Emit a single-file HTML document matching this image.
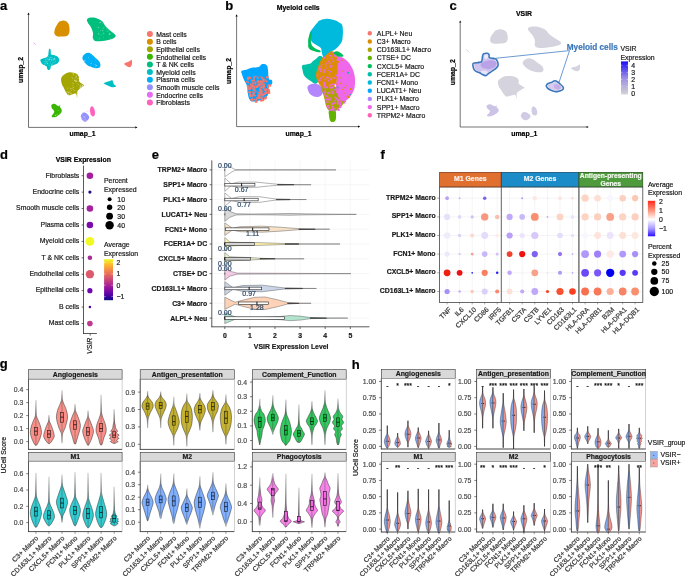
<!DOCTYPE html>
<html><head><meta charset="utf-8"><style>
html,body{margin:0;padding:0;background:#fff;width:685px;height:576px;overflow:hidden}
svg{display:block;will-change:transform}
text{font-family:"Liberation Sans", sans-serif}
</style></head><body>
<svg width="685" height="576" viewBox="0 0 685 576" font-family="Liberation Sans, sans-serif">
<rect width="685" height="576" fill="#fff"/>
<text x="0" y="10.2" font-size="13" font-weight="bold" stroke="#000" stroke-width="0.2">a</text>
<line x1="28.5" y1="127.4" x2="28.5" y2="14.3" stroke="#000" stroke-width="0.55"/>
<path d="M28.5,12.5 L27.4,14.7 L29.6,14.7Z" fill="#000"/>
<line x1="28.5" y1="127.4" x2="135.7" y2="127.4" stroke="#000" stroke-width="0.55"/>
<path d="M137.5,127.4 L135.3,126.3 L135.3,128.5Z" fill="#000"/>
<text x="82.5" y="136.4" font-size="6.9" font-weight="bold" text-anchor="middle" stroke="#000" stroke-width="0.2">umap_1</text>
<text x="23.3" y="70" font-size="6.9" font-weight="bold" text-anchor="middle" stroke="#000" stroke-width="0.2" transform="rotate(-90 23.3 70)">umap_2</text>
<defs><filter id="soft" x="-5%" y="-5%" width="110%" height="110%"><feGaussianBlur stdDeviation="0.35"/></filter></defs>
<g filter="url(#soft)">
<path d="M61,21 C62.1,20.76 63.1,20.4 64.5,20.8 C65.9,21.2 67.04,21.76 68,23 C68.96,24.24 69,25.4 69.3,27 C69.6,28.6 69.66,29.5 69.5,31 C69.34,32.5 69.2,33.46 68.5,34.5 C67.8,35.54 67.5,35.78 66,36.2 C64.5,36.62 62.8,36.58 61,36.6 C59.2,36.62 58.28,36.82 57,36.3 C55.72,35.78 55.1,35.06 54.6,34 C54.1,32.94 54.32,32.3 54.5,31 C54.68,29.7 54.9,28.9 55.5,27.5 C56.1,26.1 56.8,25.1 57.5,24 C58.2,22.9 58.3,22.6 59,22 C59.7,21.4 59.9,21.24 61,21Z" fill="#D89000"/>
<path d="M87.3,18.9 C88.24,17.9 90.32,17.5 92.5,17.5 C94.68,17.5 96.22,18.1 98.2,18.9 C100.18,19.7 100.84,19.94 102.4,21.5 C103.96,23.06 104.22,24.72 106,26.7 C107.78,28.68 109.42,29.74 111.3,31.4 C113.18,33.06 114.88,33.66 115.4,35 C115.92,36.34 115.56,37.06 113.9,38.1 C112.24,39.14 110.54,39.56 107.1,40.2 C103.66,40.84 99.52,41.62 96.7,41.3 C93.88,40.98 93.74,40.28 93,38.6 C92.26,36.92 93.42,35.18 93,32.9 C92.58,30.62 91.94,29.28 90.9,27.2 C89.86,25.12 88.52,24.16 87.8,22.5 C87.08,20.84 86.36,19.9 87.3,18.9Z" fill="#00BF7D"/>
<path d="M82.6,56.9 C83.02,55.65 83.74,54.49 85.2,53.75 C86.66,53.01 87.82,52.37 89.9,53.2 C91.98,54.03 93.72,56.22 95.6,57.9 C97.48,59.58 98.36,59.93 99.3,61.6 C100.24,63.27 100.72,64.91 100.3,66.25 C99.88,67.59 99.18,68.19 97.2,68.3 C95.22,68.41 92.59,67.62 90.4,66.8 C88.21,65.98 87.71,65.56 86.25,64.2 C84.79,62.84 83.83,61.46 83.1,60 C82.37,58.54 82.18,58.15 82.6,56.9Z" fill="#00B0F6"/>
<path d="M124.3,63.6 C124.72,62.67 127.54,62.36 129,61.6 C130.46,60.84 131.02,59.28 131.6,59.8 C132.18,60.32 132.22,62.74 131.9,64.2 C131.58,65.66 131,66.69 130,67.1 C129,67.51 128.04,66.95 126.9,66.25 C125.76,65.55 123.88,64.53 124.3,63.6Z" fill="#F8766D"/>
<path d="M49.27,48.85 C49.69,48.43 50.31,49.17 50.62,49.9 C50.93,50.63 50.68,51.56 50.83,52.5 C50.98,53.44 50.52,54 51.35,54.58 C52.18,55.16 53.69,54.96 55,55.42 C56.31,55.88 57.09,56.01 57.92,56.88 C58.75,57.75 59.09,58.69 59.17,59.79 C59.25,60.89 58.96,61.52 58.33,62.4 C57.7,63.28 57.23,63.55 56.04,64.17 C54.85,64.79 53.44,65.04 52.4,65.52 C51.36,66 51.25,65.83 50.83,66.56 C50.41,67.29 50.77,68.5 50.31,69.17 C49.85,69.84 49.16,70 48.54,69.9 C47.92,69.8 47.56,69.32 47.19,68.65 C46.82,67.98 47.19,67.19 46.67,66.56 C46.15,65.93 45.52,66.08 44.58,65.52 C43.64,64.96 42.81,64.69 41.98,63.75 C41.15,62.81 40.63,61.73 40.42,60.83 C40.21,59.93 40.32,59.79 40.94,59.27 C41.56,58.75 42.39,58.65 43.54,58.23 C44.69,57.81 45.73,57.82 46.67,57.19 C47.61,56.56 47.86,56.14 48.23,55.1 C48.6,54.06 48.33,53.23 48.54,51.98 C48.75,50.73 48.85,49.27 49.27,48.85Z" fill="#00BFC4"/>
<path d="M104,83.1 C104.54,82.66 106.12,82.22 107.3,81.8 C108.48,81.38 108.98,81.3 109.9,81 C110.82,80.7 111.28,80.22 111.9,80.3 C112.52,80.38 112.62,80.66 113,81.4 C113.38,82.14 113.2,83.04 113.8,84 C114.4,84.96 115.9,85.58 116,86.2 C116.1,86.82 115.26,86.92 114.3,87.1 C113.34,87.28 112.6,87.46 111.2,87.1 C109.8,86.74 108.62,85.92 107.3,85.3 C105.98,84.68 105.26,84.44 104.6,84 C103.94,83.56 103.46,83.54 104,83.1Z" fill="#00BFC4"/>
<path d="M61.25,78.02 C61.77,76.15 62.92,75.48 64.38,74.38 C65.84,73.28 66.67,72.81 68.54,72.5 C70.41,72.19 71.98,72.43 73.75,72.81 C75.52,73.19 76.36,73.44 77.4,74.38 C78.44,75.32 78.61,76.15 78.96,77.5 C79.31,78.85 78.55,79.9 79.17,81.15 C79.79,82.4 81.08,82.86 82.08,83.75 C83.08,84.64 84.27,84.89 84.17,85.62 C84.07,86.35 82.71,86.52 81.56,87.4 C80.41,88.28 79.27,89.06 78.44,90 C77.61,90.94 77.67,90.52 77.4,92.08 C77.13,93.64 77.35,97.5 77.08,97.81 C76.81,98.12 76.91,94.38 76.04,93.65 C75.17,92.92 74.21,93.86 72.71,94.17 C71.21,94.48 69.89,95.63 68.54,95.21 C67.19,94.79 66.88,93.54 65.94,92.08 C65,90.62 64.68,89.59 63.85,87.92 C63.02,86.25 62.29,85.73 61.77,83.75 C61.25,81.77 60.73,79.89 61.25,78.02Z" fill="#A3A500"/>
<path d="M52,104.6 C52.66,104.16 53.38,103.52 54.6,103.8 C55.82,104.08 56.96,105.74 58.1,106 C59.24,106.26 59.94,104.94 60.3,105.1 C60.66,105.26 59.64,105.92 59.9,106.8 C60.16,107.68 61.34,108.36 61.6,109.5 C61.86,110.64 61.9,111.28 61.2,112.5 C60.5,113.72 59.42,114.64 58.1,115.6 C56.78,116.56 55.9,117.12 54.6,117.3 C53.3,117.48 51.86,117.2 51.6,116.5 C51.34,115.8 52.78,114.86 53.3,113.8 C53.82,112.74 54.46,112.24 54.2,111.2 C53.94,110.16 52.58,109.64 52,108.6 C51.42,107.56 51.3,106.8 51.3,106 C51.3,105.2 51.34,105.04 52,104.6Z" fill="#39B600"/>
<path d="M81.8,113.8 C82.5,112.84 83.18,112.32 84.4,112.5 C85.62,112.68 86.94,113.74 87.9,114.7 C88.86,115.66 89.2,116.24 89.2,117.3 C89.2,118.36 88.68,119.12 87.9,120 C87.12,120.88 86.34,121.62 85.3,121.7 C84.26,121.78 83.58,121.28 82.7,120.4 C81.82,119.52 81.08,118.62 80.9,117.3 C80.72,115.98 81.1,114.76 81.8,113.8Z" fill="#9590FF"/>
<path d="M91.4,106.4 C92.1,106.14 92.9,106.66 93.6,107.7 C94.3,108.74 94.72,110.02 94.9,111.6 C95.08,113.18 95.02,114.68 94.5,115.6 C93.98,116.52 93.1,116.56 92.3,116.2 C91.5,115.84 90.94,115.24 90.5,113.8 C90.06,112.36 89.92,110.48 90.1,109 C90.28,107.52 90.7,106.66 91.4,106.4Z" fill="#FF62BC"/>
<g fill="#fff" fill-opacity="0.6"><circle cx="52.33" cy="58.94" r="0.35"/><circle cx="50.03" cy="59.48" r="0.36"/><circle cx="48.92" cy="60.47" r="0.39"/><circle cx="44.82" cy="65.27" r="0.35"/><circle cx="51.31" cy="64.21" r="0.33"/><circle cx="47.27" cy="58.35" r="0.4"/><circle cx="49.72" cy="59.2" r="0.44"/><circle cx="51.84" cy="60.56" r="0.46"/><circle cx="46.92" cy="61.42" r="0.38"/><circle cx="47.45" cy="63.23" r="0.47"/><circle cx="54.93" cy="59.02" r="0.51"/><circle cx="45.86" cy="57.68" r="0.34"/><circle cx="54.4" cy="58.93" r="0.36"/><circle cx="51.7" cy="57.82" r="0.45"/><circle cx="47.5" cy="63.79" r="0.44"/><circle cx="45.95" cy="59.44" r="0.44"/><circle cx="51.69" cy="59.55" r="0.48"/><circle cx="53.53" cy="59.92" r="0.44"/><circle cx="54.67" cy="58.28" r="0.46"/><circle cx="48.72" cy="59.74" r="0.4"/><circle cx="45.05" cy="63.67" r="0.5"/><circle cx="53.99" cy="58.45" r="0.36"/><circle cx="47.65" cy="59.1" r="0.46"/><circle cx="49.41" cy="59.2" r="0.48"/><circle cx="52.17" cy="64.82" r="0.47"/><circle cx="52.45" cy="63.2" r="0.37"/><circle cx="44.17" cy="61.44" r="0.37"/><circle cx="49.18" cy="58.05" r="0.45"/><circle cx="55.71" cy="61.62" r="0.46"/><circle cx="49.25" cy="65.69" r="0.38"/><circle cx="46.01" cy="62.05" r="0.52"/><circle cx="50.02" cy="63.12" r="0.35"/><circle cx="53.18" cy="62.6" r="0.34"/><circle cx="50.52" cy="57.45" r="0.47"/><circle cx="54.07" cy="59.89" r="0.32"/><circle cx="50.41" cy="62.07" r="0.34"/><circle cx="53.73" cy="59.24" r="0.34"/><circle cx="44.49" cy="65.22" r="0.53"/><circle cx="47.02" cy="61.77" r="0.45"/><circle cx="54.59" cy="62.47" r="0.34"/><circle cx="54.96" cy="64.43" r="0.52"/><circle cx="44.92" cy="57.78" r="0.46"/><circle cx="48.48" cy="56.81" r="0.42"/><circle cx="45.4" cy="60.17" r="0.41"/><circle cx="51.42" cy="65.75" r="0.48"/></g>
<g fill="#fff" fill-opacity="0.6"><circle cx="76.18" cy="81.25" r="0.52"/><circle cx="74.76" cy="80.36" r="0.35"/><circle cx="80.73" cy="87.25" r="0.53"/><circle cx="74.23" cy="90.18" r="0.45"/><circle cx="68.41" cy="92.27" r="0.54"/><circle cx="76.17" cy="76.1" r="0.51"/><circle cx="76.55" cy="77.18" r="0.31"/><circle cx="73.44" cy="73.32" r="0.53"/><circle cx="72.85" cy="85.59" r="0.4"/><circle cx="74.6" cy="80.03" r="0.45"/><circle cx="73.7" cy="83.47" r="0.47"/><circle cx="73.36" cy="74.73" r="0.55"/><circle cx="83.07" cy="85.46" r="0.4"/><circle cx="79.49" cy="88.88" r="0.35"/><circle cx="70.66" cy="93.46" r="0.53"/><circle cx="71.81" cy="93.93" r="0.42"/><circle cx="73.26" cy="87.29" r="0.55"/><circle cx="78.3" cy="84.47" r="0.48"/><circle cx="75.99" cy="81.45" r="0.5"/><circle cx="80.04" cy="87.9" r="0.54"/><circle cx="75.79" cy="81.12" r="0.34"/><circle cx="77.11" cy="83.49" r="0.37"/><circle cx="72.02" cy="77.76" r="0.39"/><circle cx="69.91" cy="93.99" r="0.31"/><circle cx="70.02" cy="91.49" r="0.48"/><circle cx="76.06" cy="73.94" r="0.42"/><circle cx="75.09" cy="73.57" r="0.42"/><circle cx="75.92" cy="76.94" r="0.5"/><circle cx="81.72" cy="86.46" r="0.39"/><circle cx="80.7" cy="85.48" r="0.35"/><circle cx="80.47" cy="85.4" r="0.47"/><circle cx="70.11" cy="89.1" r="0.35"/><circle cx="81.07" cy="87.65" r="0.43"/><circle cx="70.69" cy="88.25" r="0.48"/><circle cx="76.2" cy="80.63" r="0.37"/><circle cx="72.18" cy="83" r="0.39"/><circle cx="73.03" cy="78.01" r="0.33"/><circle cx="79.62" cy="85.27" r="0.32"/><circle cx="71.77" cy="88.46" r="0.31"/><circle cx="76.98" cy="92.95" r="0.47"/><circle cx="72.08" cy="88.59" r="0.46"/><circle cx="74.66" cy="80.18" r="0.36"/><circle cx="77.04" cy="96.11" r="0.38"/><circle cx="82.28" cy="86.58" r="0.51"/><circle cx="73.4" cy="89.76" r="0.44"/><circle cx="75.05" cy="78.58" r="0.44"/><circle cx="69.38" cy="92.7" r="0.39"/><circle cx="68.31" cy="92.17" r="0.33"/><circle cx="76.85" cy="90.57" r="0.36"/><circle cx="76.13" cy="79.1" r="0.3"/><circle cx="71.37" cy="92.97" r="0.34"/><circle cx="82.81" cy="85.36" r="0.34"/><circle cx="72.17" cy="76.95" r="0.32"/><circle cx="72.74" cy="78.93" r="0.41"/><circle cx="71.58" cy="90.15" r="0.44"/><circle cx="80.19" cy="86.19" r="0.53"/><circle cx="75.6" cy="80.99" r="0.41"/><circle cx="78.04" cy="78.35" r="0.5"/><circle cx="82.48" cy="85.44" r="0.53"/><circle cx="77.06" cy="86.12" r="0.34"/><circle cx="67.87" cy="88.01" r="0.5"/><circle cx="80.32" cy="84.01" r="0.34"/><circle cx="67.22" cy="91.67" r="0.5"/><circle cx="75.72" cy="80.27" r="0.47"/><circle cx="78.04" cy="81.8" r="0.32"/><circle cx="72.21" cy="73.14" r="0.34"/><circle cx="68.37" cy="94.22" r="0.51"/><circle cx="64.69" cy="89.14" r="0.36"/><circle cx="81.65" cy="84.68" r="0.41"/><circle cx="78.8" cy="81.23" r="0.36"/></g>
<g fill="#fff" fill-opacity="0.6"><circle cx="103.94" cy="27.59" r="0.43"/><circle cx="99.79" cy="22.76" r="0.41"/><circle cx="101.71" cy="34.97" r="0.39"/><circle cx="103.85" cy="33.16" r="0.46"/><circle cx="103.37" cy="33.22" r="0.38"/><circle cx="107.47" cy="31.56" r="0.41"/><circle cx="103.4" cy="37.03" r="0.38"/><circle cx="102.73" cy="23.65" r="0.33"/><circle cx="109.33" cy="34.33" r="0.51"/><circle cx="110.05" cy="33.86" r="0.54"/><circle cx="100.39" cy="22.18" r="0.53"/><circle cx="99.15" cy="38.94" r="0.41"/><circle cx="110.17" cy="38.81" r="0.47"/><circle cx="98.89" cy="33.99" r="0.51"/><circle cx="108.98" cy="30.76" r="0.44"/><circle cx="105.04" cy="25.41" r="0.44"/><circle cx="103.09" cy="30.4" r="0.36"/><circle cx="103.06" cy="28.7" r="0.41"/><circle cx="106.96" cy="28.93" r="0.47"/><circle cx="102.45" cy="30.73" r="0.43"/><circle cx="109.13" cy="33.53" r="0.45"/><circle cx="98.19" cy="27.49" r="0.5"/><circle cx="100.73" cy="30.68" r="0.36"/><circle cx="99.72" cy="37.93" r="0.36"/><circle cx="98.42" cy="33.67" r="0.37"/></g>
<g fill="#fff" fill-opacity="0.6"><circle cx="95.21" cy="65.88" r="0.35"/><circle cx="95.11" cy="64.14" r="0.49"/><circle cx="90.41" cy="66.27" r="0.55"/><circle cx="84.65" cy="61.01" r="0.54"/><circle cx="95.68" cy="59.91" r="0.38"/><circle cx="96.06" cy="65.93" r="0.34"/><circle cx="88.39" cy="57.81" r="0.44"/><circle cx="96.74" cy="65.57" r="0.55"/><circle cx="95.75" cy="67.16" r="0.32"/><circle cx="91.35" cy="55.53" r="0.34"/><circle cx="91.09" cy="63.32" r="0.54"/><circle cx="84.92" cy="60.83" r="0.55"/></g>
<g fill="#fff" fill-opacity="0.6"><circle cx="84.03" cy="121.03" r="0.51"/><circle cx="83.44" cy="116.4" r="0.45"/><circle cx="81.93" cy="118.82" r="0.51"/><circle cx="85.15" cy="119.81" r="0.46"/><circle cx="83.88" cy="116.82" r="0.33"/><circle cx="81.72" cy="117.86" r="0.4"/><circle cx="82.47" cy="113.98" r="0.42"/><circle cx="81.48" cy="117.68" r="0.43"/><circle cx="84.42" cy="117.65" r="0.41"/><circle cx="85" cy="117.14" r="0.42"/><circle cx="84.29" cy="119.99" r="0.46"/><circle cx="84.7" cy="116.9" r="0.35"/><circle cx="86.03" cy="115.72" r="0.32"/><circle cx="86.58" cy="120.62" r="0.49"/></g>
<g fill="#fff" fill-opacity="0.6"><circle cx="59" cy="106.54" r="0.35"/><circle cx="59.3" cy="114.12" r="0.31"/><circle cx="58.34" cy="110.59" r="0.46"/><circle cx="55.51" cy="115.2" r="0.5"/><circle cx="55.05" cy="114.97" r="0.31"/><circle cx="56.9" cy="105.48" r="0.31"/><circle cx="57.08" cy="114.82" r="0.51"/><circle cx="55.66" cy="115.24" r="0.35"/></g>
</g>
<line x1="33.6" y1="42.6" x2="35.7" y2="44.6" stroke="#E76BF3" stroke-width="0.6"/>
<line x1="86" y1="111.8" x2="90.5" y2="110.5" stroke="#FF62BC" stroke-width="0.4" stroke-opacity="0.5"/>
<circle cx="149.9" cy="34.1" r="3" fill="#F8766D"/>
<text x="156.2" y="36.8" font-size="6.9" fill="#1a1a1a" stroke="#1a1a1a" stroke-width="0.2">Mast cells</text>
<circle cx="149.9" cy="41.69" r="3" fill="#D89000"/>
<text x="156.2" y="44.39" font-size="6.9" fill="#1a1a1a" stroke="#1a1a1a" stroke-width="0.2">B cells</text>
<circle cx="149.9" cy="49.28" r="3" fill="#A3A500"/>
<text x="156.2" y="51.98" font-size="6.9" fill="#1a1a1a" stroke="#1a1a1a" stroke-width="0.2">Epithelial cells</text>
<circle cx="149.9" cy="56.87" r="3" fill="#39B600"/>
<text x="156.2" y="59.57" font-size="6.9" fill="#1a1a1a" stroke="#1a1a1a" stroke-width="0.2">Endothelial cells</text>
<circle cx="149.9" cy="64.46" r="3" fill="#00BF7D"/>
<text x="156.2" y="67.16" font-size="6.9" fill="#1a1a1a" stroke="#1a1a1a" stroke-width="0.2">T &amp; NK cells</text>
<circle cx="149.9" cy="72.05" r="3" fill="#00BFC4"/>
<text x="156.2" y="74.75" font-size="6.9" fill="#1a1a1a" stroke="#1a1a1a" stroke-width="0.2">Myeloid cells</text>
<circle cx="149.9" cy="79.64" r="3" fill="#00B0F6"/>
<text x="156.2" y="82.34" font-size="6.9" fill="#1a1a1a" stroke="#1a1a1a" stroke-width="0.2">Plasma cells</text>
<circle cx="149.9" cy="87.23" r="3" fill="#9590FF"/>
<text x="156.2" y="89.93" font-size="6.9" fill="#1a1a1a" stroke="#1a1a1a" stroke-width="0.2">Smooth muscle cells</text>
<circle cx="149.9" cy="94.82" r="3" fill="#E76BF3"/>
<text x="156.2" y="97.52" font-size="6.9" fill="#1a1a1a" stroke="#1a1a1a" stroke-width="0.2">Endocrine cells</text>
<circle cx="149.9" cy="102.41" r="3" fill="#FF62BC"/>
<text x="156.2" y="105.11" font-size="6.9" fill="#1a1a1a" stroke="#1a1a1a" stroke-width="0.2">Fibroblasts</text>
<text x="225.3" y="10.2" font-size="13" font-weight="bold" stroke="#000" stroke-width="0.2">b</text>
<text x="298.2" y="10.2" font-size="6.9" font-weight="bold" text-anchor="middle" stroke="#000" stroke-width="0.2">Myeloid cells</text>
<line x1="236.6" y1="126.6" x2="236.6" y2="16.1" stroke="#000" stroke-width="0.55"/>
<path d="M236.6,14.3 L235.5,16.5 L237.7,16.5Z" fill="#000"/>
<line x1="236.6" y1="126.6" x2="358.4" y2="126.6" stroke="#000" stroke-width="0.55"/>
<path d="M360.2,126.6 L358,125.5 L358,127.7Z" fill="#000"/>
<text x="298.5" y="135.6" font-size="6.9" font-weight="bold" text-anchor="middle" stroke="#000" stroke-width="0.2">umap_1</text>
<text x="231.3" y="71" font-size="6.9" font-weight="bold" text-anchor="middle" stroke="#000" stroke-width="0.2" transform="rotate(-90 231.3 71)">umap_2</text>
<g filter="url(#soft)">
<path d="M241.5,70.9 C242.36,70.04 244.18,70.42 246.2,69.8 C248.22,69.18 249.1,68.36 251.6,67.8 C254.1,67.24 256.66,67.7 258.7,67 C260.74,66.3 260.24,64.68 261.8,64.3 C263.36,63.92 265.26,63.92 266.5,65.1 C267.74,66.28 267.54,67.47 268,70.2 C268.46,72.93 268.02,76.73 268.8,78.75 C269.58,80.77 271.28,79.21 271.9,80.3 C272.52,81.39 272.52,83.1 271.9,84.2 C271.28,85.3 269.5,84.08 268.8,85.8 C268.1,87.52 269.02,90.3 268.4,92.8 C267.78,95.3 267.5,96.74 265.7,98.3 C263.9,99.86 262.06,99.98 259.4,100.6 C256.74,101.22 254.42,101.72 252.4,101.4 C250.38,101.08 250.24,100.72 249.3,99 C248.36,97.28 248.18,95.44 247.7,92.8 C247.22,90.16 247.68,88.46 246.9,85.8 C246.12,83.14 244.8,81.84 243.8,79.5 C242.8,77.16 242.36,75.82 241.9,74.1 C241.44,72.38 240.64,71.76 241.5,70.9Z" fill="#00A6FF"/>
<g fill="#F8766D"><rect x="249.83" y="95.12" width="1.9" height="1.26"/><rect x="258.94" y="91.66" width="2.32" height="2"/><rect x="253.17" y="82.47" width="1.29" height="1.18"/><rect x="253.23" y="89.49" width="1.98" height="1.54"/><rect x="254.79" y="88.78" width="1.16" height="1.34"/><rect x="258.59" y="94.49" width="2.07" height="2.14"/><rect x="258.8" y="83.77" width="1.87" height="2.17"/><rect x="256.94" y="84.23" width="2.29" height="1.14"/><rect x="257.85" y="96.31" width="2.05" height="2.33"/><rect x="261.13" y="94.85" width="1.66" height="1.29"/><rect x="263.51" y="85.89" width="1.62" height="1.29"/><rect x="261.05" y="86.48" width="1.22" height="1.45"/><rect x="264.47" y="92.04" width="2.33" height="1.94"/><rect x="263.27" y="93.18" width="2.11" height="1.86"/><rect x="253.62" y="77.26" width="1.15" height="1.7"/><rect x="251.71" y="98.19" width="1.63" height="1.46"/><rect x="248.28" y="87.81" width="1.86" height="2.35"/><rect x="261.42" y="82.71" width="1.87" height="1.83"/><rect x="257.91" y="84.05" width="2.38" height="1.74"/><rect x="252.87" y="85.83" width="1.91" height="1.68"/><rect x="251.9" y="79.76" width="2.39" height="1.48"/><rect x="260.49" y="93.56" width="2.09" height="1.49"/><rect x="263.88" y="89.13" width="1.43" height="1.69"/><rect x="262.67" y="84.55" width="2.11" height="2.28"/><rect x="257.94" y="81.59" width="1.86" height="2.16"/><rect x="265" y="91.24" width="2.04" height="2.37"/><rect x="263.82" y="97.48" width="1.66" height="1.51"/><rect x="252.32" y="88" width="2.08" height="1.77"/><rect x="253.76" y="95.1" width="2.04" height="1.17"/><rect x="262.35" y="78.47" width="2.36" height="1.96"/><rect x="263.76" y="83.47" width="1.14" height="1.36"/><rect x="257.54" y="94.05" width="1.71" height="2.26"/><rect x="248.39" y="76.49" width="1.59" height="1.6"/><rect x="251.64" y="85.98" width="2.3" height="1.58"/><rect x="248.83" y="91.39" width="1.98" height="2.05"/><rect x="249.92" y="77.83" width="1.4" height="1.2"/><rect x="253.48" y="85.57" width="2.05" height="2.03"/><rect x="256.34" y="100.29" width="1.18" height="2.11"/><rect x="247.29" y="79.06" width="1.62" height="1.18"/><rect x="260.36" y="96.85" width="1.12" height="1.8"/><rect x="265.67" y="81.07" width="1.21" height="1.42"/><rect x="255.18" y="75.78" width="1.32" height="1.44"/><rect x="262.22" y="80.28" width="2.09" height="1.82"/><rect x="254.7" y="81.58" width="1.86" height="2.17"/><rect x="251.17" y="80.03" width="1.83" height="1.56"/><rect x="246.91" y="76.92" width="2.03" height="2.27"/><rect x="250.78" y="95.11" width="1.99" height="2.22"/><rect x="252.59" y="92.77" width="2.08" height="1.97"/><rect x="259.05" y="83.41" width="1.61" height="1.33"/><rect x="260.72" y="83.21" width="2" height="1.82"/><rect x="260.93" y="98.02" width="1.92" height="2.1"/><rect x="260.53" y="100.03" width="1.14" height="1.25"/><rect x="259.5" y="89.5" width="1.35" height="1.87"/><rect x="261.48" y="98.87" width="2.01" height="2.19"/><rect x="261" y="99.99" width="1.23" height="1.18"/><rect x="262.33" y="93.55" width="1.62" height="1.81"/><rect x="263.31" y="80.58" width="1.72" height="1.56"/><rect x="264.94" y="88.69" width="1.54" height="2.2"/><rect x="251.71" y="91.32" width="1.45" height="1.22"/><rect x="255.27" y="99.08" width="1.56" height="2.15"/><rect x="256.62" y="85.68" width="1.46" height="2.34"/><rect x="262.49" y="86.73" width="1.61" height="2.11"/><rect x="261.48" y="90.44" width="1.13" height="2.1"/><rect x="264.15" y="97.86" width="2.12" height="1.65"/><rect x="251.2" y="84.22" width="1.71" height="1.47"/><rect x="250.44" y="84.44" width="2.08" height="1.58"/><rect x="259.96" y="100.01" width="1.84" height="1.44"/><rect x="259.09" y="93.21" width="1.73" height="2.02"/><rect x="256.53" y="98.02" width="1.28" height="1.17"/><rect x="263.75" y="88.28" width="1.16" height="2.17"/><rect x="257.87" y="97.27" width="1.87" height="1.25"/><rect x="251.32" y="99.52" width="1.18" height="1.99"/><rect x="248.89" y="93.88" width="1.49" height="1.1"/><rect x="257.17" y="76.51" width="1.44" height="2.33"/><rect x="261.61" y="77.07" width="1.74" height="1.99"/><rect x="266.06" y="80.51" width="1.44" height="1.56"/><rect x="261.38" y="99.73" width="2.1" height="1.54"/><rect x="255.85" y="97.22" width="1.49" height="1.33"/><rect x="267.51" y="86.68" width="1.64" height="1.39"/><rect x="248.76" y="87.58" width="2.38" height="1.81"/><rect x="269.35" y="84.41" width="1.77" height="2.29"/><rect x="259.78" y="86.5" width="2.07" height="1.43"/><rect x="249.2" y="76.86" width="1.68" height="1.91"/><rect x="248.53" y="88.83" width="1.56" height="1.17"/><rect x="249.82" y="86.34" width="2.13" height="2.1"/><rect x="255.24" y="90.7" width="1.46" height="1.11"/><rect x="258.09" y="84.61" width="2.06" height="1.58"/><rect x="266.18" y="76.28" width="1.12" height="2.1"/><rect x="247.59" y="81.86" width="1.58" height="1.22"/><rect x="267.47" y="91.99" width="1.62" height="1.69"/><rect x="262.37" y="94.31" width="1.79" height="2.19"/><rect x="253.83" y="98.81" width="1.3" height="1.11"/><rect x="253.43" y="91.65" width="1.77" height="1.21"/><rect x="257.27" y="84.85" width="1.46" height="1.68"/><rect x="247.71" y="91.56" width="1.48" height="1.22"/><rect x="253.26" y="99" width="1.22" height="1.55"/><rect x="260.48" y="89.12" width="1.68" height="2.05"/><rect x="246.82" y="85.24" width="1.53" height="2"/><rect x="260.87" y="96.58" width="1.72" height="1.52"/><rect x="256.91" y="80.3" width="2.16" height="1.96"/><rect x="249.9" y="99.09" width="1.75" height="1.46"/><rect x="251.3" y="85.23" width="1.26" height="1.35"/><rect x="264.78" y="79.4" width="1.45" height="1.19"/><rect x="259.76" y="80.19" width="1.44" height="1.69"/><rect x="253.09" y="76.34" width="1.86" height="1.4"/><rect x="246.13" y="80.76" width="1.37" height="1.96"/><rect x="250.96" y="98.72" width="1.87" height="2.02"/><rect x="261.1" y="92.03" width="1.34" height="1.71"/><rect x="260.53" y="91.01" width="1.46" height="1.71"/><rect x="260.42" y="90.7" width="1.68" height="1.83"/><rect x="264.95" y="96.94" width="1.73" height="1.9"/><rect x="265.27" y="96.02" width="1.65" height="2.29"/><rect x="253.65" y="86.49" width="1.35" height="2.31"/><rect x="267.51" y="85.83" width="1.44" height="1.57"/><rect x="261.1" y="85.88" width="1.78" height="1.45"/><rect x="249.46" y="94.77" width="1.67" height="2.1"/><rect x="259.03" y="97.33" width="2.33" height="1.16"/><rect x="267.48" y="84.3" width="1.44" height="2.39"/><rect x="259.3" y="80.84" width="1.65" height="1.78"/><rect x="251.86" y="84.26" width="1.41" height="2.4"/><rect x="267.37" y="88.77" width="2.03" height="1.16"/><rect x="266.08" y="89.21" width="1.4" height="1.18"/><rect x="257.81" y="94.74" width="2.33" height="2.23"/><rect x="257.59" y="97.69" width="2.37" height="1.52"/><rect x="267.81" y="91.75" width="1.55" height="1.55"/><rect x="263.33" y="84.41" width="1.39" height="1.25"/><rect x="247.12" y="85.32" width="1.93" height="1.57"/><rect x="253.89" y="79.39" width="1.13" height="1.97"/><rect x="267.78" y="92.33" width="2.39" height="1.34"/><rect x="259.94" y="90.68" width="2.26" height="1.89"/><rect x="260.12" y="88.71" width="1.27" height="2.05"/><rect x="249.16" y="94.03" width="1.97" height="2.01"/><rect x="259.93" y="80.76" width="1.81" height="1.89"/><rect x="254.14" y="83.3" width="1.99" height="1.19"/><rect x="266.38" y="76.24" width="2.33" height="1.75"/><rect x="254.84" y="100.5" width="2.28" height="2.25"/><rect x="267.72" y="89.19" width="1.89" height="2.34"/><rect x="260.18" y="76.33" width="1.92" height="1.16"/><rect x="263.04" y="85.64" width="1.57" height="2.32"/><rect x="257.38" y="91.83" width="1.87" height="1.37"/><rect x="252.28" y="81.94" width="1.51" height="2.38"/><rect x="252.98" y="79.38" width="1.25" height="1.67"/><rect x="247.8" y="87.16" width="2.1" height="1.45"/><rect x="259.24" y="89.35" width="1.96" height="1.73"/><rect x="265.84" y="88.19" width="1.23" height="1.43"/><rect x="265.18" y="90.29" width="1.37" height="1.85"/><rect x="268.2" y="89.63" width="1.55" height="1.76"/><rect x="249.85" y="83.37" width="1.95" height="2.23"/><rect x="259.44" y="88.11" width="1.8" height="1.75"/><rect x="261.39" y="81.54" width="1.92" height="1.82"/><rect x="249.49" y="91.75" width="1.74" height="1.69"/><rect x="268.17" y="90.87" width="2.01" height="2.39"/><rect x="263.03" y="99.12" width="1.24" height="1.99"/><rect x="256.28" y="85.42" width="2.09" height="2.12"/><rect x="255.49" y="85.5" width="1.71" height="2.35"/><rect x="265.78" y="80.62" width="1.53" height="1.26"/><rect x="252.6" y="94.03" width="2.23" height="1.65"/></g>
<path d="M302.2,65.5 C302.88,64.34 304.38,64.88 306,64.5 C307.62,64.12 308.9,64.3 310.3,63.6 C311.7,62.9 311.86,61.94 313,61 C314.14,60.06 314.64,59.9 316,58.9 C317.36,57.9 318.28,56 319.8,56 C321.32,56 322.84,56.04 323.6,58.9 C324.36,61.76 324.36,66.48 323.6,70.3 C322.84,74.12 321.32,75.32 319.8,78 C318.28,80.68 317.9,83.14 316,83.7 C314.1,84.26 312.6,82.34 310.3,80.8 C308,79.26 306.04,78.1 304.5,76 C302.96,73.9 303.06,72.4 302.6,70.3 C302.14,68.2 301.52,66.66 302.2,65.5Z" fill="#00C1A7"/>
<path d="M308.4,85.6 C310,84.28 313.34,83.32 316,83.7 C318.66,84.08 320.36,85.6 321.7,87.5 C323.04,89.4 323.46,91.3 322.7,93.2 C321.94,95.1 320.2,96.62 317.9,97 C315.6,97.38 313.18,96.44 311.2,95.1 C309.22,93.76 308.56,92.2 308,90.3 C307.44,88.4 306.8,86.92 308.4,85.6Z" fill="#B385FF"/>
<path d="M321,86 C322.1,84.7 325.2,85.4 328,85.5 C330.8,85.6 332.4,85.2 335,86.5 C337.6,87.8 338.8,89.9 341,92 C343.2,94.1 345.4,94.8 346,97 C346.6,99.2 345.6,100.5 344,103 C342.4,105.5 340.6,107.8 338,109.5 C335.4,111.2 333.3,112 331,111.5 C328.7,111 327.8,109.5 326.5,107 C325.2,104.5 325.3,102 324.5,99 C323.7,96 323.2,94.6 322.5,92 C321.8,89.4 319.9,87.3 321,86Z" fill="#AEA200"/>
<path d="M333,55 C334,54.7 337.4,55.5 340,56.5 C342.6,57.5 343.8,58.1 346,60 C348.2,61.9 349.3,63 351,66 C352.7,69 353.74,71 354.5,75 C355.26,79 355.2,82.4 354.8,86 C354.4,89.6 353.86,90.4 352.5,93 C351.14,95.6 350.1,97.4 348,99 C345.9,100.6 344,101.6 342,101 C340,100.4 339.2,98.6 338,96 C336.8,93.4 336.3,91.6 336,88 C335.7,84.4 336.3,82.4 336.5,78 C336.7,73.6 337.3,70 337,66 C336.7,62 335.8,60.2 335,58 C334.2,55.8 332,55.3 333,55Z" fill="#EF67EB"/>
<path d="M323,57 C324.6,55 326,53.1 328,52 C330,50.9 331.4,50.9 333,51.5 C334.6,52.1 335.14,52.9 336,55 C336.86,57.1 337.04,58.6 337.3,62 C337.56,65.4 337.4,68.4 337.3,72 C337.2,75.6 337.36,77.3 336.8,80 C336.24,82.7 336.26,84 334.5,85.5 C332.74,87 330.5,87.2 328,87.5 C325.5,87.8 324,88.1 322,87 C320,85.9 319.2,84.2 318,82 C316.8,79.8 316.2,78.4 316,76 C315.8,73.6 316.2,72.8 317,70 C317.8,67.2 318.8,64.6 320,62 C321.2,59.4 321.4,59 323,57Z" fill="#DB8E00"/>
<path d="M329.3,110.4 C330.5,109.26 333.66,107.88 335,109.4 C336.34,110.92 336.18,115.52 336,118 C335.82,120.48 335.24,121.22 334.1,121.8 C332.96,122.38 331.32,122.24 330.3,120.9 C329.28,119.56 329.2,117.2 329,115.1 C328.8,113 328.1,111.54 329.3,110.4Z" fill="#64B200"/>
<g fill="#EF67EB"><rect x="335.99" y="91.75" width="1.36" height="1.36"/><rect x="341.18" y="98.71" width="1.17" height="1.17"/><rect x="320.72" y="66.78" width="1" height="1"/><rect x="326.33" y="98.36" width="1.23" height="1.23"/><rect x="326.28" y="101.42" width="1.5" height="1.5"/><rect x="327.21" y="107.04" width="1.1" height="1.1"/><rect x="326.77" y="78.74" width="0.96" height="0.96"/><rect x="328.04" y="92.69" width="1.1" height="1.1"/><rect x="328.36" y="99.49" width="0.92" height="0.92"/><rect x="329.4" y="99.27" width="1.04" height="1.04"/><rect x="336.91" y="102.62" width="1.46" height="1.46"/><rect x="331.25" y="102.72" width="1.8" height="1.8"/><rect x="332.55" y="109.41" width="1.82" height="1.82"/><rect x="331.03" y="76.8" width="1.43" height="1.43"/><rect x="336.61" y="77.8" width="1.5" height="1.5"/><rect x="344.05" y="97.7" width="1.88" height="1.88"/><rect x="331.6" y="105.85" width="1.65" height="1.65"/><rect x="330.77" y="57.82" width="1.78" height="1.78"/><rect x="333.52" y="100.18" width="1.2" height="1.2"/><rect x="331.98" y="108.08" width="1.79" height="1.79"/><rect x="337.62" y="102.18" width="1.46" height="1.46"/><rect x="339.36" y="106.56" width="0.94" height="0.94"/><rect x="326.42" y="105.25" width="1.81" height="1.81"/><rect x="337.89" y="109.42" width="1.38" height="1.38"/><rect x="331.4" y="83.66" width="1.42" height="1.42"/><rect x="319.3" y="68.2" width="1.62" height="1.62"/><rect x="316.49" y="74.63" width="1.61" height="1.61"/><rect x="325.63" y="86.42" width="1.73" height="1.73"/><rect x="337.5" y="109.06" width="0.9" height="0.9"/><rect x="333.61" y="83.7" width="1.43" height="1.43"/><rect x="327.41" y="97.34" width="1.15" height="1.15"/><rect x="324.85" y="86.81" width="1.4" height="1.4"/><rect x="337.73" y="99.5" width="1.14" height="1.14"/><rect x="337.02" y="67.88" width="1.49" height="1.49"/><rect x="330.58" y="64.98" width="1.87" height="1.87"/><rect x="335.58" y="97.68" width="1.89" height="1.89"/><rect x="334.21" y="96.7" width="0.94" height="0.94"/><rect x="327.92" y="77.47" width="0.98" height="0.98"/><rect x="325.19" y="67.19" width="1.45" height="1.45"/><rect x="334.46" y="107.95" width="1.26" height="1.26"/><rect x="332.12" y="90.99" width="0.96" height="0.96"/><rect x="326.98" y="53.11" width="1.08" height="1.08"/><rect x="331.72" y="107.41" width="1.62" height="1.62"/><rect x="329.01" y="98.24" width="1.42" height="1.42"/><rect x="326.42" y="95.53" width="1.57" height="1.57"/><rect x="331.46" y="103.96" width="1.13" height="1.13"/><rect x="329.8" y="64.95" width="0.94" height="0.94"/><rect x="322.34" y="76.15" width="1.38" height="1.38"/><rect x="330.57" y="55.78" width="1.3" height="1.3"/><rect x="323.11" y="82.82" width="1.03" height="1.03"/><rect x="331.08" y="92.16" width="1.13" height="1.13"/><rect x="337.84" y="100.01" width="1.05" height="1.05"/><rect x="335.53" y="59.22" width="1.22" height="1.22"/><rect x="335.29" y="73.95" width="1.16" height="1.16"/><rect x="333.73" y="102.02" width="1.62" height="1.62"/><rect x="330.59" y="90.28" width="1.25" height="1.25"/><rect x="328.86" y="84.23" width="1.85" height="1.85"/><rect x="337.45" y="103.93" width="1.1" height="1.1"/><rect x="323.88" y="92.1" width="1.33" height="1.33"/><rect x="329.58" y="70.92" width="1.53" height="1.53"/><rect x="340.12" y="93.69" width="1.08" height="1.08"/><rect x="325.87" y="76.84" width="0.95" height="0.95"/><rect x="334.03" y="54.97" width="1.74" height="1.74"/><rect x="330.63" y="87.88" width="1.27" height="1.27"/><rect x="328.8" y="96.08" width="0.97" height="0.97"/><rect x="322.66" y="87.15" width="1.1" height="1.1"/><rect x="331.54" y="86.46" width="1.74" height="1.74"/><rect x="320.09" y="70.39" width="1.75" height="1.75"/><rect x="323.97" y="84.1" width="1.51" height="1.51"/><rect x="330.56" y="109.06" width="1.62" height="1.62"/><rect x="336.77" y="109.57" width="0.93" height="0.93"/><rect x="329.32" y="66.3" width="1.55" height="1.55"/><rect x="342.97" y="99.42" width="1.44" height="1.44"/><rect x="329.53" y="99.43" width="1.28" height="1.28"/><rect x="329.9" y="54.95" width="1.21" height="1.21"/><rect x="340.12" y="102.76" width="1.37" height="1.37"/><rect x="335.97" y="91.17" width="1.37" height="1.37"/><rect x="344.47" y="100.58" width="1.7" height="1.7"/><rect x="341.91" y="93.18" width="1.84" height="1.84"/><rect x="334.92" y="96.68" width="1.15" height="1.15"/><rect x="318.19" y="80.42" width="0.92" height="0.92"/><rect x="332.06" y="92.27" width="1.64" height="1.64"/><rect x="330.11" y="97.54" width="0.98" height="0.98"/><rect x="325.99" y="62.68" width="1.02" height="1.02"/><rect x="324.45" y="94.21" width="1.6" height="1.6"/><rect x="326.91" y="92.02" width="1.6" height="1.6"/><rect x="337.32" y="99.31" width="1.79" height="1.79"/><rect x="329.47" y="86.67" width="1.53" height="1.53"/><rect x="324.8" y="91.4" width="1.11" height="1.11"/><rect x="321.62" y="64.11" width="0.93" height="0.93"/><rect x="334.94" y="109.48" width="1.22" height="1.22"/><rect x="323.41" y="81.71" width="1.87" height="1.87"/><rect x="327.16" y="107.05" width="1.57" height="1.57"/><rect x="335.68" y="75.04" width="1.43" height="1.43"/><rect x="320.5" y="69.2" width="1.09" height="1.09"/><rect x="324.02" y="90.42" width="1.07" height="1.07"/><rect x="323.95" y="85.4" width="1.24" height="1.24"/><rect x="340.14" y="101.45" width="1.24" height="1.24"/><rect x="324.55" y="78.75" width="1.51" height="1.51"/><rect x="337.85" y="109" width="1.76" height="1.76"/><rect x="324.07" y="69.44" width="1.32" height="1.32"/><rect x="334.92" y="98.66" width="1.57" height="1.57"/><rect x="338.79" y="99.33" width="1.73" height="1.73"/><rect x="328.67" y="74.12" width="1.21" height="1.21"/><rect x="339.61" y="102.34" width="1.28" height="1.28"/><rect x="325.23" y="95.44" width="1.69" height="1.69"/><rect x="335.66" y="74.66" width="1.17" height="1.17"/><rect x="327.86" y="69.88" width="1.01" height="1.01"/><rect x="330.41" y="78.62" width="1.43" height="1.43"/><rect x="337.01" y="101.15" width="1.76" height="1.76"/><rect x="328.28" y="105" width="0.91" height="0.91"/><rect x="339.8" y="103.99" width="1.64" height="1.64"/><rect x="333.85" y="53.67" width="1.6" height="1.6"/><rect x="337.04" y="107.52" width="1.58" height="1.58"/><rect x="332.54" y="83.55" width="1.18" height="1.18"/><rect x="325.33" y="65.27" width="1.05" height="1.05"/><rect x="328.55" y="101.63" width="1.43" height="1.43"/><rect x="343.49" y="101.98" width="1.63" height="1.63"/><rect x="333.33" y="88.97" width="1.56" height="1.56"/><rect x="324.94" y="63.94" width="1.38" height="1.38"/><rect x="328.16" y="60.63" width="1.39" height="1.39"/><rect x="332.32" y="60.71" width="1.36" height="1.36"/><rect x="339.4" y="90.77" width="1.53" height="1.53"/><rect x="329.83" y="109.25" width="1.48" height="1.48"/><rect x="319.41" y="65.68" width="1.18" height="1.18"/><rect x="323.74" y="56.79" width="1.42" height="1.42"/><rect x="327.82" y="79.84" width="1.59" height="1.59"/><rect x="333.12" y="110.19" width="1.38" height="1.38"/><rect x="330.23" y="78.47" width="1.77" height="1.77"/><rect x="328.93" y="109.28" width="1.5" height="1.5"/><rect x="333.5" y="77.32" width="1.5" height="1.5"/><rect x="339.63" y="106.62" width="1.57" height="1.57"/><rect x="326.94" y="87.25" width="0.99" height="0.99"/><rect x="323.5" y="82.33" width="1.59" height="1.59"/><rect x="323.1" y="57.09" width="1.55" height="1.55"/><rect x="320.73" y="65.29" width="1.03" height="1.03"/><rect x="325.32" y="98.72" width="1.67" height="1.67"/><rect x="327.57" y="91.99" width="1.04" height="1.04"/><rect x="330.08" y="86.84" width="1.05" height="1.05"/><rect x="332.54" y="109.35" width="1.35" height="1.35"/><rect x="323.09" y="70.24" width="1.08" height="1.08"/><rect x="327.45" y="98.89" width="1.42" height="1.42"/><rect x="331.7" y="52.11" width="0.96" height="0.96"/><rect x="322.89" y="71.2" width="1.86" height="1.86"/><rect x="326.86" y="105.78" width="1.78" height="1.78"/><rect x="330.67" y="87.13" width="1.57" height="1.57"/><rect x="329.62" y="71.23" width="0.95" height="0.95"/><rect x="329.53" y="92.67" width="0.98" height="0.98"/><rect x="322.91" y="69.46" width="1.53" height="1.53"/><rect x="318.9" y="79.37" width="1.86" height="1.86"/><rect x="323.13" y="84.81" width="1.54" height="1.54"/><rect x="324.77" y="88.25" width="1.14" height="1.14"/><rect x="331.85" y="92.8" width="1.37" height="1.37"/><rect x="339.48" y="105.6" width="1.82" height="1.82"/><rect x="327.21" y="58.05" width="1.07" height="1.07"/><rect x="328.58" y="76.87" width="1.23" height="1.23"/><rect x="321.14" y="83.83" width="0.99" height="0.99"/><rect x="326.22" y="76.56" width="1.62" height="1.62"/><rect x="323.92" y="86.58" width="0.94" height="0.94"/><rect x="328.75" y="62.49" width="1.75" height="1.75"/><rect x="331.78" y="103.15" width="1.08" height="1.08"/><rect x="328.83" y="54.83" width="1.3" height="1.3"/><rect x="318.47" y="67.79" width="1.67" height="1.67"/><rect x="319.78" y="77.63" width="1.48" height="1.48"/></g>
<g fill="#DB8E00"><rect x="342.16" y="88.93" width="1.06" height="1.06"/><rect x="340.14" y="77.29" width="1" height="1"/><rect x="343.65" y="87.07" width="1.04" height="1.04"/><rect x="337.38" y="61.04" width="1.67" height="1.67"/><rect x="346.63" y="95.41" width="1.81" height="1.81"/><rect x="340.92" y="59.52" width="1.63" height="1.63"/><rect x="351.08" y="74.86" width="0.99" height="0.99"/><rect x="349.86" y="88.09" width="1.82" height="1.82"/><rect x="340.06" y="82.57" width="1.41" height="1.41"/><rect x="350.52" y="88.73" width="1.26" height="1.26"/><rect x="341.87" y="70.63" width="1.01" height="1.01"/><rect x="343.64" y="92.47" width="0.99" height="0.99"/><rect x="336.25" y="83.4" width="1.27" height="1.27"/><rect x="345.39" y="85.12" width="1.22" height="1.22"/><rect x="347.83" y="96.43" width="1.56" height="1.56"/></g>
<g fill="#00C1A7"><rect x="336.79" y="86.8" width="1.66" height="1.66"/><rect x="347.15" y="71.9" width="1.75" height="1.75"/><rect x="349.7" y="94.07" width="1.11" height="1.11"/></g>
<path d="M319.5,20.6 C321.06,19.82 322.5,19.06 325.2,18.9 C327.9,18.74 330.22,19.1 333,19.8 C335.78,20.5 337.2,21.1 339.1,22.4 C341,23.7 341.82,23.1 342.5,26.3 C343.18,29.5 343.02,34.76 342.5,38.4 C341.98,42.04 341.46,42.24 339.9,44.5 C338.34,46.76 336.6,48.3 334.7,49.7 C332.8,51.1 332.14,50.44 330.4,51.5 C328.66,52.56 327.4,53.96 326,55 C324.6,56.04 324.26,57.24 323.4,56.7 C322.54,56.16 322.22,54.04 321.7,52.3 C321.18,50.56 322.02,49.56 320.8,48 C319.58,46.44 317.5,45.9 315.6,44.5 C313.7,43.1 312.52,43.08 311.3,41 C310.08,38.92 309.16,36.7 309.5,34.1 C309.84,31.5 311.42,30.26 313,28 C314.58,25.74 316.1,24.28 317.4,22.8 C318.7,21.32 317.94,21.38 319.5,20.6Z" fill="#00BADE"/>
<path d="M311.3,31.5 C310.62,32.22 309.22,35.18 308.6,37.6 C307.98,40.02 308.12,41.42 308.2,43.6 C308.28,45.78 307.74,46.96 309,48.5 C310.26,50.04 312.3,50.54 314.5,51.3 C316.7,52.06 318.9,52.46 320,52.3 C321.1,52.14 320.9,51.26 320,50.5 C319.1,49.74 317.14,49.6 315.5,48.5 C313.86,47.4 312.72,46.8 311.8,45 C310.88,43.2 310.86,41.7 310.9,39.5 C310.94,37.3 311.92,35.6 312,34 C312.08,32.4 311.98,30.78 311.3,31.5Z" fill="#00BD5C"/>
<path d="M333.9,52.5 C334.3,51.7 336.1,50.9 338,51.5 C339.9,52.1 342.8,54.46 343.4,55.5 C344,56.54 342.48,56.7 341,56.7 C339.52,56.7 337.42,56.34 336,55.5 C334.58,54.66 333.5,53.3 333.9,52.5Z" fill="#00BD5C"/>
</g>
<circle cx="369.8" cy="33.3" r="2.2" fill="#F8766D"/>
<text x="376.8" y="35.75" font-size="6.9" fill="#1a1a1a" stroke="#1a1a1a" stroke-width="0.2">ALPL+ Neu</text>
<circle cx="369.8" cy="41.5" r="2.2" fill="#DB8E00"/>
<text x="376.8" y="43.95" font-size="6.9" fill="#1a1a1a" stroke="#1a1a1a" stroke-width="0.2">C3+ Macro</text>
<circle cx="369.8" cy="49.7" r="2.2" fill="#AEA200"/>
<text x="376.8" y="52.15" font-size="6.9" fill="#1a1a1a" stroke="#1a1a1a" stroke-width="0.2">CD163L1+ Macro</text>
<circle cx="369.8" cy="57.9" r="2.2" fill="#64B200"/>
<text x="376.8" y="60.35" font-size="6.9" fill="#1a1a1a" stroke="#1a1a1a" stroke-width="0.2">CTSE+ DC</text>
<circle cx="369.8" cy="66.1" r="2.2" fill="#00BD5C"/>
<text x="376.8" y="68.55" font-size="6.9" fill="#1a1a1a" stroke="#1a1a1a" stroke-width="0.2">CXCL5+ Macro</text>
<circle cx="369.8" cy="74.3" r="2.2" fill="#00C1A7"/>
<text x="376.8" y="76.75" font-size="6.9" fill="#1a1a1a" stroke="#1a1a1a" stroke-width="0.2">FCER1A+ DC</text>
<circle cx="369.8" cy="82.5" r="2.2" fill="#00BADE"/>
<text x="376.8" y="84.95" font-size="6.9" fill="#1a1a1a" stroke="#1a1a1a" stroke-width="0.2">FCN1+ Mono</text>
<circle cx="369.8" cy="90.7" r="2.2" fill="#00A6FF"/>
<text x="376.8" y="93.15" font-size="6.9" fill="#1a1a1a" stroke="#1a1a1a" stroke-width="0.2">LUCAT1+ Neu</text>
<circle cx="369.8" cy="98.9" r="2.2" fill="#B385FF"/>
<text x="376.8" y="101.35" font-size="6.9" fill="#1a1a1a" stroke="#1a1a1a" stroke-width="0.2">PLK1+ Macro</text>
<circle cx="369.8" cy="107.1" r="2.2" fill="#EF67EB"/>
<text x="376.8" y="109.55" font-size="6.9" fill="#1a1a1a" stroke="#1a1a1a" stroke-width="0.2">SPP1+ Macro</text>
<circle cx="369.8" cy="115.3" r="2.2" fill="#FF63B6"/>
<text x="376.8" y="117.75" font-size="6.9" fill="#1a1a1a" stroke="#1a1a1a" stroke-width="0.2">TRPM2+ Macro</text>
<text x="449.5" y="9.9" font-size="13" font-weight="bold" stroke="#000" stroke-width="0.2">c</text>
<text x="524" y="15.8" font-size="6.9" font-weight="bold" text-anchor="middle" stroke="#000" stroke-width="0.2">VSIR</text>
<line x1="460.2" y1="127" x2="460.2" y2="22.2" stroke="#000" stroke-width="0.55"/>
<path d="M460.2,20.4 L459.1,22.6 L461.3,22.6Z" fill="#000"/>
<line x1="460.2" y1="127" x2="587" y2="127" stroke="#000" stroke-width="0.55"/>
<path d="M588.8,127 L586.6,125.9 L586.6,128.1Z" fill="#000"/>
<text x="524.3" y="136" font-size="6.9" font-weight="bold" text-anchor="middle" stroke="#000" stroke-width="0.2">umap_1</text>
<text x="455.2" y="72.3" font-size="6.9" font-weight="bold" text-anchor="middle" stroke="#000" stroke-width="0.2" transform="rotate(-90 455.2 72.3)">umap_2</text>
<g filter="url(#soft)">
<path d="M497.83,29.68 C499.11,29.46 500.27,29.14 501.89,29.5 C503.51,29.86 504.83,30.36 505.95,31.48 C507.06,32.6 507.11,33.64 507.45,35.08 C507.8,36.52 507.87,37.33 507.69,38.68 C507.5,40.03 507.34,40.89 506.53,41.83 C505.71,42.77 505.37,42.98 503.63,43.36 C501.89,43.74 499.92,43.7 497.83,43.72 C495.75,43.74 494.68,43.92 493.2,43.45 C491.71,42.98 491,42.33 490.42,41.38 C489.84,40.43 490.09,39.85 490.3,38.68 C490.51,37.51 490.76,36.79 491.46,35.53 C492.15,34.27 492.97,33.37 493.78,32.38 C494.59,31.39 494.7,31.12 495.52,30.58 C496.33,30.04 496.56,29.9 497.83,29.68Z" fill="#d5d3dd"/>
<path d="M528.32,27.79 C529.4,26.89 531.82,26.53 534.34,26.53 C536.87,26.53 538.65,27.07 540.95,27.79 C543.24,28.51 544.01,28.73 545.82,30.13 C547.62,31.53 547.93,33.03 549.99,34.81 C552.05,36.59 553.95,37.55 556.13,39.04 C558.31,40.53 560.28,41.07 560.88,42.28 C561.49,43.49 561.07,44.13 559.14,45.07 C557.22,46.01 555.25,46.38 551.26,46.96 C547.28,47.54 542.48,48.24 539.21,47.95 C535.94,47.66 535.78,47.03 534.92,45.52 C534.06,44.01 535.41,42.44 534.92,40.39 C534.43,38.34 533.69,37.13 532.49,35.26 C531.28,33.39 529.73,32.52 528.89,31.03 C528.06,29.54 527.23,28.69 528.32,27.79Z" fill="#d5d3dd"/>
<path d="M522.87,61.99 C523.35,60.87 524.19,59.82 525.88,59.16 C527.57,58.49 528.92,57.91 531.33,58.66 C533.74,59.41 535.76,61.38 537.93,62.89 C540.11,64.4 541.13,64.72 542.22,66.22 C543.31,67.72 543.87,69.2 543.38,70.41 C542.9,71.61 542.08,72.15 539.79,72.25 C537.49,72.35 534.45,71.64 531.91,70.9 C529.37,70.16 528.79,69.78 527.1,68.56 C525.41,67.34 524.29,66.09 523.45,64.78 C522.6,63.47 522.38,63.12 522.87,61.99Z" fill="#d5d3dd"/>
<path d="M571.2,68.02 C571.68,67.18 574.95,66.9 576.65,66.22 C578.34,65.54 578.99,64.13 579.66,64.6 C580.33,65.07 580.38,67.25 580.01,68.56 C579.64,69.87 578.96,70.8 577.8,71.17 C576.65,71.54 575.53,71.03 574.21,70.41 C572.89,69.78 570.71,68.86 571.2,68.02Z" fill="#d5d3dd"/>
<path d="M498.12,81 C498.73,79.31 500.06,78.72 501.75,77.72 C503.44,76.73 504.4,76.31 506.57,76.03 C508.74,75.75 510.56,75.97 512.61,76.31 C514.66,76.65 515.63,76.88 516.84,77.72 C518.05,78.57 518.24,79.31 518.65,80.53 C519.06,81.75 518.17,82.69 518.89,83.82 C519.62,84.94 521.11,85.35 522.27,86.16 C523.42,86.96 524.81,87.18 524.69,87.84 C524.57,88.5 522.99,88.65 521.66,89.44 C520.33,90.23 519.01,90.94 518.05,91.78 C517.08,92.62 517.16,92.25 516.84,93.65 C516.53,95.06 516.79,98.53 516.47,98.81 C516.15,99.09 516.28,95.72 515.26,95.07 C514.25,94.41 513.14,95.25 511.41,95.53 C509.67,95.81 508.14,96.85 506.57,96.47 C505,96.09 504.65,94.96 503.56,93.65 C502.47,92.34 502.1,91.41 501.14,89.91 C500.17,88.41 499.33,87.94 498.73,86.16 C498.12,84.37 497.52,82.68 498.12,81Z" fill="#d5d3dd"/>
<path d="M487.4,104.92 C488.17,104.52 489,103.95 490.42,104.2 C491.83,104.45 493.15,105.95 494.47,106.18 C495.79,106.41 496.6,105.23 497.02,105.37 C497.44,105.51 496.26,106.11 496.56,106.9 C496.86,107.69 498.23,108.3 498.53,109.33 C498.83,110.36 498.88,110.93 498.07,112.03 C497.25,113.13 496,113.96 494.47,114.82 C492.94,115.68 491.92,116.19 490.42,116.35 C488.91,116.51 487.24,116.26 486.94,115.63 C486.64,115 488.31,114.15 488.91,113.2 C489.51,112.25 490.25,111.8 489.95,110.86 C489.65,109.92 488.07,109.46 487.4,108.52 C486.73,107.58 486.59,106.9 486.59,106.18 C486.59,105.46 486.64,105.32 487.4,104.92Z" fill="#cdc3e6"/>
<path d="M521.94,113.2 C522.75,112.34 523.54,111.87 524.95,112.03 C526.37,112.19 527.9,113.15 529.01,114.01 C530.12,114.87 530.52,115.4 530.52,116.35 C530.52,117.3 529.91,117.99 529.01,118.78 C528.11,119.57 527.2,120.24 526,120.31 C524.79,120.38 524,119.93 522.98,119.14 C521.96,118.35 521.11,117.54 520.9,116.35 C520.69,115.16 521.13,114.06 521.94,113.2Z" fill="#d2cbe6"/>
<path d="M533.07,106.54 C533.88,106.31 534.81,106.77 535.62,107.71 C536.43,108.65 536.91,109.8 537.12,111.22 C537.33,112.64 537.26,113.99 536.66,114.82 C536.06,115.65 535.04,115.68 534.11,115.36 C533.18,115.04 532.53,114.5 532.02,113.2 C531.51,111.9 531.35,110.21 531.56,108.88 C531.77,107.55 532.26,106.77 533.07,106.54Z" fill="#d2cbe6"/>
</g>
<line x1="466" y1="49.3" x2="469.5" y2="52.3" stroke="#c8c8cc" stroke-width="0.7"/>
<path d="M474.52,63.48 C475.59,62.87 478.05,62.96 479.56,62.58 C481.08,62.2 481.4,62.85 482.08,61.59 C482.77,60.33 482.62,57.65 482.98,56.28 C483.35,54.91 483.12,55.13 483.93,54.75 C484.74,54.37 486.09,54.21 487.03,54.39 C487.98,54.57 488.28,54.9 488.65,55.65 C489.03,56.41 488.49,57.54 488.92,58.17 C489.36,58.8 489.68,58.55 490.81,58.8 C491.95,59.05 493.48,58.8 494.59,59.43 C495.71,60.06 495.96,60.71 496.39,61.95 C496.83,63.19 497.11,64.4 496.75,65.64 C496.39,66.88 495.53,67.28 494.59,68.16 C493.66,69.04 493.33,69.17 492.07,70.05 C490.81,70.93 489.55,71.69 488.29,72.57 C487.03,73.45 486.89,74.28 485.77,74.46 C484.66,74.64 483.83,73.98 482.71,73.47 C481.6,72.97 481.33,72.5 480.19,71.94 C479.06,71.38 478.05,71.31 477.04,70.68 C476.04,70.05 475.71,69.8 475.15,68.79 C474.6,67.78 474.38,66.7 474.25,65.64 C474.13,64.58 473.46,64.09 474.52,63.48Z" fill="#d0c3ee"/>
<path d="M481,63.5 C481.9,62.3 483.8,61.6 486,61 C488.2,60.4 489.9,60.2 492,60.5 C494.1,60.8 495.9,61.3 496.5,62.5 C497.1,63.7 496.3,65.2 495,66.5 C493.7,67.8 492,68.6 490,69 C488,69.4 486.7,68.9 485,68.5 C483.3,68.1 482.3,68 481.5,67 C480.7,66 480.1,64.7 481,63.5Z" fill="#b9a2e8"/>
<path d="M484.5,55.5 C485,54.9 486.3,54.7 487,55 C487.7,55.3 488.2,56.2 488,57 C487.8,57.8 486.7,58.8 486,59 C485.3,59.2 484.8,58.7 484.5,58 C484.2,57.3 484,56.1 484.5,55.5Z" fill="#f0ecf8"/>
<path d="M480,72 C480.4,71.3 482.4,70.5 484,70.5 C485.6,70.5 487.6,71.2 488,72 C488.4,72.8 487.2,74.1 486,74.5 C484.8,74.9 483.2,74.5 482,74 C480.8,73.5 479.6,72.7 480,72Z" fill="#e8e2f4"/>
<path d="M547.92,85.4 C548.21,84.92 548.49,84.63 549.39,84.2 C550.3,83.76 551.36,83.64 552.43,83.22 C553.49,82.8 553.79,82.13 554.72,82.1 C555.66,82.07 556.28,82.61 557.1,83.07 C557.92,83.54 557.97,83.72 558.82,84.42 C559.68,85.13 560.81,85.82 561.37,86.6 C561.92,87.38 562.12,87.66 561.61,88.32 C561.1,88.98 560.07,89.51 558.82,89.9 C557.58,90.29 556.74,90.35 555.38,90.27 C554.02,90.2 553.22,89.95 552.02,89.52 C550.82,89.09 550.21,88.72 549.39,88.13 C548.57,87.55 548.21,87.14 547.92,86.6 C547.62,86.05 547.62,85.88 547.92,85.4Z" fill="#d8cbee"/>
<path d="M554,85 C554.6,84.2 556.6,84 558,84.5 C559.4,85 560.8,86.5 561,87.5 C561.2,88.5 560.2,89.3 559,89.5 C557.8,89.7 556,89.4 555,88.5 C554,87.6 553.4,85.8 554,85Z" fill="#c5aeea"/>
<path d="M473.3,63.4 C474.28,62.83 477.5,62.75 478.9,62.4 C480.3,62.05 481.07,62.47 481.7,61.3 C482.33,60.13 482.36,56.67 482.7,55.4 C483.04,54.13 483,54.05 483.75,53.7 C484.5,53.35 486.32,53.13 487.2,53.3 C488.07,53.47 488.65,54 489,54.7 C489.35,55.4 488.9,56.92 489.3,57.5 C489.7,58.08 490.35,57.97 491.4,58.2 C492.45,58.43 494.57,58.32 495.6,58.9 C496.63,59.48 497.2,60.55 497.6,61.7 C498,62.85 498.33,64.65 498,65.8 C497.67,66.95 496.47,67.78 495.6,68.6 C494.73,69.42 493.97,69.88 492.8,70.7 C491.63,71.52 489.77,72.68 488.6,73.5 C487.43,74.32 486.83,75.43 485.8,75.6 C484.77,75.77 483.43,74.97 482.4,74.5 C481.37,74.03 480.65,73.32 479.6,72.8 C478.55,72.28 477.03,71.98 476.1,71.4 C475.17,70.82 474.52,70.23 474,69.3 C473.48,68.37 473.12,66.78 473,65.8 C472.88,64.82 472.32,63.97 473.3,63.4Z" fill="none" stroke="#3a77be" stroke-width="1.6"/>
<path d="M546.5,85.1 C546.8,84.57 547.38,83.98 548.3,83.5 C549.22,83.02 550.92,82.67 552,82.2 C553.08,81.73 553.85,80.73 554.8,80.7 C555.75,80.67 556.87,81.48 557.7,82 C558.53,82.52 558.93,83.02 559.8,83.8 C560.67,84.58 562.33,85.83 562.9,86.7 C563.47,87.57 563.72,88.27 563.2,89 C562.68,89.73 561.07,90.67 559.8,91.1 C558.53,91.53 556.98,91.68 555.6,91.6 C554.22,91.52 552.72,91.07 551.5,90.6 C550.28,90.12 549.13,89.4 548.3,88.75 C547.47,88.1 546.8,87.31 546.5,86.7 C546.2,86.09 546.2,85.63 546.5,85.1Z" fill="none" stroke="#3a77be" stroke-width="1.6"/>
<line x1="569.5" y1="50.6" x2="495.6" y2="58.3" stroke="#3b78bf" stroke-width="0.75"/>
<line x1="569.5" y1="50.6" x2="559" y2="82.5" stroke="#3b78bf" stroke-width="0.75"/>
<text x="566.8" y="49.7" font-size="8.2" font-weight="bold" fill="#3d78ba" stroke="#3d78ba" stroke-width="0.2">Myeloid cells</text>
<text x="620.5" y="51.2" font-size="6.9" fill="#1a1a1a" stroke="#1a1a1a" stroke-width="0.2">VSIR</text>
<text x="620.5" y="59.6" font-size="6.9" fill="#1a1a1a" stroke="#1a1a1a" stroke-width="0.2">Expression</text>
<defs><linearGradient id="gc" x1="0" y1="1" x2="0" y2="0"><stop offset="0" stop-color="#d3d3d3"/><stop offset="0.5" stop-color="#9d8ee6"/><stop offset="1" stop-color="#1a0df5"/></linearGradient></defs>
<rect x="621" y="61.4" width="7" height="33.1" fill="url(#gc)"/>
<line x1="621" y1="65.3" x2="622.4" y2="65.3" stroke="#fff" stroke-width="0.4"/>
<line x1="626.6" y1="65.3" x2="628" y2="65.3" stroke="#fff" stroke-width="0.4"/>
<text x="631.3" y="67.75" font-size="6.9" fill="#1a1a1a" stroke="#1a1a1a" stroke-width="0.2">4</text>
<line x1="621" y1="72.38" x2="622.4" y2="72.38" stroke="#fff" stroke-width="0.4"/>
<line x1="626.6" y1="72.38" x2="628" y2="72.38" stroke="#fff" stroke-width="0.4"/>
<text x="631.3" y="74.83" font-size="6.9" fill="#1a1a1a" stroke="#1a1a1a" stroke-width="0.2">3</text>
<line x1="621" y1="79.46" x2="622.4" y2="79.46" stroke="#fff" stroke-width="0.4"/>
<line x1="626.6" y1="79.46" x2="628" y2="79.46" stroke="#fff" stroke-width="0.4"/>
<text x="631.3" y="81.91" font-size="6.9" fill="#1a1a1a" stroke="#1a1a1a" stroke-width="0.2">2</text>
<line x1="621" y1="86.54" x2="622.4" y2="86.54" stroke="#fff" stroke-width="0.4"/>
<line x1="626.6" y1="86.54" x2="628" y2="86.54" stroke="#fff" stroke-width="0.4"/>
<text x="631.3" y="88.99" font-size="6.9" fill="#1a1a1a" stroke="#1a1a1a" stroke-width="0.2">1</text>
<line x1="621" y1="93.62" x2="622.4" y2="93.62" stroke="#fff" stroke-width="0.4"/>
<line x1="626.6" y1="93.62" x2="628" y2="93.62" stroke="#fff" stroke-width="0.4"/>
<text x="631.3" y="96.07" font-size="6.9" fill="#1a1a1a" stroke="#1a1a1a" stroke-width="0.2">0</text>
<text x="0" y="158.6" font-size="13" font-weight="bold" stroke="#000" stroke-width="0.2">d</text>
<text x="83.3" y="162.3" font-size="6.9" font-weight="bold" text-anchor="middle" stroke="#000" stroke-width="0.2">VSIR Expression</text>
<line x1="83.5" y1="165.6" x2="83.5" y2="333.9" stroke="#2e2e2e" stroke-width="0.8"/>
<line x1="83.1" y1="333.5" x2="96.9" y2="333.5" stroke="#2e2e2e" stroke-width="0.8"/>
<line x1="90.2" y1="333.5" x2="90.2" y2="335.7" stroke="#2e2e2e" stroke-width="0.7"/>
<text x="92" y="353.9" font-size="6.9" fill="#1a1a1a" stroke="#1a1a1a" stroke-width="0.2" font-style="italic" transform="rotate(-90 92 353.9)">VSIR</text>
<line x1="81.6" y1="175.7" x2="83.5" y2="175.7" stroke="#2e2e2e" stroke-width="0.7"/>
<text x="79.3" y="177.5" font-size="6.9" text-anchor="end" fill="#1a1a1a" stroke="#1a1a1a" stroke-width="0.2">Fibroblasts</text>
<circle cx="89.9" cy="175.7" r="3.3" fill="#a31fa0"/>
<line x1="81.6" y1="192.12" x2="83.5" y2="192.12" stroke="#2e2e2e" stroke-width="0.7"/>
<text x="79.3" y="193.92" font-size="6.9" text-anchor="end" fill="#1a1a1a" stroke="#1a1a1a" stroke-width="0.2">Endocrine cells</text>
<circle cx="89.9" cy="192.12" r="1.6" fill="#1c0c8c"/>
<line x1="81.6" y1="208.54" x2="83.5" y2="208.54" stroke="#2e2e2e" stroke-width="0.7"/>
<text x="79.3" y="210.34" font-size="6.9" text-anchor="end" fill="#1a1a1a" stroke="#1a1a1a" stroke-width="0.2">Smooth muscle cells</text>
<circle cx="89.9" cy="208.54" r="3.3" fill="#a421a0"/>
<line x1="81.6" y1="224.96" x2="83.5" y2="224.96" stroke="#2e2e2e" stroke-width="0.7"/>
<text x="79.3" y="226.76" font-size="6.9" text-anchor="end" fill="#1a1a1a" stroke="#1a1a1a" stroke-width="0.2">Plasma cells</text>
<circle cx="89.9" cy="224.96" r="3.3" fill="#7c0bab"/>
<line x1="81.6" y1="241.38" x2="83.5" y2="241.38" stroke="#2e2e2e" stroke-width="0.7"/>
<text x="79.3" y="243.18" font-size="6.9" text-anchor="end" fill="#1a1a1a" stroke="#1a1a1a" stroke-width="0.2">Myeloid cells</text>
<circle cx="89.9" cy="241.38" r="4.4" fill="#f0f921"/>
<line x1="81.6" y1="257.8" x2="83.5" y2="257.8" stroke="#2e2e2e" stroke-width="0.7"/>
<text x="79.3" y="259.6" font-size="6.9" text-anchor="end" fill="#1a1a1a" stroke="#1a1a1a" stroke-width="0.2">T &amp; NK cells</text>
<circle cx="89.9" cy="257.8" r="2.3" fill="#a92b96"/>
<line x1="81.6" y1="274.22" x2="83.5" y2="274.22" stroke="#2e2e2e" stroke-width="0.7"/>
<text x="79.3" y="276.02" font-size="6.9" text-anchor="end" fill="#1a1a1a" stroke="#1a1a1a" stroke-width="0.2">Endothelial cells</text>
<circle cx="89.9" cy="274.22" r="4.15" fill="#dc5a6b"/>
<line x1="81.6" y1="290.64" x2="83.5" y2="290.64" stroke="#2e2e2e" stroke-width="0.7"/>
<text x="79.3" y="292.44" font-size="6.9" text-anchor="end" fill="#1a1a1a" stroke="#1a1a1a" stroke-width="0.2">Epithelial cells</text>
<circle cx="89.9" cy="290.64" r="2.6" fill="#6a0aae"/>
<line x1="81.6" y1="307.06" x2="83.5" y2="307.06" stroke="#2e2e2e" stroke-width="0.7"/>
<text x="79.3" y="308.86" font-size="6.9" text-anchor="end" fill="#1a1a1a" stroke="#1a1a1a" stroke-width="0.2">B cells</text>
<circle cx="89.9" cy="307.06" r="1.3" fill="#4c06a3"/>
<line x1="81.6" y1="323.48" x2="83.5" y2="323.48" stroke="#2e2e2e" stroke-width="0.7"/>
<text x="79.3" y="325.28" font-size="6.9" text-anchor="end" fill="#1a1a1a" stroke="#1a1a1a" stroke-width="0.2">Mast cells</text>
<circle cx="89.9" cy="323.48" r="2.8" fill="#bf3a8a"/>
<text x="104" y="183.1" font-size="6.9" fill="#1a1a1a" stroke="#1a1a1a" stroke-width="0.2">Percent</text>
<text x="104" y="191.5" font-size="6.9" fill="#1a1a1a" stroke="#1a1a1a" stroke-width="0.2">Expressed</text>
<circle cx="109.6" cy="199.3" r="2" fill="#000"/>
<text x="117.3" y="201.75" font-size="6.9" fill="#1a1a1a" stroke="#1a1a1a" stroke-width="0.2">10</text>
<circle cx="109.6" cy="207.3" r="2.7" fill="#000"/>
<text x="117.3" y="209.75" font-size="6.9" fill="#1a1a1a" stroke="#1a1a1a" stroke-width="0.2">20</text>
<circle cx="109.6" cy="216.2" r="3.4" fill="#000"/>
<text x="117.3" y="218.65" font-size="6.9" fill="#1a1a1a" stroke="#1a1a1a" stroke-width="0.2">30</text>
<circle cx="109.6" cy="225.3" r="4.2" fill="#000"/>
<text x="117.3" y="227.75" font-size="6.9" fill="#1a1a1a" stroke="#1a1a1a" stroke-width="0.2">40</text>
<text x="104" y="247.3" font-size="6.9" fill="#1a1a1a" stroke="#1a1a1a" stroke-width="0.2">Average</text>
<text x="104" y="255.7" font-size="6.9" fill="#1a1a1a" stroke="#1a1a1a" stroke-width="0.2">Expression</text>
<defs><linearGradient id="gd" x1="0" y1="0" x2="0" y2="1"><stop offset="0" stop-color="#f0f921"/><stop offset="0.15" stop-color="#fdb32f"/><stop offset="0.32" stop-color="#ed7953"/><stop offset="0.5" stop-color="#cc4778"/><stop offset="0.68" stop-color="#9c179e"/><stop offset="0.85" stop-color="#5c01a6"/><stop offset="1" stop-color="#0d0887"/></linearGradient></defs>
<rect x="104.1" y="259.2" width="8.9" height="41" fill="url(#gd)"/>
<line x1="104.1" y1="262.5" x2="105.8" y2="262.5" stroke="#fff" stroke-width="0.4"/>
<line x1="111.3" y1="262.5" x2="113" y2="262.5" stroke="#fff" stroke-width="0.4"/>
<text x="116.6" y="264.95" font-size="6.9" fill="#1a1a1a" stroke="#1a1a1a" stroke-width="0.2">2</text>
<line x1="104.1" y1="274" x2="105.8" y2="274" stroke="#fff" stroke-width="0.4"/>
<line x1="111.3" y1="274" x2="113" y2="274" stroke="#fff" stroke-width="0.4"/>
<text x="116.6" y="276.45" font-size="6.9" fill="#1a1a1a" stroke="#1a1a1a" stroke-width="0.2">1</text>
<line x1="104.1" y1="285.2" x2="105.8" y2="285.2" stroke="#fff" stroke-width="0.4"/>
<line x1="111.3" y1="285.2" x2="113" y2="285.2" stroke="#fff" stroke-width="0.4"/>
<text x="116.6" y="287.65" font-size="6.9" fill="#1a1a1a" stroke="#1a1a1a" stroke-width="0.2">0</text>
<line x1="104.1" y1="296.6" x2="105.8" y2="296.6" stroke="#fff" stroke-width="0.4"/>
<line x1="111.3" y1="296.6" x2="113" y2="296.6" stroke="#fff" stroke-width="0.4"/>
<text x="116.6" y="299.05" font-size="6.9" fill="#1a1a1a" stroke="#1a1a1a" stroke-width="0.2">−1</text>
<text x="151.8" y="158.7" font-size="13" font-weight="bold" stroke="#000" stroke-width="0.2">e</text>
<line x1="224.8" y1="160.5" x2="224.8" y2="326.8" stroke="#ececec" stroke-width="0.5"/>
<line x1="249.9" y1="160.5" x2="249.9" y2="326.8" stroke="#ececec" stroke-width="0.5"/>
<line x1="275" y1="160.5" x2="275" y2="326.8" stroke="#ececec" stroke-width="0.5"/>
<line x1="300.1" y1="160.5" x2="300.1" y2="326.8" stroke="#ececec" stroke-width="0.5"/>
<line x1="325.2" y1="160.5" x2="325.2" y2="326.8" stroke="#ececec" stroke-width="0.5"/>
<line x1="350.3" y1="160.5" x2="350.3" y2="326.8" stroke="#ececec" stroke-width="0.5"/>
<line x1="212" y1="169.9" x2="369.3" y2="169.9" stroke="#ececec" stroke-width="0.5"/>
<line x1="212" y1="184.72" x2="369.3" y2="184.72" stroke="#ececec" stroke-width="0.5"/>
<line x1="212" y1="199.54" x2="369.3" y2="199.54" stroke="#ececec" stroke-width="0.5"/>
<line x1="212" y1="214.36" x2="369.3" y2="214.36" stroke="#ececec" stroke-width="0.5"/>
<line x1="212" y1="229.18" x2="369.3" y2="229.18" stroke="#ececec" stroke-width="0.5"/>
<line x1="212" y1="244" x2="369.3" y2="244" stroke="#ececec" stroke-width="0.5"/>
<line x1="212" y1="258.82" x2="369.3" y2="258.82" stroke="#ececec" stroke-width="0.5"/>
<line x1="212" y1="273.64" x2="369.3" y2="273.64" stroke="#ececec" stroke-width="0.5"/>
<line x1="212" y1="288.46" x2="369.3" y2="288.46" stroke="#ececec" stroke-width="0.5"/>
<line x1="212" y1="303.28" x2="369.3" y2="303.28" stroke="#ececec" stroke-width="0.5"/>
<line x1="212" y1="318.1" x2="369.3" y2="318.1" stroke="#ececec" stroke-width="0.5"/>
<line x1="211.8" y1="160.4" x2="211.8" y2="327.2" stroke="#2e2e2e" stroke-width="0.8"/>
<line x1="211.4" y1="326.8" x2="369.4" y2="326.8" stroke="#2e2e2e" stroke-width="0.8"/>
<line x1="224.8" y1="326.8" x2="224.8" y2="329" stroke="#2e2e2e" stroke-width="0.7"/>
<text x="224.8" y="338" font-size="6.9" font-weight="bold" text-anchor="middle" fill="#1a1a1a" stroke="#1a1a1a" stroke-width="0.2">0</text>
<line x1="249.9" y1="326.8" x2="249.9" y2="329" stroke="#2e2e2e" stroke-width="0.7"/>
<text x="249.9" y="338" font-size="6.9" font-weight="bold" text-anchor="middle" fill="#1a1a1a" stroke="#1a1a1a" stroke-width="0.2">1</text>
<line x1="275" y1="326.8" x2="275" y2="329" stroke="#2e2e2e" stroke-width="0.7"/>
<text x="275" y="338" font-size="6.9" font-weight="bold" text-anchor="middle" fill="#1a1a1a" stroke="#1a1a1a" stroke-width="0.2">2</text>
<line x1="300.1" y1="326.8" x2="300.1" y2="329" stroke="#2e2e2e" stroke-width="0.7"/>
<text x="300.1" y="338" font-size="6.9" font-weight="bold" text-anchor="middle" fill="#1a1a1a" stroke="#1a1a1a" stroke-width="0.2">3</text>
<line x1="325.2" y1="326.8" x2="325.2" y2="329" stroke="#2e2e2e" stroke-width="0.7"/>
<text x="325.2" y="338" font-size="6.9" font-weight="bold" text-anchor="middle" fill="#1a1a1a" stroke="#1a1a1a" stroke-width="0.2">4</text>
<line x1="350.3" y1="326.8" x2="350.3" y2="329" stroke="#2e2e2e" stroke-width="0.7"/>
<text x="350.3" y="338" font-size="6.9" font-weight="bold" text-anchor="middle" fill="#1a1a1a" stroke="#1a1a1a" stroke-width="0.2">5</text>
<text x="291.2" y="348.9" font-size="6.9" font-weight="bold" text-anchor="middle" fill="#1a1a1a" stroke="#1a1a1a" stroke-width="0.2">VSIR Expression Level</text>
<line x1="209.7" y1="169.9" x2="211.8" y2="169.9" stroke="#2e2e2e" stroke-width="0.7"/>
<text x="207.2" y="172.35" font-size="6.9" font-weight="bold" text-anchor="end" fill="#1a1a1a" stroke="#1a1a1a" stroke-width="0.2">TRPM2+ Macro</text>
<path d="M224.8,163.1 L227.31,164.7 L231.08,167.4 L235.09,169.5 L242.37,169.6 L262.45,169.6 L300.1,169.65 L335.99,169.9 L335.99,169.9 L300.1,170.15 L262.45,170.2 L242.37,170.2 L235.09,170.3 L231.08,172.4 L227.31,175.1 L224.8,176.7Z" fill="#ffffff" stroke="#555" stroke-width="0.45" stroke-linejoin="round"/>
<line x1="224.8" y1="168.9" x2="224.8" y2="170.9" stroke="#555" stroke-width="0.9"/>
<text x="224.8" y="167.8" font-size="7.0" text-anchor="middle" fill="#2e4866" stroke="#2e4866" stroke-width="0.2">0.00</text>
<line x1="209.7" y1="184.72" x2="211.8" y2="184.72" stroke="#2e2e2e" stroke-width="0.7"/>
<text x="207.2" y="187.17" font-size="6.9" font-weight="bold" text-anchor="end" fill="#1a1a1a" stroke="#1a1a1a" stroke-width="0.2">SPP1+ Macro</text>
<path d="M224.8,178.12 L231.08,183.72 L238.61,182.12 L256.18,182.12 L268.73,183.42 L277.51,184.22 L293.83,184.64 L311.14,184.72 L311.14,184.72 L293.83,184.8 L277.51,185.22 L268.73,186.02 L256.18,187.32 L238.61,187.32 L231.08,185.72 L224.8,191.32Z" fill="#ffffff" stroke="#555" stroke-width="0.45" stroke-linejoin="round"/>
<path d="M277.51,184.47 L293.83,184.57 L293.83,184.87 L277.51,184.97Z" fill="#2a2a2a" stroke="#2a2a2a" stroke-width="0.6" stroke-opacity="0.8"/>
<rect x="224.8" y="183.42" width="30.12" height="2.6" fill="#fff" stroke="#222" stroke-width="0.6"/>
<line x1="241.62" y1="183.22" x2="241.62" y2="186.22" stroke="#111" stroke-width="1.0"/>
<text x="241.62" y="191.82" font-size="7.0" text-anchor="middle" fill="#2e4866" stroke="#2e4866" stroke-width="0.2">0.67</text>
<line x1="209.7" y1="199.54" x2="211.8" y2="199.54" stroke="#2e2e2e" stroke-width="0.7"/>
<text x="207.2" y="201.99" font-size="6.9" font-weight="bold" text-anchor="end" fill="#1a1a1a" stroke="#1a1a1a" stroke-width="0.2">PLK1+ Macro</text>
<path d="M224.8,192.94 L231.58,198.54 L239.86,196.64 L259.94,196.74 L269.98,198.24 L276.25,199.04 L290.06,199.46 L306.38,199.54 L306.38,199.54 L290.06,199.62 L276.25,200.04 L269.98,200.84 L259.94,202.34 L239.86,202.44 L231.58,200.54 L224.8,206.14Z" fill="#ffffff" stroke="#555" stroke-width="0.45" stroke-linejoin="round"/>
<path d="M276.25,199.29 L290.06,199.39 L290.06,199.69 L276.25,199.79Z" fill="#2a2a2a" stroke="#2a2a2a" stroke-width="0.6" stroke-opacity="0.8"/>
<rect x="224.8" y="198.24" width="33.38" height="2.6" fill="#fff" stroke="#222" stroke-width="0.6"/>
<line x1="244.13" y1="198.04" x2="244.13" y2="201.04" stroke="#111" stroke-width="1.0"/>
<text x="244.13" y="206.64" font-size="7.0" text-anchor="middle" fill="#2e4866" stroke="#2e4866" stroke-width="0.2">0.77</text>
<line x1="209.7" y1="214.36" x2="211.8" y2="214.36" stroke="#2e2e2e" stroke-width="0.7"/>
<text x="207.2" y="216.81" font-size="6.9" font-weight="bold" text-anchor="end" fill="#1a1a1a" stroke="#1a1a1a" stroke-width="0.2">LUCAT1+ Neu</text>
<path d="M224.8,207.36 L229.82,211.36 L236.1,213.76 L249.9,214.01 L275,213.76 L290.06,213.46 L305.12,213.86 L356.32,214.36 L356.32,214.36 L305.12,214.86 L290.06,215.26 L275,214.96 L249.9,214.71 L236.1,214.96 L229.82,217.36 L224.8,221.36Z" fill="#d9d9d9" stroke="#555" stroke-width="0.45" stroke-linejoin="round"/>
<line x1="224.8" y1="213.36" x2="224.8" y2="215.36" stroke="#555" stroke-width="0.9"/>
<text x="224.8" y="210.76" font-size="7.0" text-anchor="middle" fill="#2e4866" stroke="#2e4866" stroke-width="0.2">0.00</text>
<line x1="209.7" y1="229.18" x2="211.8" y2="229.18" stroke="#2e2e2e" stroke-width="0.7"/>
<text x="207.2" y="231.63" font-size="6.9" font-weight="bold" text-anchor="end" fill="#1a1a1a" stroke="#1a1a1a" stroke-width="0.2">FCN1+ Mono</text>
<path d="M224.8,222.88 L232.33,228.28 L239.86,226.68 L262.45,226.18 L280.02,227.18 L298.85,228.68 L315.16,229.1 L329.72,229.18 L329.72,229.18 L315.16,229.26 L298.85,229.68 L280.02,231.18 L262.45,232.18 L239.86,231.68 L232.33,230.08 L224.8,235.48Z" fill="#f6e0c6" stroke="#555" stroke-width="0.45" stroke-linejoin="round"/>
<path d="M298.85,228.93 L315.16,229.03 L315.16,229.33 L298.85,229.43Z" fill="#2a2a2a" stroke="#2a2a2a" stroke-width="0.6" stroke-opacity="0.8"/>
<rect x="225.55" y="227.88" width="43.42" height="2.6" fill="#fff" stroke="#222" stroke-width="0.6"/>
<line x1="252.66" y1="227.68" x2="252.66" y2="230.68" stroke="#111" stroke-width="1.0"/>
<text x="252.66" y="236.28" font-size="7.0" text-anchor="middle" fill="#2e4866" stroke="#2e4866" stroke-width="0.2">1.11</text>
<line x1="209.7" y1="244" x2="211.8" y2="244" stroke="#2e2e2e" stroke-width="0.7"/>
<text x="207.2" y="246.45" font-size="6.9" font-weight="bold" text-anchor="end" fill="#1a1a1a" stroke="#1a1a1a" stroke-width="0.2">FCER1A+ DC</text>
<path d="M224.8,237.5 L229.82,242 L237.35,242.4 L254.92,242.5 L272.49,243.1 L285.04,243.55 L298.85,243.92 L340.01,244 L340.01,244 L298.85,244.08 L285.04,244.45 L272.49,244.9 L254.92,245.5 L237.35,245.6 L229.82,246 L224.8,250.5Z" fill="#fff2ae" stroke="#555" stroke-width="0.45" stroke-linejoin="round"/>
<path d="M285.04,243.75 L298.85,243.85 L298.85,244.15 L285.04,244.25Z" fill="#2a2a2a" stroke="#2a2a2a" stroke-width="0.6" stroke-opacity="0.8"/>
<rect x="224.8" y="242.7" width="29.62" height="2.6" fill="#d4d4d4" stroke="#222" stroke-width="0.6"/>
<line x1="224.8" y1="242.5" x2="224.8" y2="245.5" stroke="#111" stroke-width="1.0"/>
<text x="224.8" y="251.1" font-size="7.0" text-anchor="middle" fill="#2e4866" stroke="#2e4866" stroke-width="0.2">0.00</text>
<line x1="209.7" y1="258.82" x2="211.8" y2="258.82" stroke="#2e2e2e" stroke-width="0.7"/>
<text x="207.2" y="261.27" font-size="6.9" font-weight="bold" text-anchor="end" fill="#1a1a1a" stroke="#1a1a1a" stroke-width="0.2">CXCL5+ Macro</text>
<path d="M224.8,252.62 L229.82,256.82 L239.86,257.22 L249.9,257.52 L259.94,258.22 L275,258.72 L304.12,258.82 L304.12,258.82 L275,258.92 L259.94,259.42 L249.9,260.12 L239.86,260.42 L229.82,260.82 L224.8,265.02Z" fill="#e6f5c9" stroke="#555" stroke-width="0.45" stroke-linejoin="round"/>
<path d="M259.94,258.57 L275,258.67 L275,258.97 L259.94,259.07Z" fill="#2a2a2a" stroke="#2a2a2a" stroke-width="0.6" stroke-opacity="0.8"/>
<rect x="224.8" y="257.52" width="25.6" height="2.6" fill="#d4d4d4" stroke="#222" stroke-width="0.6"/>
<line x1="224.8" y1="257.32" x2="224.8" y2="260.32" stroke="#111" stroke-width="1.0"/>
<text x="224.8" y="265.92" font-size="7.0" text-anchor="middle" fill="#2e4866" stroke="#2e4866" stroke-width="0.2">0.00</text>
<line x1="209.7" y1="273.64" x2="211.8" y2="273.64" stroke="#2e2e2e" stroke-width="0.7"/>
<text x="207.2" y="276.09" font-size="6.9" font-weight="bold" text-anchor="end" fill="#1a1a1a" stroke="#1a1a1a" stroke-width="0.2">CTSE+ DC</text>
<path d="M224.8,267.14 L229.82,271.14 L237.35,273.14 L275,273.29 L350.8,273.64 L350.8,273.64 L275,273.99 L237.35,274.14 L229.82,276.14 L224.8,280.14Z" fill="#f4cae4" stroke="#555" stroke-width="0.45" stroke-linejoin="round"/>
<line x1="224.8" y1="272.64" x2="224.8" y2="274.64" stroke="#555" stroke-width="0.9"/>
<text x="224.8" y="271.34" font-size="7.0" text-anchor="middle" fill="#2e4866" stroke="#2e4866" stroke-width="0.2">0.00</text>
<line x1="209.7" y1="288.46" x2="211.8" y2="288.46" stroke="#2e2e2e" stroke-width="0.7"/>
<text x="207.2" y="290.91" font-size="6.9" font-weight="bold" text-anchor="end" fill="#1a1a1a" stroke="#1a1a1a" stroke-width="0.2">CD163L1+ Macro</text>
<path d="M224.8,281.66 L233.08,287.66 L242.37,285.56 L262.45,285.16 L275,286.76 L285.04,287.96 L302.61,288.38 L316.42,288.46 L316.42,288.46 L302.61,288.54 L285.04,288.96 L275,290.16 L262.45,291.76 L242.37,291.36 L233.08,289.26 L224.8,295.26Z" fill="#cbd5e8" stroke="#555" stroke-width="0.45" stroke-linejoin="round"/>
<path d="M285.04,288.21 L302.61,288.31 L302.61,288.61 L285.04,288.71Z" fill="#2a2a2a" stroke="#2a2a2a" stroke-width="0.6" stroke-opacity="0.8"/>
<rect x="224.8" y="287.16" width="36.9" height="2.6" fill="#fff" stroke="#222" stroke-width="0.6"/>
<line x1="249.15" y1="286.96" x2="249.15" y2="289.96" stroke="#111" stroke-width="1.0"/>
<text x="249.15" y="295.56" font-size="7.0" text-anchor="middle" fill="#2e4866" stroke="#2e4866" stroke-width="0.2">0.97</text>
<line x1="209.7" y1="303.28" x2="211.8" y2="303.28" stroke="#2e2e2e" stroke-width="0.7"/>
<text x="207.2" y="305.73" font-size="6.9" font-weight="bold" text-anchor="end" fill="#1a1a1a" stroke="#1a1a1a" stroke-width="0.2">C3+ Macro</text>
<path d="M224.8,297.18 L235.09,302.28 L242.37,300.28 L254.92,297.28 L264.96,296.98 L277.51,299.78 L287.55,302.48 L298.85,303.18 L311.14,303.28 L311.14,303.28 L298.85,303.38 L287.55,304.08 L277.51,306.78 L264.96,309.58 L254.92,309.28 L242.37,306.28 L235.09,304.28 L224.8,309.38Z" fill="#fdd2b6" stroke="#555" stroke-width="0.45" stroke-linejoin="round"/>
<path d="M287.55,303.03 L298.85,303.13 L298.85,303.43 L287.55,303.53Z" fill="#2a2a2a" stroke="#2a2a2a" stroke-width="0.6" stroke-opacity="0.8"/>
<rect x="238.35" y="301.98" width="30.12" height="2.6" fill="#fff" stroke="#222" stroke-width="0.6"/>
<line x1="256.93" y1="301.78" x2="256.93" y2="304.78" stroke="#111" stroke-width="1.0"/>
<text x="256.93" y="310.38" font-size="7.0" text-anchor="middle" fill="#2e4866" stroke="#2e4866" stroke-width="0.2">1.28</text>
<line x1="209.7" y1="318.1" x2="211.8" y2="318.1" stroke="#2e2e2e" stroke-width="0.7"/>
<text x="207.2" y="320.55" font-size="6.9" font-weight="bold" text-anchor="end" fill="#1a1a1a" stroke="#1a1a1a" stroke-width="0.2">ALPL+ Neu</text>
<path d="M224.8,312.6 L236.1,317.3 L239.86,317.4 L262.45,317.4 L280.02,316.5 L290.06,315.5 L300.1,316.1 L310.14,317.5 L326.46,318.02 L347.79,318.1 L347.79,318.1 L326.46,318.18 L310.14,318.7 L300.1,320.1 L290.06,320.7 L280.02,319.7 L262.45,318.8 L239.86,318.8 L236.1,318.9 L224.8,323.6Z" fill="#b3e2cd" stroke="#555" stroke-width="0.45" stroke-linejoin="round"/>
<path d="M310.14,317.85 L326.46,317.95 L326.46,318.25 L310.14,318.35Z" fill="#2a2a2a" stroke="#2a2a2a" stroke-width="0.6" stroke-opacity="0.8"/>
<rect x="224.8" y="316.8" width="59.49" height="2.6" fill="#fff" stroke="#222" stroke-width="0.6"/>
<line x1="224.8" y1="316.6" x2="224.8" y2="319.6" stroke="#111" stroke-width="1.0"/>
<text x="224.8" y="315.2" font-size="7.0" text-anchor="middle" fill="#2e4866" stroke="#2e4866" stroke-width="0.2">0.00</text>
<text x="380.6" y="158.7" font-size="13" font-weight="bold" stroke="#000" stroke-width="0.2">f</text>
<line x1="447.1" y1="187" x2="447.1" y2="302.4" stroke="#ebebeb" stroke-width="0.5"/>
<line x1="459.6" y1="187" x2="459.6" y2="302.4" stroke="#ebebeb" stroke-width="0.5"/>
<line x1="472.2" y1="187" x2="472.2" y2="302.4" stroke="#ebebeb" stroke-width="0.5"/>
<line x1="484.7" y1="187" x2="484.7" y2="302.4" stroke="#ebebeb" stroke-width="0.5"/>
<line x1="497.2" y1="187" x2="497.2" y2="302.4" stroke="#ebebeb" stroke-width="0.5"/>
<line x1="509.6" y1="187" x2="509.6" y2="302.4" stroke="#ebebeb" stroke-width="0.5"/>
<line x1="522.2" y1="187" x2="522.2" y2="302.4" stroke="#ebebeb" stroke-width="0.5"/>
<line x1="534.8" y1="187" x2="534.8" y2="302.4" stroke="#ebebeb" stroke-width="0.5"/>
<line x1="547.5" y1="187" x2="547.5" y2="302.4" stroke="#ebebeb" stroke-width="0.5"/>
<line x1="560" y1="187" x2="560" y2="302.4" stroke="#ebebeb" stroke-width="0.5"/>
<line x1="572.5" y1="187" x2="572.5" y2="302.4" stroke="#ebebeb" stroke-width="0.5"/>
<line x1="585.1" y1="187" x2="585.1" y2="302.4" stroke="#ebebeb" stroke-width="0.5"/>
<line x1="597.6" y1="187" x2="597.6" y2="302.4" stroke="#ebebeb" stroke-width="0.5"/>
<line x1="610.2" y1="187" x2="610.2" y2="302.4" stroke="#ebebeb" stroke-width="0.5"/>
<line x1="622.7" y1="187" x2="622.7" y2="302.4" stroke="#ebebeb" stroke-width="0.5"/>
<line x1="635.1" y1="187" x2="635.1" y2="302.4" stroke="#ebebeb" stroke-width="0.5"/>
<line x1="439.4" y1="198.2" x2="642.8" y2="198.2" stroke="#ebebeb" stroke-width="0.5"/>
<line x1="439.4" y1="216.9" x2="642.8" y2="216.9" stroke="#ebebeb" stroke-width="0.5"/>
<line x1="439.4" y1="235.5" x2="642.8" y2="235.5" stroke="#ebebeb" stroke-width="0.5"/>
<line x1="439.4" y1="254.1" x2="642.8" y2="254.1" stroke="#ebebeb" stroke-width="0.5"/>
<line x1="439.4" y1="272.8" x2="642.8" y2="272.8" stroke="#ebebeb" stroke-width="0.5"/>
<line x1="439.4" y1="291.5" x2="642.8" y2="291.5" stroke="#ebebeb" stroke-width="0.5"/>
<circle cx="447.1" cy="198.2" r="1.85" fill="#b9a0f5"/>
<circle cx="459.6" cy="198.2" r="0.95" fill="#c0b0f5"/>
<circle cx="472.2" cy="198.2" r="0.4" fill="#e8e0fb"/>
<circle cx="484.7" cy="198.2" r="1.75" fill="#8060f0"/>
<circle cx="497.2" cy="198.2" r="0.4" fill="#f0e8fc"/>
<circle cx="509.6" cy="198.2" r="0.6" fill="#f4f0fc"/>
<circle cx="522.2" cy="198.2" r="1" fill="#b0a0f0"/>
<circle cx="534.8" cy="198.2" r="2.25" fill="#fbe8e3"/>
<circle cx="547.5" cy="198.2" r="0.6" fill="#fcd8d0"/>
<circle cx="560" cy="198.2" r="1.85" fill="#fde4dc"/>
<circle cx="572.5" cy="198.2" r="1.25" fill="#fcdcd4"/>
<circle cx="585.1" cy="198.2" r="3.6" fill="#fcd4c4"/>
<circle cx="597.6" cy="198.2" r="3.3" fill="#fde0d4"/>
<circle cx="610.2" cy="198.2" r="3.1" fill="#f8f6fe"/>
<circle cx="622.7" cy="198.2" r="3.3" fill="#fcd0c0"/>
<circle cx="635.1" cy="198.2" r="3.1" fill="#fcc8b4"/>
<circle cx="447.1" cy="216.9" r="3.1" fill="#e8e0fb"/>
<circle cx="459.6" cy="216.9" r="1.85" fill="#e0d8fa"/>
<circle cx="472.2" cy="216.9" r="1.65" fill="#d0c0f8"/>
<circle cx="484.7" cy="216.9" r="3.7" fill="#f89880"/>
<circle cx="497.2" cy="216.9" r="2.25" fill="#f8c0b0"/>
<circle cx="509.6" cy="216.9" r="3.1" fill="#c0a8f8"/>
<circle cx="522.2" cy="216.9" r="2.8" fill="#c8b8f8"/>
<circle cx="534.8" cy="216.9" r="3.9" fill="#f89070"/>
<circle cx="547.5" cy="216.9" r="0.85" fill="#c0a8f8"/>
<circle cx="560" cy="216.9" r="3.4" fill="#fcd4c4"/>
<circle cx="572.5" cy="216.9" r="1.85" fill="#ece4fc"/>
<circle cx="585.1" cy="216.9" r="3.6" fill="#fcd4c4"/>
<circle cx="597.6" cy="216.9" r="3.6" fill="#fcd0c0"/>
<circle cx="610.2" cy="216.9" r="3.9" fill="#f8a088"/>
<circle cx="622.7" cy="216.9" r="3.6" fill="#fcd4c4"/>
<circle cx="635.1" cy="216.9" r="3.6" fill="#fcd0c0"/>
<circle cx="447.1" cy="235.5" r="3.3" fill="#f0ecfc"/>
<circle cx="459.6" cy="235.5" r="1.65" fill="#d8d0fa"/>
<circle cx="472.2" cy="235.5" r="2.05" fill="#fcd8d0"/>
<circle cx="484.7" cy="235.5" r="3.4" fill="#e4dcfb"/>
<circle cx="497.2" cy="235.5" r="1.85" fill="#fcecea"/>
<circle cx="509.6" cy="235.5" r="3.1" fill="#b8a0f8"/>
<circle cx="522.2" cy="235.5" r="2.6" fill="#ece4fc"/>
<circle cx="534.8" cy="235.5" r="3.6" fill="#d8c8fa"/>
<circle cx="547.5" cy="235.5" r="0.3" fill="#f0ecfc"/>
<circle cx="560" cy="235.5" r="2.8" fill="#e4dcfb"/>
<circle cx="572.5" cy="235.5" r="1.55" fill="#e4dcfb"/>
<circle cx="585.1" cy="235.5" r="3.1" fill="#f8f6fe"/>
<circle cx="597.6" cy="235.5" r="3.4" fill="#fde4dc"/>
<circle cx="610.2" cy="235.5" r="3.4" fill="#ece4fc"/>
<circle cx="622.7" cy="235.5" r="3.4" fill="#fde0d4"/>
<circle cx="635.1" cy="235.5" r="3.4" fill="#fde8e0"/>
<circle cx="447.1" cy="254.1" r="2.6" fill="#eee8fc"/>
<circle cx="459.6" cy="254.1" r="1.25" fill="#d8d0fa"/>
<circle cx="472.2" cy="254.1" r="1.45" fill="#f8a090"/>
<circle cx="484.7" cy="254.1" r="2.8" fill="#c8b8f8"/>
<circle cx="497.2" cy="254.1" r="1.55" fill="#d0c4f8"/>
<circle cx="509.6" cy="254.1" r="2.9" fill="#f04030"/>
<circle cx="522.2" cy="254.1" r="3.1" fill="#f01010"/>
<circle cx="534.8" cy="254.1" r="3.1" fill="#8060f0"/>
<circle cx="547.5" cy="254.1" r="0.4" fill="#e0d8fa"/>
<circle cx="560" cy="254.1" r="2.05" fill="#9070f0"/>
<circle cx="572.5" cy="254.1" r="0.85" fill="#c0b0f8"/>
<circle cx="585.1" cy="254.1" r="3.9" fill="#b098f8"/>
<circle cx="597.6" cy="254.1" r="3.6" fill="#a080f8"/>
<circle cx="610.2" cy="254.1" r="3.6" fill="#fdeae4"/>
<circle cx="622.7" cy="254.1" r="3.4" fill="#b098f8"/>
<circle cx="635.1" cy="254.1" r="3.1" fill="#a890f8"/>
<circle cx="447.1" cy="272.8" r="3.4" fill="#f02010"/>
<circle cx="459.6" cy="272.8" r="2.9" fill="#f01010"/>
<circle cx="472.2" cy="272.8" r="0.85" fill="#2020f0"/>
<circle cx="484.7" cy="272.8" r="3.1" fill="#f88060"/>
<circle cx="497.2" cy="272.8" r="1.25" fill="#2020f0"/>
<circle cx="509.6" cy="272.8" r="2.25" fill="#c0a8f8"/>
<circle cx="522.2" cy="272.8" r="1.85" fill="#f8f4fc"/>
<circle cx="534.8" cy="272.8" r="3.4" fill="#f8a088"/>
<circle cx="547.5" cy="272.8" r="0.6" fill="#d8d0fa"/>
<circle cx="560" cy="272.8" r="2.05" fill="#b098f8"/>
<circle cx="572.5" cy="272.8" r="0.85" fill="#b8a8f8"/>
<circle cx="585.1" cy="272.8" r="3.9" fill="#6a48f8"/>
<circle cx="597.6" cy="272.8" r="3.6" fill="#7858f8"/>
<circle cx="610.2" cy="272.8" r="4.15" fill="#0000f0"/>
<circle cx="622.7" cy="272.8" r="3.1" fill="#5a38f8"/>
<circle cx="635.1" cy="272.8" r="2.9" fill="#5a38f8"/>
<circle cx="447.1" cy="291.5" r="2.6" fill="#a890f8"/>
<circle cx="459.6" cy="291.5" r="1.25" fill="#c0b0f8"/>
<circle cx="472.2" cy="291.5" r="1.75" fill="#fcc8b8"/>
<circle cx="484.7" cy="291.5" r="3.1" fill="#dcd0fb"/>
<circle cx="497.2" cy="291.5" r="2.05" fill="#f88870"/>
<circle cx="509.6" cy="291.5" r="2.9" fill="#fde0d8"/>
<circle cx="522.2" cy="291.5" r="2.05" fill="#c0a8f8"/>
<circle cx="534.8" cy="291.5" r="3.4" fill="#c0a8f8"/>
<circle cx="547.5" cy="291.5" r="1.55" fill="#f84020"/>
<circle cx="560" cy="291.5" r="3.6" fill="#f85030"/>
<circle cx="572.5" cy="291.5" r="3.3" fill="#f84020"/>
<circle cx="585.1" cy="291.5" r="3.9" fill="#f87050"/>
<circle cx="597.6" cy="291.5" r="3.9" fill="#f87858"/>
<circle cx="610.2" cy="291.5" r="3.6" fill="#fcb098"/>
<circle cx="622.7" cy="291.5" r="3.9" fill="#f88468"/>
<circle cx="635.1" cy="291.5" r="3.9" fill="#f89070"/>
<rect x="439.4" y="187" width="203.4" height="115.4" fill="none" stroke="#444" stroke-width="0.8"/>
<line x1="501.3" y1="187" x2="501.3" y2="302.4" stroke="#444" stroke-width="0.85"/>
<line x1="578.9" y1="187" x2="578.9" y2="302.4" stroke="#555" stroke-width="1.2"/>
<rect x="439.6" y="172.5" width="61.5" height="14.3" fill="#e0702f" stroke="#8a3b14" stroke-width="0.8"/>
<rect x="501.4" y="172.5" width="77.3" height="14.3" fill="#1b8cc7" stroke="#0d4f73" stroke-width="0.8"/>
<rect x="578.9" y="172.5" width="63.8" height="14.3" fill="#4e9a3c" stroke="#2a5a1e" stroke-width="0.8"/>
<text x="470.3" y="181.2" font-size="6.9" font-weight="bold" text-anchor="middle" fill="#fbefe8" stroke="#fbefe8" stroke-width="0.2">M1 Genes</text>
<text x="540" y="181.2" font-size="6.9" font-weight="bold" text-anchor="middle" fill="#eef6fb" stroke="#eef6fb" stroke-width="0.2">M2 Genes</text>
<text x="610.8" y="178.3" font-size="6.75" font-weight="bold" text-anchor="middle" fill="#f2f8ef" stroke="#f2f8ef" stroke-width="0.2">Antigen-presenting</text>
<text x="610.8" y="185.9" font-size="6.75" font-weight="bold" text-anchor="middle" fill="#f2f8ef" stroke="#f2f8ef" stroke-width="0.2">Genes</text>
<line x1="437.2" y1="198.2" x2="439.4" y2="198.2" stroke="#555" stroke-width="0.5"/>
<text x="435.6" y="199.7" font-size="6.9" font-weight="bold" text-anchor="end" fill="#1a1a1a" stroke="#1a1a1a" stroke-width="0.2">TRPM2+ Macro</text>
<line x1="437.2" y1="216.9" x2="439.4" y2="216.9" stroke="#555" stroke-width="0.5"/>
<text x="435.6" y="218.4" font-size="6.9" font-weight="bold" text-anchor="end" fill="#1a1a1a" stroke="#1a1a1a" stroke-width="0.2">SPP1+ Macro</text>
<line x1="437.2" y1="235.5" x2="439.4" y2="235.5" stroke="#555" stroke-width="0.5"/>
<text x="435.6" y="237" font-size="6.9" font-weight="bold" text-anchor="end" fill="#1a1a1a" stroke="#1a1a1a" stroke-width="0.2">PLK1+ Macro</text>
<line x1="437.2" y1="254.1" x2="439.4" y2="254.1" stroke="#555" stroke-width="0.5"/>
<text x="435.6" y="255.6" font-size="6.9" font-weight="bold" text-anchor="end" fill="#1a1a1a" stroke="#1a1a1a" stroke-width="0.2">FCN1+ Mono</text>
<line x1="437.2" y1="272.8" x2="439.4" y2="272.8" stroke="#555" stroke-width="0.5"/>
<text x="435.6" y="274.3" font-size="6.9" font-weight="bold" text-anchor="end" fill="#1a1a1a" stroke="#1a1a1a" stroke-width="0.2">CXCL5+ Macro</text>
<line x1="437.2" y1="291.5" x2="439.4" y2="291.5" stroke="#555" stroke-width="0.5"/>
<text x="435.6" y="293" font-size="6.9" font-weight="bold" text-anchor="end" fill="#1a1a1a" stroke="#1a1a1a" stroke-width="0.2">CD163L1+ Macro</text>
<line x1="447.1" y1="302.4" x2="447.1" y2="304.4" stroke="#555" stroke-width="0.5"/>
<text x="448.3" y="306.7" font-size="6.9" text-anchor="end" fill="#333" stroke="#333" stroke-width="0.2" transform="rotate(-45 448.3 306.7)" dominant-baseline="hanging">TNF</text>
<line x1="459.6" y1="302.4" x2="459.6" y2="304.4" stroke="#555" stroke-width="0.5"/>
<text x="460.8" y="306.7" font-size="6.9" text-anchor="end" fill="#333" stroke="#333" stroke-width="0.2" transform="rotate(-45 460.8 306.7)" dominant-baseline="hanging">IL6</text>
<line x1="472.2" y1="302.4" x2="472.2" y2="304.4" stroke="#555" stroke-width="0.5"/>
<text x="473.4" y="306.7" font-size="6.9" text-anchor="end" fill="#333" stroke="#333" stroke-width="0.2" transform="rotate(-45 473.4 306.7)" dominant-baseline="hanging">CXCL10</text>
<line x1="484.7" y1="302.4" x2="484.7" y2="304.4" stroke="#555" stroke-width="0.5"/>
<text x="485.9" y="306.7" font-size="6.9" text-anchor="end" fill="#333" stroke="#333" stroke-width="0.2" transform="rotate(-45 485.9 306.7)" dominant-baseline="hanging">CD86</text>
<line x1="497.2" y1="302.4" x2="497.2" y2="304.4" stroke="#555" stroke-width="0.5"/>
<text x="498.4" y="306.7" font-size="6.9" text-anchor="end" fill="#333" stroke="#333" stroke-width="0.2" transform="rotate(-45 498.4 306.7)" dominant-baseline="hanging">IRF5</text>
<line x1="509.6" y1="302.4" x2="509.6" y2="304.4" stroke="#555" stroke-width="0.5"/>
<text x="510.8" y="306.7" font-size="6.9" text-anchor="end" fill="#333" stroke="#333" stroke-width="0.2" transform="rotate(-45 510.8 306.7)" dominant-baseline="hanging">TGFB1</text>
<line x1="522.2" y1="302.4" x2="522.2" y2="304.4" stroke="#555" stroke-width="0.5"/>
<text x="523.4" y="306.7" font-size="6.9" text-anchor="end" fill="#333" stroke="#333" stroke-width="0.2" transform="rotate(-45 523.4 306.7)" dominant-baseline="hanging">CSTA</text>
<line x1="534.8" y1="302.4" x2="534.8" y2="304.4" stroke="#555" stroke-width="0.5"/>
<text x="536" y="306.7" font-size="6.9" text-anchor="end" fill="#333" stroke="#333" stroke-width="0.2" transform="rotate(-45 536 306.7)" dominant-baseline="hanging">CSTB</text>
<line x1="547.5" y1="302.4" x2="547.5" y2="304.4" stroke="#555" stroke-width="0.5"/>
<text x="548.7" y="306.7" font-size="6.9" text-anchor="end" fill="#333" stroke="#333" stroke-width="0.2" transform="rotate(-45 548.7 306.7)" dominant-baseline="hanging">LYVE1</text>
<line x1="560" y1="302.4" x2="560" y2="304.4" stroke="#555" stroke-width="0.5"/>
<text x="561.2" y="306.7" font-size="6.9" text-anchor="end" fill="#333" stroke="#333" stroke-width="0.2" transform="rotate(-45 561.2 306.7)" dominant-baseline="hanging">CD163</text>
<line x1="572.5" y1="302.4" x2="572.5" y2="304.4" stroke="#555" stroke-width="0.5"/>
<text x="573.7" y="306.7" font-size="6.9" text-anchor="end" fill="#333" stroke="#333" stroke-width="0.2" transform="rotate(-45 573.7 306.7)" dominant-baseline="hanging">CD163L1</text>
<line x1="585.1" y1="302.4" x2="585.1" y2="304.4" stroke="#555" stroke-width="0.5"/>
<text x="586.3" y="306.7" font-size="6.9" text-anchor="end" fill="#333" stroke="#333" stroke-width="0.2" transform="rotate(-45 586.3 306.7)" dominant-baseline="hanging">HLA-DRA</text>
<line x1="597.6" y1="302.4" x2="597.6" y2="304.4" stroke="#555" stroke-width="0.5"/>
<text x="598.8" y="306.7" font-size="6.9" text-anchor="end" fill="#333" stroke="#333" stroke-width="0.2" transform="rotate(-45 598.8 306.7)" dominant-baseline="hanging">HLA-DRB1</text>
<line x1="610.2" y1="302.4" x2="610.2" y2="304.4" stroke="#555" stroke-width="0.5"/>
<text x="611.4" y="306.7" font-size="6.9" text-anchor="end" fill="#333" stroke="#333" stroke-width="0.2" transform="rotate(-45 611.4 306.7)" dominant-baseline="hanging">B2M</text>
<line x1="622.7" y1="302.4" x2="622.7" y2="304.4" stroke="#555" stroke-width="0.5"/>
<text x="623.9" y="306.7" font-size="6.9" text-anchor="end" fill="#333" stroke="#333" stroke-width="0.2" transform="rotate(-45 623.9 306.7)" dominant-baseline="hanging">HLA-DPA1</text>
<line x1="635.1" y1="302.4" x2="635.1" y2="304.4" stroke="#555" stroke-width="0.5"/>
<text x="636.3" y="306.7" font-size="6.9" text-anchor="end" fill="#333" stroke="#333" stroke-width="0.2" transform="rotate(-45 636.3 306.7)" dominant-baseline="hanging">HLA-DQB1</text>
<text x="647.9" y="187.1" font-size="6.9" fill="#1a1a1a" stroke="#1a1a1a" stroke-width="0.2">Average</text>
<text x="647.9" y="195.2" font-size="6.9" fill="#1a1a1a" stroke="#1a1a1a" stroke-width="0.2">Expression</text>
<defs><linearGradient id="gf" x1="0" y1="0" x2="0" y2="1"><stop offset="0" stop-color="#ff2a1a"/><stop offset="0.26" stop-color="#ff8f76"/><stop offset="0.527" stop-color="#ffffff"/><stop offset="0.79" stop-color="#a595ff"/><stop offset="1" stop-color="#2a10ff"/></linearGradient></defs>
<rect x="647.9" y="200.8" width="7.3" height="35.5" fill="url(#gf)"/>
<text x="658.9" y="203.75" font-size="6.9" fill="#1a1a1a" stroke="#1a1a1a" stroke-width="0.2">2</text>
<text x="658.9" y="212.75" font-size="6.9" fill="#1a1a1a" stroke="#1a1a1a" stroke-width="0.2">1</text>
<text x="658.9" y="221.95" font-size="6.9" fill="#1a1a1a" stroke="#1a1a1a" stroke-width="0.2">0</text>
<text x="658.9" y="231.35" font-size="6.9" fill="#1a1a1a" stroke="#1a1a1a" stroke-width="0.2">−1</text>
<text x="647.9" y="249.2" font-size="6.9" fill="#1a1a1a" stroke="#1a1a1a" stroke-width="0.2">Percent</text>
<text x="647.9" y="257.6" font-size="6.9" fill="#1a1a1a" stroke="#1a1a1a" stroke-width="0.2">Expressed</text>
<circle cx="654.3" cy="263.4" r="2.25" fill="#000"/>
<text x="661.6" y="265.85" font-size="6.9" fill="#1a1a1a" stroke="#1a1a1a" stroke-width="0.2">25</text>
<circle cx="654.3" cy="271.8" r="3.15" fill="#000"/>
<text x="661.6" y="274.25" font-size="6.9" fill="#1a1a1a" stroke="#1a1a1a" stroke-width="0.2">50</text>
<circle cx="654.3" cy="280.9" r="3.85" fill="#000"/>
<text x="661.6" y="283.35" font-size="6.9" fill="#1a1a1a" stroke="#1a1a1a" stroke-width="0.2">75</text>
<circle cx="654.3" cy="291.5" r="4.65" fill="#000"/>
<text x="661.6" y="293.95" font-size="6.9" fill="#1a1a1a" stroke="#1a1a1a" stroke-width="0.2">100</text>
<defs><linearGradient id="fadeup" x1="0" y1="0" x2="0" y2="1"><stop offset="0" stop-color="#fff" stop-opacity="0.8"/><stop offset="1" stop-color="#fff" stop-opacity="0"/></linearGradient><linearGradient id="fadedn" x1="0" y1="0" x2="0" y2="1"><stop offset="0" stop-color="#fff" stop-opacity="0"/><stop offset="1" stop-color="#fff" stop-opacity="0.6"/></linearGradient></defs>
<text x="-0.3" y="368.3" font-size="13" font-weight="bold" stroke="#000" stroke-width="0.2">g</text>
<text x="5.9" y="455.2" font-size="6.9" text-anchor="middle" fill="#1a1a1a" stroke="#1a1a1a" stroke-width="0.2" transform="rotate(-90 5.9 455.2)">UCell Score</text>
<rect x="28.5" y="369.7" width="93.6" height="9.5" fill="#d9d9d9" stroke="#333" stroke-width="0.6"/>
<text x="75.3" y="376.9" font-size="6.9" font-weight="bold" text-anchor="middle" fill="#1a1a1a" stroke="#1a1a1a" stroke-width="0.2">Angiogenesis</text>
<rect x="28.5" y="379.2" width="93.6" height="70.2" fill="none" stroke="#b3b3b3" stroke-width="0.6"/>
<line x1="28.5" y1="379.2" x2="28.5" y2="449.7" stroke="#2e2e2e" stroke-width="0.75"/>
<line x1="28.2" y1="449.4" x2="122.1" y2="449.4" stroke="#2e2e2e" stroke-width="0.75"/>
<line x1="26.2" y1="441.6" x2="28.5" y2="441.6" stroke="#2e2e2e" stroke-width="0.6"/>
<text x="23.3" y="444.05" font-size="6.9" text-anchor="end" fill="#4d4d4d" stroke="#4d4d4d" stroke-width="0.2">0.0</text>
<line x1="26.2" y1="428.6" x2="28.5" y2="428.6" stroke="#2e2e2e" stroke-width="0.6"/>
<text x="23.3" y="431.05" font-size="6.9" text-anchor="end" fill="#4d4d4d" stroke="#4d4d4d" stroke-width="0.2">0.1</text>
<line x1="26.2" y1="415.6" x2="28.5" y2="415.6" stroke="#2e2e2e" stroke-width="0.6"/>
<text x="23.3" y="418.05" font-size="6.9" text-anchor="end" fill="#4d4d4d" stroke="#4d4d4d" stroke-width="0.2">0.2</text>
<line x1="26.2" y1="402.6" x2="28.5" y2="402.6" stroke="#2e2e2e" stroke-width="0.6"/>
<text x="23.3" y="405.05" font-size="6.9" text-anchor="end" fill="#4d4d4d" stroke="#4d4d4d" stroke-width="0.2">0.3</text>
<line x1="26.2" y1="389.6" x2="28.5" y2="389.6" stroke="#2e2e2e" stroke-width="0.6"/>
<text x="23.3" y="392.05" font-size="6.9" text-anchor="end" fill="#4d4d4d" stroke="#4d4d4d" stroke-width="0.2">0.4</text>
<path d="M35.9,445.5 C36.32,445.5 36.71,445.18 37.3,444.2 C37.89,443.23 39.19,440.75 39.82,439 C40.45,437.25 41.42,434.45 41.5,432.5 C41.58,430.55 40.93,427.95 40.38,426 C39.83,424.05 38.47,421.06 37.86,419.5 C37.25,417.94 36.61,417.36 36.33,415.6 C36.05,413.85 36.07,410.14 36.01,407.8 C35.94,405.46 35.93,400 35.9,400 C35.87,400 35.86,405.46 35.79,407.8 C35.73,410.14 35.75,413.85 35.47,415.6 C35.19,417.36 34.55,417.94 33.94,419.5 C33.33,421.06 31.97,424.05 31.42,426 C30.87,427.95 30.22,430.55 30.3,432.5 C30.38,434.45 31.35,437.25 31.98,439 C32.61,440.75 33.91,443.23 34.5,444.2 C35.09,445.18 35.48,445.5 35.9,445.5Z" fill="#F8766D" fill-opacity="0.8" stroke="#2b2b2b" stroke-width="0.5"/>
<line x1="35.9" y1="445.2" x2="35.9" y2="400.3" stroke="#333" stroke-width="0.35"/>
<rect x="34.45" y="427.3" width="2.9" height="7.8" fill="#F8766D" stroke="#1a1a1a" stroke-width="0.6"/>
<line x1="34.45" y1="431.2" x2="37.35" y2="431.2" stroke="#111" stroke-width="0.8"/>
<rect x="34.9" y="399.4" width="2" height="18.1" fill="url(#fadeup)"/>
<path d="M48.95,443.68 C49.37,443.68 49.72,443.6 50.35,442.9 C50.98,442.2 52.56,440.07 53.15,439 C53.74,437.93 54.31,437.12 54.27,435.75 C54.23,434.38 53.42,431.66 52.87,429.9 C52.32,428.15 51.17,425.42 50.63,424.05 C50.09,422.69 49.53,422.17 49.27,420.8 C49.02,419.44 49.05,414.95 48.95,414.95 C48.85,414.95 48.88,419.44 48.63,420.8 C48.37,422.17 47.81,422.69 47.27,424.05 C46.73,425.42 45.58,428.15 45.03,429.9 C44.48,431.66 43.67,434.38 43.63,435.75 C43.59,437.12 44.16,437.93 44.75,439 C45.34,440.07 46.92,442.2 47.55,442.9 C48.18,443.6 48.53,443.68 48.95,443.68Z" fill="#F8766D" fill-opacity="0.8" stroke="#2b2b2b" stroke-width="0.5"/>
<line x1="48.95" y1="443.38" x2="48.95" y2="415.25" stroke="#333" stroke-width="0.35"/>
<rect x="47.5" y="430.68" width="2.9" height="6.76" fill="#F8766D" stroke="#1a1a1a" stroke-width="0.6"/>
<line x1="47.5" y1="434.06" x2="50.4" y2="434.06" stroke="#111" stroke-width="0.8"/>
<rect x="47.95" y="414.35" width="2" height="7.7" fill="url(#fadeup)"/>
<path d="M62,443.16 C62.03,443.16 62.01,443.04 62.11,441.6 C62.2,440.16 62.21,435.49 62.62,433.54 C63.02,431.59 64.18,430.32 64.8,428.6 C65.42,426.88 66.34,423.86 66.76,422.1 C67.18,420.35 67.64,418.66 67.6,416.9 C67.56,415.15 67.03,412.31 66.48,410.4 C65.93,408.49 64.57,405.72 63.96,404.16 C63.35,402.6 62.71,401.4 62.43,400 C62.15,398.6 62.17,396.28 62.11,394.8 C62.04,393.32 62.03,390.12 62,390.12 C61.97,390.12 61.96,393.32 61.89,394.8 C61.83,396.28 61.85,398.6 61.57,400 C61.29,401.4 60.65,402.6 60.04,404.16 C59.43,405.72 58.07,408.49 57.52,410.4 C56.97,412.31 56.44,415.15 56.4,416.9 C56.36,418.66 56.82,420.35 57.24,422.1 C57.66,423.86 58.58,426.88 59.2,428.6 C59.82,430.32 60.98,431.59 61.38,433.54 C61.79,435.49 61.8,440.16 61.89,441.6 C61.99,443.04 61.97,443.16 62,443.16Z" fill="#F8766D" fill-opacity="0.8" stroke="#2b2b2b" stroke-width="0.5"/>
<line x1="62" y1="442.86" x2="62" y2="390.42" stroke="#333" stroke-width="0.35"/>
<rect x="60.55" y="412.61" width="2.9" height="9.62" fill="#F8766D" stroke="#1a1a1a" stroke-width="0.6"/>
<line x1="60.55" y1="417.16" x2="63.45" y2="417.16" stroke="#111" stroke-width="0.8"/>
<rect x="61" y="389.52" width="2" height="12.64" fill="url(#fadeup)"/>
<rect x="61" y="430.6" width="2" height="13.16" fill="url(#fadedn)"/>
<path d="M75.05,444.2 C75.34,444.2 75.61,444.07 76.03,442.9 C76.45,441.73 77.28,438.35 77.85,436.4 C78.42,434.45 79.43,431.66 79.81,429.9 C80.19,428.15 80.5,426.26 80.37,424.7 C80.24,423.14 79.47,421.06 78.97,419.5 C78.47,417.94 77.53,415.67 77.01,414.3 C76.49,412.94 75.78,411.96 75.48,410.4 C75.19,408.84 75.18,403.9 75.05,403.9 C74.92,403.9 74.91,408.84 74.62,410.4 C74.32,411.96 73.61,412.94 73.09,414.3 C72.57,415.67 71.63,417.94 71.13,419.5 C70.63,421.06 69.86,423.14 69.73,424.7 C69.6,426.26 69.91,428.15 70.29,429.9 C70.67,431.66 71.68,434.45 72.25,436.4 C72.82,438.35 73.65,441.73 74.07,442.9 C74.49,444.07 74.76,444.2 75.05,444.2Z" fill="#F8766D" fill-opacity="0.8" stroke="#2b2b2b" stroke-width="0.5"/>
<line x1="75.05" y1="443.9" x2="75.05" y2="404.2" stroke="#333" stroke-width="0.35"/>
<rect x="73.6" y="420.8" width="2.9" height="8.45" fill="#F8766D" stroke="#1a1a1a" stroke-width="0.6"/>
<line x1="73.6" y1="424.7" x2="76.5" y2="424.7" stroke="#111" stroke-width="0.8"/>
<rect x="74.05" y="403.3" width="2" height="9" fill="url(#fadeup)"/>
<path d="M88.1,445.5 C88.39,445.5 88.58,445.18 89.08,444.2 C89.58,443.23 90.85,440.56 91.46,439 C92.07,437.44 92.85,435.13 93.14,433.8 C93.43,432.47 93.59,431.33 93.42,430.16 C93.25,428.99 92.52,427.4 92.02,426 C91.52,424.6 90.58,422.17 90.06,420.8 C89.54,419.44 88.83,418.46 88.53,416.9 C88.24,415.34 88.23,410.4 88.1,410.4 C87.97,410.4 87.96,415.34 87.67,416.9 C87.37,418.46 86.66,419.44 86.14,420.8 C85.62,422.17 84.68,424.6 84.18,426 C83.68,427.4 82.95,428.99 82.78,430.16 C82.61,431.33 82.77,432.47 83.06,433.8 C83.35,435.13 84.13,437.44 84.74,439 C85.35,440.56 86.62,443.23 87.12,444.2 C87.62,445.18 87.81,445.5 88.1,445.5Z" fill="#F8766D" fill-opacity="0.8" stroke="#2b2b2b" stroke-width="0.5"/>
<line x1="88.1" y1="445.2" x2="88.1" y2="410.7" stroke="#333" stroke-width="0.35"/>
<rect x="86.65" y="427.3" width="2.9" height="8.19" fill="#F8766D" stroke="#1a1a1a" stroke-width="0.6"/>
<line x1="86.65" y1="431.85" x2="89.55" y2="431.85" stroke="#111" stroke-width="0.8"/>
<rect x="87.1" y="409.8" width="2" height="9" fill="url(#fadeup)"/>
<path d="M101.15,444.98 C101.44,444.98 101.71,445.29 102.13,444.2 C102.55,443.11 103.38,439.46 103.95,437.7 C104.52,435.95 105.57,433.87 105.91,432.5 C106.25,431.13 106.32,429.97 106.19,428.6 C106.06,427.24 105.53,424.96 105.07,423.4 C104.61,421.84 103.63,419.76 103.11,418.2 C102.59,416.64 101.86,414.95 101.58,413 C101.3,411.05 101.32,407.93 101.26,405.2 C101.19,402.47 101.18,394.8 101.15,394.8 C101.12,394.8 101.11,402.47 101.04,405.2 C100.98,407.93 101,411.05 100.72,413 C100.44,414.95 99.71,416.64 99.19,418.2 C98.67,419.76 97.69,421.84 97.23,423.4 C96.77,424.96 96.24,427.24 96.11,428.6 C95.98,429.97 96.05,431.13 96.39,432.5 C96.73,433.87 97.78,435.95 98.35,437.7 C98.92,439.46 99.75,443.11 100.17,444.2 C100.59,445.29 100.86,444.98 101.15,444.98Z" fill="#F8766D" fill-opacity="0.8" stroke="#2b2b2b" stroke-width="0.5"/>
<line x1="101.15" y1="444.68" x2="101.15" y2="395.1" stroke="#333" stroke-width="0.35"/>
<rect x="99.7" y="423.4" width="2.9" height="8.32" fill="#F8766D" stroke="#1a1a1a" stroke-width="0.6"/>
<line x1="99.7" y1="428.6" x2="102.6" y2="428.6" stroke="#111" stroke-width="0.8"/>
<rect x="100.15" y="394.2" width="2" height="22" fill="url(#fadeup)"/>
<path d="M114.2,443.55 C114.7,443.55 115.29,443.19 115.88,442.9 C116.47,442.61 118.04,441.99 118.12,441.6 C118.2,441.21 116.31,440.79 116.44,440.3 C116.57,439.81 118.88,438.86 118.96,438.35 C119.04,437.84 116.96,437.41 117,436.92 C117.04,436.43 119.32,435.67 119.24,435.1 C119.16,434.53 116.69,433.74 116.44,433.15 C116.19,432.57 117.64,431.88 117.56,431.2 C117.48,430.52 116.24,429.58 115.88,428.6 C115.52,427.62 115.4,425.87 115.18,424.7 C114.96,423.53 114.57,423.14 114.43,420.8 C114.28,418.46 114.27,409.1 114.2,409.1 C114.13,409.1 114.12,418.46 113.97,420.8 C113.83,423.14 113.44,423.53 113.22,424.7 C113,425.87 112.88,427.62 112.52,428.6 C112.16,429.58 110.92,430.52 110.84,431.2 C110.76,431.88 112.21,432.57 111.96,433.15 C111.71,433.74 109.24,434.53 109.16,435.1 C109.08,435.67 111.36,436.43 111.4,436.92 C111.44,437.41 109.36,437.84 109.44,438.35 C109.52,438.86 111.83,439.81 111.96,440.3 C112.09,440.79 110.2,441.21 110.28,441.6 C110.36,441.99 111.93,442.61 112.52,442.9 C113.11,443.19 113.7,443.55 114.2,443.55Z" fill="#F8766D" fill-opacity="0.8" stroke="#2b2b2b" stroke-width="0.5"/>
<line x1="114.2" y1="443.25" x2="114.2" y2="409.4" stroke="#333" stroke-width="0.35"/>
<rect x="112.75" y="431.2" width="2.9" height="6.5" fill="#F8766D" stroke="#1a1a1a" stroke-width="0.6"/>
<line x1="112.75" y1="435.1" x2="115.65" y2="435.1" stroke="#111" stroke-width="0.8"/>
<rect x="113.2" y="408.5" width="2" height="14.2" fill="url(#fadeup)"/>
<rect x="140.2" y="369.7" width="94.1" height="9.5" fill="#d9d9d9" stroke="#333" stroke-width="0.6"/>
<text x="187.25" y="376.9" font-size="6.9" font-weight="bold" text-anchor="middle" fill="#1a1a1a" stroke="#1a1a1a" stroke-width="0.2">Antigen_presentation</text>
<rect x="140.2" y="379.2" width="94.1" height="70.2" fill="none" stroke="#b3b3b3" stroke-width="0.6"/>
<line x1="140.2" y1="379.2" x2="140.2" y2="449.7" stroke="#2e2e2e" stroke-width="0.75"/>
<line x1="139.9" y1="449.4" x2="234.3" y2="449.4" stroke="#2e2e2e" stroke-width="0.75"/>
<line x1="137.9" y1="444.3" x2="140.2" y2="444.3" stroke="#2e2e2e" stroke-width="0.6"/>
<text x="135" y="446.75" font-size="6.9" text-anchor="end" fill="#4d4d4d" stroke="#4d4d4d" stroke-width="0.2">0.0</text>
<line x1="137.9" y1="426.9" x2="140.2" y2="426.9" stroke="#2e2e2e" stroke-width="0.6"/>
<text x="135" y="429.35" font-size="6.9" text-anchor="end" fill="#4d4d4d" stroke="#4d4d4d" stroke-width="0.2">0.3</text>
<line x1="137.9" y1="409.5" x2="140.2" y2="409.5" stroke="#2e2e2e" stroke-width="0.6"/>
<text x="135" y="411.95" font-size="6.9" text-anchor="end" fill="#4d4d4d" stroke="#4d4d4d" stroke-width="0.2">0.6</text>
<line x1="137.9" y1="392.1" x2="140.2" y2="392.1" stroke="#2e2e2e" stroke-width="0.6"/>
<text x="135" y="394.55" font-size="6.9" text-anchor="end" fill="#4d4d4d" stroke="#4d4d4d" stroke-width="0.2">0.9</text>
<path d="M147.6,428.06 C147.64,428.06 147.65,425.48 147.74,424 C147.84,422.52 147.82,419.94 148.22,418.2 C148.62,416.46 149.74,413.88 150.4,412.4 C151.06,410.92 152.22,409.38 152.64,408.34 C153.06,407.3 153.28,406.4 153.2,405.44 C153.12,404.48 152.67,403 152.08,401.96 C151.49,400.92 149.92,399.44 149.28,398.48 C148.64,397.52 148.08,396.71 147.83,395.58 C147.57,394.45 147.67,390.94 147.6,390.94 C147.53,390.94 147.63,394.45 147.37,395.58 C147.12,396.71 146.56,397.52 145.92,398.48 C145.28,399.44 143.71,400.92 143.12,401.96 C142.53,403 142.08,404.48 142,405.44 C141.92,406.4 142.14,407.3 142.56,408.34 C142.98,409.38 144.14,410.92 144.8,412.4 C145.46,413.88 146.58,416.46 146.98,418.2 C147.38,419.94 147.36,422.52 147.46,424 C147.55,425.48 147.56,428.06 147.6,428.06Z" fill="#B79F00" fill-opacity="0.8" stroke="#2b2b2b" stroke-width="0.5"/>
<line x1="147.6" y1="427.76" x2="147.6" y2="391.24" stroke="#333" stroke-width="0.35"/>
<rect x="146.15" y="403.12" width="2.9" height="6.09" fill="#B79F00" stroke="#1a1a1a" stroke-width="0.6"/>
<line x1="146.15" y1="406.02" x2="149.05" y2="406.02" stroke="#111" stroke-width="0.8"/>
<rect x="146.6" y="390.34" width="2" height="6.14" fill="url(#fadeup)"/>
<rect x="146.6" y="414.4" width="2" height="14.26" fill="url(#fadedn)"/>
<path d="M160.65,428.06 C160.69,428.06 160.7,425.48 160.79,424 C160.89,422.52 160.83,419.94 161.27,418.2 C161.71,416.46 163.07,413.97 163.73,412.4 C164.39,410.83 165.31,408.98 165.69,407.76 C166.07,406.54 166.38,405.32 166.25,404.28 C166.12,403.24 165.44,401.76 164.85,400.8 C164.26,399.84 162.93,398.77 162.33,397.9 C161.73,397.03 161.13,395.96 160.88,395 C160.62,394.04 160.72,391.52 160.65,391.52 C160.58,391.52 160.68,394.04 160.42,395 C160.17,395.96 159.57,397.03 158.97,397.9 C158.37,398.77 157.04,399.84 156.45,400.8 C155.86,401.76 155.18,403.24 155.05,404.28 C154.92,405.32 155.23,406.54 155.61,407.76 C155.99,408.98 156.91,410.83 157.57,412.4 C158.23,413.97 159.59,416.46 160.03,418.2 C160.47,419.94 160.41,422.52 160.51,424 C160.6,425.48 160.61,428.06 160.65,428.06Z" fill="#B79F00" fill-opacity="0.8" stroke="#2b2b2b" stroke-width="0.5"/>
<line x1="160.65" y1="427.76" x2="160.65" y2="391.82" stroke="#333" stroke-width="0.35"/>
<rect x="159.2" y="402.54" width="2.9" height="5.8" fill="#B79F00" stroke="#1a1a1a" stroke-width="0.6"/>
<line x1="159.2" y1="405.44" x2="162.1" y2="405.44" stroke="#111" stroke-width="0.8"/>
<rect x="159.65" y="390.92" width="2" height="4.98" fill="url(#fadeup)"/>
<rect x="159.65" y="414.4" width="2" height="14.26" fill="url(#fadedn)"/>
<path d="M173.7,445.46 C173.73,445.46 173.71,442.88 173.81,441.4 C173.9,439.92 173.83,437.34 174.32,435.6 C174.81,433.86 176.4,431.37 177.06,429.8 C177.72,428.23 178.4,426.38 178.74,425.16 C179.08,423.94 179.38,422.99 179.3,421.68 C179.22,420.38 178.64,418.11 178.18,416.46 C177.72,414.81 176.8,412.31 176.22,410.66 C175.64,409.01 174.67,406.83 174.32,405.44 C173.96,404.05 173.94,402.69 173.84,401.38 C173.75,400.07 173.74,396.74 173.7,396.74 C173.66,396.74 173.65,400.07 173.56,401.38 C173.46,402.69 173.44,404.05 173.08,405.44 C172.73,406.83 171.76,409.01 171.18,410.66 C170.6,412.31 169.68,414.81 169.22,416.46 C168.76,418.11 168.18,420.38 168.1,421.68 C168.02,422.99 168.32,423.94 168.66,425.16 C169,426.38 169.68,428.23 170.34,429.8 C171,431.37 172.59,433.86 173.08,435.6 C173.57,437.34 173.5,439.92 173.59,441.4 C173.69,442.88 173.67,445.46 173.7,445.46Z" fill="#B79F00" fill-opacity="0.8" stroke="#2b2b2b" stroke-width="0.5"/>
<line x1="173.7" y1="445.16" x2="173.7" y2="397.04" stroke="#333" stroke-width="0.35"/>
<rect x="172.25" y="415.88" width="2.9" height="9.28" fill="#B79F00" stroke="#1a1a1a" stroke-width="0.6"/>
<line x1="172.25" y1="421.68" x2="175.15" y2="421.68" stroke="#111" stroke-width="0.8"/>
<rect x="172.7" y="396.14" width="2" height="12.52" fill="url(#fadeup)"/>
<rect x="172.7" y="431.8" width="2" height="14.26" fill="url(#fadedn)"/>
<path d="M186.75,446.39 C186.78,446.39 186.76,443.02 186.86,441.4 C186.95,439.78 186.92,437.34 187.37,435.6 C187.81,433.86 189.17,431.54 189.83,429.8 C190.49,428.06 191.41,426.09 191.79,424 C192.17,421.91 192.39,418.06 192.35,415.88 C192.31,413.7 191.93,411.15 191.51,409.5 C191.09,407.85 190.17,406.08 189.55,404.86 C188.93,403.64 187.77,402.42 187.37,401.38 C186.97,400.34 186.99,399.07 186.89,397.9 C186.8,396.73 186.79,393.55 186.75,393.55 C186.71,393.55 186.7,396.73 186.61,397.9 C186.51,399.07 186.53,400.34 186.13,401.38 C185.73,402.42 184.57,403.64 183.95,404.86 C183.33,406.08 182.41,407.85 181.99,409.5 C181.57,411.15 181.19,413.7 181.15,415.88 C181.11,418.06 181.33,421.91 181.71,424 C182.09,426.09 183.01,428.06 183.67,429.8 C184.33,431.54 185.69,433.86 186.13,435.6 C186.58,437.34 186.55,439.78 186.64,441.4 C186.74,443.02 186.72,446.39 186.75,446.39Z" fill="#B79F00" fill-opacity="0.8" stroke="#2b2b2b" stroke-width="0.5"/>
<line x1="186.75" y1="446.09" x2="186.75" y2="393.85" stroke="#333" stroke-width="0.35"/>
<rect x="185.3" y="411.24" width="2.9" height="11.02" fill="#B79F00" stroke="#1a1a1a" stroke-width="0.6"/>
<line x1="185.3" y1="416.46" x2="188.2" y2="416.46" stroke="#111" stroke-width="0.8"/>
<rect x="185.75" y="392.95" width="2" height="9.91" fill="url(#fadeup)"/>
<rect x="185.75" y="431.8" width="2" height="15.19" fill="url(#fadedn)"/>
<path d="M199.8,430.38 C199.87,430.38 199.88,428.12 200.03,426.9 C200.17,425.68 200.39,423.56 200.78,422.26 C201.17,420.95 202.03,419.5 202.6,418.2 C203.17,416.89 204.14,414.91 204.56,413.56 C204.98,412.21 205.48,410.52 205.4,409.21 C205.32,407.91 204.55,406.03 204,404.86 C203.45,403.69 202.34,402.42 201.76,401.38 C201.18,400.34 200.42,399.16 200.12,397.9 C199.83,396.64 199.9,392.97 199.8,392.97 C199.7,392.97 199.77,396.64 199.48,397.9 C199.18,399.16 198.42,400.34 197.84,401.38 C197.26,402.42 196.15,403.69 195.6,404.86 C195.05,406.03 194.28,407.91 194.2,409.21 C194.12,410.52 194.62,412.21 195.04,413.56 C195.46,414.91 196.43,416.89 197,418.2 C197.57,419.5 198.43,420.95 198.82,422.26 C199.21,423.56 199.43,425.68 199.57,426.9 C199.72,428.12 199.73,430.38 199.8,430.38Z" fill="#B79F00" fill-opacity="0.8" stroke="#2b2b2b" stroke-width="0.5"/>
<line x1="199.8" y1="430.08" x2="199.8" y2="393.27" stroke="#333" stroke-width="0.35"/>
<rect x="198.35" y="405.44" width="2.9" height="7.54" fill="#B79F00" stroke="#1a1a1a" stroke-width="0.6"/>
<line x1="198.35" y1="409.5" x2="201.25" y2="409.5" stroke="#111" stroke-width="0.8"/>
<rect x="198.8" y="392.37" width="2" height="7.01" fill="url(#fadeup)"/>
<rect x="198.8" y="424.26" width="2" height="6.72" fill="url(#fadedn)"/>
<path d="M212.85,432.12 C212.89,432.12 212.9,429.71 212.99,428.06 C213.09,426.41 213.11,423.01 213.47,421.1 C213.82,419.19 214.75,416.87 215.37,415.3 C215.99,413.73 217.15,412.14 217.61,410.66 C218.07,409.18 218.53,406.75 218.45,405.44 C218.37,404.13 217.64,403 217.05,401.96 C216.46,400.92 215.11,399.52 214.53,398.48 C213.95,397.44 213.43,396.26 213.17,395 C212.92,393.74 212.95,390.07 212.85,390.07 C212.75,390.07 212.78,393.74 212.53,395 C212.27,396.26 211.75,397.44 211.17,398.48 C210.59,399.52 209.24,400.92 208.65,401.96 C208.06,403 207.33,404.13 207.25,405.44 C207.17,406.75 207.63,409.18 208.09,410.66 C208.55,412.14 209.71,413.73 210.33,415.3 C210.95,416.87 211.88,419.19 212.23,421.1 C212.59,423.01 212.61,426.41 212.71,428.06 C212.8,429.71 212.81,432.12 212.85,432.12Z" fill="#B79F00" fill-opacity="0.8" stroke="#2b2b2b" stroke-width="0.5"/>
<line x1="212.85" y1="431.82" x2="212.85" y2="390.37" stroke="#333" stroke-width="0.35"/>
<rect x="211.4" y="402.54" width="2.9" height="7.54" fill="#B79F00" stroke="#1a1a1a" stroke-width="0.6"/>
<line x1="211.4" y1="406.6" x2="214.3" y2="406.6" stroke="#111" stroke-width="0.8"/>
<rect x="211.85" y="389.47" width="2" height="7.01" fill="url(#fadeup)"/>
<rect x="211.85" y="417.3" width="2" height="15.42" fill="url(#fadedn)"/>
<path d="M225.9,444.3 C225.93,444.3 225.91,442.04 226.01,440.82 C226.1,439.6 226.11,437.57 226.52,436.18 C226.92,434.79 228.08,433.11 228.7,431.54 C229.32,429.97 230.24,427.83 230.66,425.74 C231.08,423.65 231.5,419.88 231.5,417.62 C231.5,415.36 231.08,412.4 230.66,410.66 C230.24,408.92 229.32,407.24 228.7,406.02 C228.08,404.8 226.92,403.67 226.52,402.54 C226.12,401.41 226.14,399.7 226.04,398.48 C225.95,397.26 225.94,394.42 225.9,394.42 C225.86,394.42 225.85,397.26 225.76,398.48 C225.66,399.7 225.68,401.41 225.28,402.54 C224.88,403.67 223.72,404.8 223.1,406.02 C222.48,407.24 221.56,408.92 221.14,410.66 C220.72,412.4 220.3,415.36 220.3,417.62 C220.3,419.88 220.72,423.65 221.14,425.74 C221.56,427.83 222.48,429.97 223.1,431.54 C223.72,433.11 224.88,434.79 225.28,436.18 C225.69,437.57 225.7,439.6 225.79,440.82 C225.89,442.04 225.87,444.3 225.9,444.3Z" fill="#B79F00" fill-opacity="0.8" stroke="#2b2b2b" stroke-width="0.5"/>
<line x1="225.9" y1="444" x2="225.9" y2="394.72" stroke="#333" stroke-width="0.35"/>
<rect x="224.45" y="411.24" width="2.9" height="12.18" fill="#B79F00" stroke="#1a1a1a" stroke-width="0.6"/>
<line x1="224.45" y1="418.2" x2="227.35" y2="418.2" stroke="#111" stroke-width="0.8"/>
<rect x="224.9" y="393.82" width="2" height="10.2" fill="url(#fadeup)"/>
<rect x="224.9" y="433.54" width="2" height="11.36" fill="url(#fadedn)"/>
<rect x="252.3" y="369.7" width="93.9" height="9.5" fill="#d9d9d9" stroke="#333" stroke-width="0.6"/>
<text x="299.25" y="376.9" font-size="6.9" font-weight="bold" text-anchor="middle" fill="#1a1a1a" stroke="#1a1a1a" stroke-width="0.2">Complement_Function</text>
<rect x="252.3" y="379.2" width="93.9" height="70.2" fill="none" stroke="#b3b3b3" stroke-width="0.6"/>
<line x1="252.3" y1="379.2" x2="252.3" y2="449.7" stroke="#2e2e2e" stroke-width="0.75"/>
<line x1="252" y1="449.4" x2="346.2" y2="449.4" stroke="#2e2e2e" stroke-width="0.75"/>
<line x1="250" y1="440.5" x2="252.3" y2="440.5" stroke="#2e2e2e" stroke-width="0.6"/>
<text x="247.1" y="442.95" font-size="6.9" text-anchor="end" fill="#4d4d4d" stroke="#4d4d4d" stroke-width="0.2">0.0</text>
<line x1="250" y1="425.9" x2="252.3" y2="425.9" stroke="#2e2e2e" stroke-width="0.6"/>
<text x="247.1" y="428.35" font-size="6.9" text-anchor="end" fill="#4d4d4d" stroke="#4d4d4d" stroke-width="0.2">0.1</text>
<line x1="250" y1="411.3" x2="252.3" y2="411.3" stroke="#2e2e2e" stroke-width="0.6"/>
<text x="247.1" y="413.75" font-size="6.9" text-anchor="end" fill="#4d4d4d" stroke="#4d4d4d" stroke-width="0.2">0.2</text>
<line x1="250" y1="396.7" x2="252.3" y2="396.7" stroke="#2e2e2e" stroke-width="0.6"/>
<text x="247.1" y="399.15" font-size="6.9" text-anchor="end" fill="#4d4d4d" stroke="#4d4d4d" stroke-width="0.2">0.3</text>
<line x1="250" y1="382.1" x2="252.3" y2="382.1" stroke="#2e2e2e" stroke-width="0.6"/>
<text x="247.1" y="384.55" font-size="6.9" text-anchor="end" fill="#4d4d4d" stroke="#4d4d4d" stroke-width="0.2">0.4</text>
<path d="M259.7,444.88 C259.8,444.88 259.88,444.08 260.02,443.42 C260.17,442.76 260.39,441.81 260.68,440.5 C260.97,439.19 261.67,436.19 261.94,434.66 C262.21,433.13 262.16,431.59 262.5,430.28 C262.84,428.97 263.76,427.43 264.18,425.9 C264.6,424.37 265.34,421.81 265.3,420.06 C265.26,418.31 264.45,415.53 263.9,414.22 C263.35,412.91 262.24,412.61 261.66,411.3 C261.08,409.99 260.32,407.34 260.02,405.46 C259.73,403.58 259.8,398.74 259.7,398.74 C259.6,398.74 259.67,403.58 259.38,405.46 C259.08,407.34 258.32,409.99 257.74,411.3 C257.16,412.61 256.05,412.91 255.5,414.22 C254.95,415.53 254.14,418.31 254.1,420.06 C254.06,421.81 254.8,424.37 255.22,425.9 C255.64,427.43 256.56,428.97 256.9,430.28 C257.24,431.59 257.19,433.13 257.46,434.66 C257.73,436.19 258.43,439.19 258.72,440.5 C259.01,441.81 259.23,442.76 259.38,443.42 C259.52,444.08 259.6,444.88 259.7,444.88Z" fill="#00BA38" fill-opacity="0.8" stroke="#2b2b2b" stroke-width="0.5"/>
<line x1="259.7" y1="444.58" x2="259.7" y2="399.04" stroke="#333" stroke-width="0.35"/>
<rect x="258.25" y="417.14" width="2.9" height="10.22" fill="#00BA38" stroke="#1a1a1a" stroke-width="0.6"/>
<line x1="258.25" y1="421.52" x2="261.15" y2="421.52" stroke="#111" stroke-width="0.8"/>
<rect x="258.7" y="398.14" width="2" height="11.16" fill="url(#fadeup)"/>
<path d="M272.75,434.66 C272.94,434.66 272.95,432.99 273.37,431.74 C273.79,430.49 274.93,427.76 275.55,426.34 C276.17,424.91 277.09,423.52 277.51,422.25 C277.93,420.98 278.48,419.18 278.35,417.87 C278.22,416.56 277.26,414.8 276.67,413.49 C276.08,412.18 274.97,410.53 274.43,409.11 C273.89,407.69 273.33,406.08 273.07,404 C272.82,401.92 272.85,395.24 272.75,395.24 C272.65,395.24 272.68,401.92 272.43,404 C272.17,406.08 271.61,407.69 271.07,409.11 C270.53,410.53 269.42,412.18 268.83,413.49 C268.24,414.8 267.28,416.56 267.15,417.87 C267.02,419.18 267.57,420.98 267.99,422.25 C268.41,423.52 269.33,424.91 269.95,426.34 C270.57,427.76 271.71,430.49 272.13,431.74 C272.55,432.99 272.56,434.66 272.75,434.66Z" fill="#00BA38" fill-opacity="0.8" stroke="#2b2b2b" stroke-width="0.5"/>
<line x1="272.75" y1="434.36" x2="272.75" y2="395.54" stroke="#333" stroke-width="0.35"/>
<rect x="271.3" y="414.22" width="2.9" height="6.57" fill="#00BA38" stroke="#1a1a1a" stroke-width="0.6"/>
<line x1="271.3" y1="417.87" x2="274.2" y2="417.87" stroke="#111" stroke-width="0.8"/>
<rect x="271.75" y="394.64" width="2" height="12.47" fill="url(#fadeup)"/>
<rect x="271.75" y="428.34" width="2" height="6.92" fill="url(#fadedn)"/>
<path d="M285.8,445.46 C286.3,445.46 286.89,444.16 287.48,443.42 C288.07,442.68 289.17,441.81 289.72,440.5 C290.27,439.19 290.87,436.19 291.12,434.66 C291.37,433.13 291.53,431.81 291.4,430.28 C291.27,428.75 290.74,426.19 290.28,424.44 C289.82,422.69 288.85,420.02 288.32,418.6 C287.79,417.18 287.12,416.26 286.78,414.95 C286.44,413.64 286.17,412.14 286.03,409.84 C285.88,407.54 285.87,399.62 285.8,399.62 C285.73,399.62 285.72,407.54 285.57,409.84 C285.43,412.14 285.16,413.64 284.82,414.95 C284.48,416.26 283.81,417.18 283.28,418.6 C282.75,420.02 281.78,422.69 281.32,424.44 C280.86,426.19 280.33,428.75 280.2,430.28 C280.07,431.81 280.23,433.13 280.48,434.66 C280.73,436.19 281.33,439.19 281.88,440.5 C282.43,441.81 283.53,442.68 284.12,443.42 C284.71,444.16 285.3,445.46 285.8,445.46Z" fill="#00BA38" fill-opacity="0.8" stroke="#2b2b2b" stroke-width="0.5"/>
<line x1="285.8" y1="445.16" x2="285.8" y2="399.92" stroke="#333" stroke-width="0.35"/>
<rect x="284.35" y="425.46" width="2.9" height="9.49" fill="#00BA38" stroke="#1a1a1a" stroke-width="0.6"/>
<line x1="284.35" y1="430.28" x2="287.25" y2="430.28" stroke="#111" stroke-width="0.8"/>
<rect x="284.8" y="399.02" width="2" height="13.93" fill="url(#fadeup)"/>
<path d="M298.85,442.54 C299.35,442.54 300.03,442.49 300.53,441.96 C301.03,441.43 301.79,439.81 302.21,439.04 C302.63,438.27 302.99,437.62 303.33,436.85 C303.67,436.08 304.53,434.81 304.45,433.93 C304.37,433.05 303.23,431.89 302.77,431.01 C302.31,430.13 301.81,428.92 301.37,428.09 C300.93,427.26 300.17,426.67 299.83,425.46 C299.49,424.26 299.22,423.21 299.08,420.06 C298.93,416.91 298.92,404.44 298.85,404.44 C298.78,404.44 298.77,416.91 298.62,420.06 C298.48,423.21 298.21,424.26 297.87,425.46 C297.53,426.67 296.77,427.26 296.33,428.09 C295.89,428.92 295.39,430.13 294.93,431.01 C294.47,431.89 293.33,433.05 293.25,433.93 C293.17,434.81 294.03,436.08 294.37,436.85 C294.71,437.62 295.07,438.27 295.49,439.04 C295.91,439.81 296.67,441.43 297.17,441.96 C297.67,442.49 298.35,442.54 298.85,442.54Z" fill="#00BA38" fill-opacity="0.8" stroke="#2b2b2b" stroke-width="0.5"/>
<line x1="298.85" y1="442.24" x2="298.85" y2="404.74" stroke="#333" stroke-width="0.35"/>
<rect x="297.4" y="430.28" width="2.9" height="5.99" fill="#00BA38" stroke="#1a1a1a" stroke-width="0.6"/>
<line x1="297.4" y1="433.2" x2="300.3" y2="433.2" stroke="#111" stroke-width="0.8"/>
<rect x="297.85" y="403.84" width="2" height="19.62" fill="url(#fadeup)"/>
<path d="M311.9,444.88 C311.97,444.88 312.06,444.95 312.13,443.42 C312.19,441.89 312.03,437.07 312.33,434.66 C312.63,432.25 313.57,428.89 314.14,427.36 C314.71,425.83 315.6,425.4 316.1,424.44 C316.6,423.48 317.54,422.03 317.5,420.94 C317.46,419.84 316.41,418.37 315.82,417.14 C315.23,415.91 314.12,414.07 313.58,412.76 C313.04,411.45 312.48,410.13 312.22,408.38 C311.97,406.63 312,401.08 311.9,401.08 C311.8,401.08 311.83,406.63 311.58,408.38 C311.32,410.13 310.76,411.45 310.22,412.76 C309.68,414.07 308.57,415.91 307.98,417.14 C307.39,418.37 306.34,419.84 306.3,420.94 C306.26,422.03 307.2,423.48 307.7,424.44 C308.2,425.4 309.09,425.83 309.66,427.36 C310.23,428.89 311.17,432.25 311.47,434.66 C311.77,437.07 311.61,441.89 311.67,443.42 C311.74,444.95 311.83,444.88 311.9,444.88Z" fill="#00BA38" fill-opacity="0.8" stroke="#2b2b2b" stroke-width="0.5"/>
<line x1="311.9" y1="444.58" x2="311.9" y2="401.38" stroke="#333" stroke-width="0.35"/>
<rect x="310.45" y="417.87" width="2.9" height="6.57" fill="#00BA38" stroke="#1a1a1a" stroke-width="0.6"/>
<line x1="310.45" y1="421.52" x2="313.35" y2="421.52" stroke="#111" stroke-width="0.8"/>
<rect x="310.9" y="400.48" width="2" height="10.28" fill="url(#fadeup)"/>
<rect x="310.9" y="429.36" width="2" height="16.12" fill="url(#fadedn)"/>
<path d="M324.95,444.88 C325.02,444.88 325.11,444.95 325.18,443.42 C325.24,441.89 325.12,436.94 325.38,434.66 C325.64,432.38 326.3,429.99 326.91,428.24 C327.52,426.48 328.88,424.53 329.43,422.98 C329.98,421.43 330.63,419.4 330.55,417.87 C330.47,416.34 329.46,414.36 328.87,412.76 C328.28,411.16 327.18,408.96 326.63,407.21 C326.08,405.46 325.43,403.64 325.18,401.08 C324.92,398.52 325.02,390.13 324.95,390.13 C324.88,390.13 324.98,398.52 324.72,401.08 C324.47,403.64 323.82,405.46 323.27,407.21 C322.72,408.96 321.62,411.16 321.03,412.76 C320.44,414.36 319.43,416.34 319.35,417.87 C319.27,419.4 319.92,421.43 320.47,422.98 C321.02,424.53 322.38,426.48 322.99,428.24 C323.6,429.99 324.26,432.38 324.52,434.66 C324.78,436.94 324.66,441.89 324.72,443.42 C324.79,444.95 324.88,444.88 324.95,444.88Z" fill="#00BA38" fill-opacity="0.8" stroke="#2b2b2b" stroke-width="0.5"/>
<line x1="324.95" y1="444.58" x2="324.95" y2="390.43" stroke="#333" stroke-width="0.35"/>
<rect x="323.5" y="414.22" width="2.9" height="7.3" fill="#00BA38" stroke="#1a1a1a" stroke-width="0.6"/>
<line x1="323.5" y1="417.87" x2="326.4" y2="417.87" stroke="#111" stroke-width="0.8"/>
<rect x="323.95" y="389.53" width="2" height="15.68" fill="url(#fadeup)"/>
<rect x="323.95" y="430.24" width="2" height="15.24" fill="url(#fadedn)"/>
<path d="M338,444.88 C338.29,444.88 338.69,444.52 338.98,443.42 C339.27,442.32 339.6,438.89 339.96,437.58 C340.32,436.27 341.32,435.54 341.36,434.66 C341.4,433.78 340.07,432.62 340.24,431.74 C340.41,430.86 342.31,429.7 342.48,428.82 C342.65,427.94 341.19,426.84 341.36,425.9 C341.53,424.96 343.52,423.53 343.6,422.54 C343.68,421.56 342.05,420.25 341.92,419.33 C341.79,418.41 343.01,417.4 342.76,416.41 C342.51,415.42 340.86,413.96 340.24,412.76 C339.62,411.56 338.95,410.48 338.62,408.38 C338.28,406.28 338.19,398.74 338,398.74 C337.81,398.74 337.72,406.28 337.38,408.38 C337.05,410.48 336.38,411.56 335.76,412.76 C335.14,413.96 333.49,415.42 333.24,416.41 C332.99,417.4 334.21,418.41 334.08,419.33 C333.95,420.25 332.32,421.56 332.4,422.54 C332.48,423.53 334.47,424.96 334.64,425.9 C334.81,426.84 333.35,427.94 333.52,428.82 C333.69,429.7 335.59,430.86 335.76,431.74 C335.93,432.62 334.6,433.78 334.64,434.66 C334.68,435.54 335.68,436.27 336.04,437.58 C336.4,438.89 336.73,442.32 337.02,443.42 C337.31,444.52 337.71,444.88 338,444.88Z" fill="#00BA38" fill-opacity="0.8" stroke="#2b2b2b" stroke-width="0.5"/>
<line x1="338" y1="444.58" x2="338" y2="399.04" stroke="#333" stroke-width="0.35"/>
<rect x="336.55" y="417.87" width="2.9" height="8.47" fill="#00BA38" stroke="#1a1a1a" stroke-width="0.6"/>
<line x1="336.55" y1="422.25" x2="339.45" y2="422.25" stroke="#111" stroke-width="0.8"/>
<rect x="337" y="398.14" width="2" height="12.62" fill="url(#fadeup)"/>
<rect x="28.5" y="452.3" width="93.6" height="8.9" fill="#d9d9d9" stroke="#333" stroke-width="0.6"/>
<text x="75.3" y="458.9" font-size="6.9" font-weight="bold" text-anchor="middle" fill="#1a1a1a" stroke="#1a1a1a" stroke-width="0.2">M1</text>
<rect x="28.5" y="461.2" width="93.6" height="70.4" fill="none" stroke="#b3b3b3" stroke-width="0.6"/>
<line x1="28.5" y1="461.2" x2="28.5" y2="531.9" stroke="#2e2e2e" stroke-width="0.75"/>
<line x1="28.2" y1="531.6" x2="122.1" y2="531.6" stroke="#2e2e2e" stroke-width="0.75"/>
<line x1="26.2" y1="522.6" x2="28.5" y2="522.6" stroke="#2e2e2e" stroke-width="0.6"/>
<text x="23.3" y="525.05" font-size="6.9" text-anchor="end" fill="#4d4d4d" stroke="#4d4d4d" stroke-width="0.2">0.0</text>
<line x1="26.2" y1="506.3" x2="28.5" y2="506.3" stroke="#2e2e2e" stroke-width="0.6"/>
<text x="23.3" y="508.75" font-size="6.9" text-anchor="end" fill="#4d4d4d" stroke="#4d4d4d" stroke-width="0.2">0.2</text>
<line x1="26.2" y1="490" x2="28.5" y2="490" stroke="#2e2e2e" stroke-width="0.6"/>
<text x="23.3" y="492.45" font-size="6.9" text-anchor="end" fill="#4d4d4d" stroke="#4d4d4d" stroke-width="0.2">0.4</text>
<line x1="26.2" y1="473.7" x2="28.5" y2="473.7" stroke="#2e2e2e" stroke-width="0.6"/>
<text x="23.3" y="476.15" font-size="6.9" text-anchor="end" fill="#4d4d4d" stroke="#4d4d4d" stroke-width="0.2">0.6</text>
<path d="M35.9,527.49 C36.32,527.49 36.71,526.96 37.3,525.86 C37.89,524.76 39.19,522.07 39.82,520.15 C40.45,518.24 41.46,515.14 41.5,513.06 C41.54,510.99 40.65,508.17 40.1,506.3 C39.55,504.43 38.4,502.06 37.86,500.6 C37.32,499.13 36.8,498.11 36.52,496.52 C36.24,494.93 36.1,493.55 36.01,490 C35.91,486.45 35.93,472.89 35.9,472.89 C35.87,472.89 35.89,486.45 35.79,490 C35.7,493.55 35.56,494.93 35.28,496.52 C35,498.11 34.48,499.13 33.94,500.6 C33.4,502.06 32.25,504.43 31.7,506.3 C31.15,508.17 30.26,510.99 30.3,513.06 C30.34,515.14 31.35,518.24 31.98,520.15 C32.61,522.07 33.91,524.76 34.5,525.86 C35.09,526.96 35.48,527.49 35.9,527.49Z" fill="#00BFC4" fill-opacity="0.8" stroke="#2b2b2b" stroke-width="0.5"/>
<line x1="35.9" y1="527.19" x2="35.9" y2="473.19" stroke="#333" stroke-width="0.35"/>
<rect x="34.45" y="507.12" width="2.9" height="8.97" fill="#00BFC4" stroke="#1a1a1a" stroke-width="0.6"/>
<line x1="34.45" y1="511.19" x2="37.35" y2="511.19" stroke="#111" stroke-width="0.8"/>
<rect x="34.9" y="472.29" width="2" height="26.31" fill="url(#fadeup)"/>
<path d="M48.95,525.86 C49.37,525.86 49.76,525.78 50.35,525.05 C50.94,524.31 52.24,522.22 52.87,520.97 C53.5,519.72 54.51,518.2 54.55,516.73 C54.59,515.26 53.7,512.75 53.15,511.19 C52.6,509.63 51.48,507.77 50.91,506.3 C50.34,504.83 49.66,503.24 49.38,501.41 C49.1,499.58 49.12,497.8 49.06,494.08 C48.99,490.35 48.98,476.55 48.95,476.55 C48.92,476.55 48.91,490.35 48.84,494.08 C48.78,497.8 48.8,499.58 48.52,501.41 C48.24,503.24 47.56,504.83 46.99,506.3 C46.42,507.77 45.3,509.63 44.75,511.19 C44.2,512.75 43.31,515.26 43.35,516.73 C43.39,518.2 44.4,519.72 45.03,520.97 C45.66,522.22 46.96,524.31 47.55,525.05 C48.14,525.78 48.53,525.86 48.95,525.86Z" fill="#00BFC4" fill-opacity="0.8" stroke="#2b2b2b" stroke-width="0.5"/>
<line x1="48.95" y1="525.56" x2="48.95" y2="476.85" stroke="#333" stroke-width="0.35"/>
<rect x="47.5" y="510.78" width="2.9" height="8.23" fill="#00BFC4" stroke="#1a1a1a" stroke-width="0.6"/>
<line x1="47.5" y1="515.26" x2="50.4" y2="515.26" stroke="#111" stroke-width="0.8"/>
<rect x="47.95" y="475.95" width="2" height="28.35" fill="url(#fadeup)"/>
<path d="M62,522.6 C62.03,522.6 61.96,522.03 62.11,520.97 C62.25,519.91 62.49,517.1 62.98,515.51 C63.47,513.92 64.67,512.37 65.36,510.38 C66.05,508.38 67.52,504.43 67.6,502.23 C67.68,500.02 66.47,497.54 65.92,495.71 C65.37,493.87 64.48,491.59 63.96,490 C63.44,488.41 62.71,486.58 62.43,485.11 C62.15,483.64 62.17,481.81 62.11,480.22 C62.04,478.63 62.03,474.52 62,474.52 C61.97,474.52 61.96,478.63 61.89,480.22 C61.83,481.81 61.85,483.64 61.57,485.11 C61.29,486.58 60.56,488.41 60.04,490 C59.52,491.59 58.63,493.87 58.08,495.71 C57.53,497.54 56.32,500.02 56.4,502.23 C56.48,504.43 57.95,508.38 58.64,510.38 C59.33,512.37 60.53,513.92 61.02,515.51 C61.51,517.1 61.75,519.91 61.89,520.97 C62.04,522.03 61.97,522.6 62,522.6Z" fill="#00BFC4" fill-opacity="0.8" stroke="#2b2b2b" stroke-width="0.5"/>
<line x1="62" y1="522.3" x2="62" y2="474.82" stroke="#333" stroke-width="0.35"/>
<rect x="60.55" y="498.15" width="2.9" height="9.78" fill="#00BFC4" stroke="#1a1a1a" stroke-width="0.6"/>
<line x1="60.55" y1="503.04" x2="63.45" y2="503.04" stroke="#111" stroke-width="0.8"/>
<rect x="61" y="473.92" width="2" height="14.08" fill="url(#fadeup)"/>
<rect x="61" y="517.51" width="2" height="5.69" fill="url(#fadedn)"/>
<path d="M75.05,525.86 C75.34,525.86 75.61,525.9 76.03,525.05 C76.45,524.19 77.28,521.74 77.85,520.15 C78.42,518.57 79.43,516.04 79.81,514.45 C80.19,512.86 80.5,511.03 80.37,509.56 C80.24,508.09 79.56,506.26 78.97,504.67 C78.38,503.08 77,500.68 76.45,498.97 C75.9,497.25 75.49,497.29 75.28,493.26 C75.07,489.23 75.12,472.07 75.05,472.07 C74.98,472.07 75.03,489.23 74.82,493.26 C74.61,497.29 74.2,497.25 73.65,498.97 C73.1,500.68 71.72,503.08 71.13,504.67 C70.54,506.26 69.86,508.09 69.73,509.56 C69.6,511.03 69.91,512.86 70.29,514.45 C70.67,516.04 71.68,518.57 72.25,520.15 C72.82,521.74 73.65,524.19 74.07,525.05 C74.49,525.9 74.76,525.86 75.05,525.86Z" fill="#00BFC4" fill-opacity="0.8" stroke="#2b2b2b" stroke-width="0.5"/>
<line x1="75.05" y1="525.56" x2="75.05" y2="472.37" stroke="#333" stroke-width="0.35"/>
<rect x="73.6" y="506.3" width="2.9" height="8.15" fill="#00BFC4" stroke="#1a1a1a" stroke-width="0.6"/>
<line x1="73.6" y1="510.38" x2="76.5" y2="510.38" stroke="#111" stroke-width="0.8"/>
<rect x="74.05" y="471.47" width="2" height="25.5" fill="url(#fadeup)"/>
<path d="M88.1,527.82 C88.52,527.82 88.91,527.7 89.5,526.68 C90.09,525.65 91.43,522.64 92.02,520.97 C92.61,519.3 93.34,517.1 93.42,515.51 C93.5,513.92 93,512 92.58,510.38 C92.16,508.75 91.2,506.38 90.62,504.67 C90.04,502.96 89.08,500.92 88.72,498.97 C88.36,497.01 88.3,495.54 88.21,491.63 C88.11,487.72 88.13,472.89 88.1,472.89 C88.07,472.89 88.09,487.72 87.99,491.63 C87.9,495.54 87.84,497.01 87.48,498.97 C87.12,500.92 86.16,502.96 85.58,504.67 C85,506.38 84.04,508.75 83.62,510.38 C83.2,512 82.7,513.92 82.78,515.51 C82.86,517.1 83.59,519.3 84.18,520.97 C84.77,522.64 86.11,525.65 86.7,526.68 C87.29,527.7 87.68,527.82 88.1,527.82Z" fill="#00BFC4" fill-opacity="0.8" stroke="#2b2b2b" stroke-width="0.5"/>
<line x1="88.1" y1="527.52" x2="88.1" y2="473.19" stroke="#333" stroke-width="0.35"/>
<rect x="86.65" y="508.42" width="2.9" height="9.86" fill="#00BFC4" stroke="#1a1a1a" stroke-width="0.6"/>
<line x1="86.65" y1="513.63" x2="89.55" y2="513.63" stroke="#111" stroke-width="0.8"/>
<rect x="87.1" y="472.29" width="2" height="30.38" fill="url(#fadeup)"/>
<path d="M101.15,527.49 C101.57,527.49 101.96,527.65 102.55,526.68 C103.14,525.7 104.44,522.8 105.07,520.97 C105.7,519.14 106.67,516.41 106.75,514.45 C106.83,512.49 106.09,509.89 105.63,507.93 C105.17,505.97 104.25,503.49 103.67,501.41 C103.09,499.33 102.13,496.03 101.77,494.08 C101.41,492.12 101.35,491.55 101.26,488.37 C101.16,485.19 101.18,472.89 101.15,472.89 C101.12,472.89 101.14,485.19 101.04,488.37 C100.95,491.55 100.89,492.12 100.53,494.08 C100.17,496.03 99.21,499.33 98.63,501.41 C98.05,503.49 97.13,505.97 96.67,507.93 C96.21,509.89 95.47,512.49 95.55,514.45 C95.63,516.41 96.6,519.14 97.23,520.97 C97.86,522.8 99.16,525.7 99.75,526.68 C100.34,527.65 100.73,527.49 101.15,527.49Z" fill="#00BFC4" fill-opacity="0.8" stroke="#2b2b2b" stroke-width="0.5"/>
<line x1="101.15" y1="527.19" x2="101.15" y2="473.19" stroke="#333" stroke-width="0.35"/>
<rect x="99.7" y="506.3" width="2.9" height="11.57" fill="#00BFC4" stroke="#1a1a1a" stroke-width="0.6"/>
<line x1="99.7" y1="512.41" x2="102.6" y2="512.41" stroke="#111" stroke-width="0.8"/>
<rect x="100.15" y="472.29" width="2" height="27.12" fill="url(#fadeup)"/>
<path d="M114.2,525.86 C114.79,525.86 115.57,525.41 116.16,525.05 C116.75,524.68 118.08,523.78 118.12,523.42 C118.16,523.05 116.36,522.91 116.44,522.6 C116.52,522.29 118.55,521.74 118.68,521.38 C118.81,521.01 117.32,520.52 117.28,520.15 C117.24,519.79 118.53,519.3 118.4,518.93 C118.27,518.57 116.65,518.14 116.44,517.71 C116.23,517.28 117.13,516.57 117,516.08 C116.87,515.59 115.96,515.31 115.6,514.45 C115.24,513.59 114.83,511.84 114.63,510.38 C114.44,508.91 114.37,508.22 114.31,504.67 C114.24,501.12 114.23,486.74 114.2,486.74 C114.17,486.74 114.16,501.12 114.09,504.67 C114.03,508.22 113.96,508.91 113.77,510.38 C113.57,511.84 113.16,513.59 112.8,514.45 C112.44,515.31 111.53,515.59 111.4,516.08 C111.27,516.57 112.17,517.28 111.96,517.71 C111.75,518.14 110.13,518.57 110,518.93 C109.87,519.3 111.16,519.79 111.12,520.15 C111.08,520.52 109.59,521.01 109.72,521.38 C109.85,521.74 111.88,522.29 111.96,522.6 C112.04,522.91 110.24,523.05 110.28,523.42 C110.32,523.78 111.65,524.68 112.24,525.05 C112.83,525.41 113.61,525.86 114.2,525.86Z" fill="#00BFC4" fill-opacity="0.8" stroke="#2b2b2b" stroke-width="0.5"/>
<line x1="114.2" y1="525.56" x2="114.2" y2="487.04" stroke="#333" stroke-width="0.35"/>
<rect x="112.75" y="515.02" width="2.9" height="7.09" fill="#00BFC4" stroke="#1a1a1a" stroke-width="0.6"/>
<line x1="112.75" y1="518.52" x2="115.65" y2="518.52" stroke="#111" stroke-width="0.8"/>
<rect x="113.2" y="486.14" width="2" height="26.31" fill="url(#fadeup)"/>
<line x1="35.9" y1="531.6" x2="35.9" y2="533.8" stroke="#333" stroke-width="0.5"/>
<text x="35.45" y="535.2" font-size="6.9" text-anchor="end" fill="#333" stroke="#333" stroke-width="0.2" transform="rotate(-45 35.45 535.2)" dominant-baseline="hanging">C3+ Macro</text>
<line x1="48.95" y1="531.6" x2="48.95" y2="533.8" stroke="#333" stroke-width="0.5"/>
<text x="48.5" y="535.2" font-size="6.9" text-anchor="end" fill="#333" stroke="#333" stroke-width="0.2" transform="rotate(-45 48.5 535.2)" dominant-baseline="hanging">CD163L1+ Macro</text>
<line x1="62" y1="531.6" x2="62" y2="533.8" stroke="#333" stroke-width="0.5"/>
<text x="61.55" y="535.2" font-size="6.9" text-anchor="end" fill="#333" stroke="#333" stroke-width="0.2" transform="rotate(-45 61.55 535.2)" dominant-baseline="hanging">CXCL5+ Macro</text>
<line x1="75.05" y1="531.6" x2="75.05" y2="533.8" stroke="#333" stroke-width="0.5"/>
<text x="74.6" y="535.2" font-size="6.9" text-anchor="end" fill="#333" stroke="#333" stroke-width="0.2" transform="rotate(-45 74.6 535.2)" dominant-baseline="hanging">FCN1+ Mono</text>
<line x1="88.1" y1="531.6" x2="88.1" y2="533.8" stroke="#333" stroke-width="0.5"/>
<text x="87.65" y="535.2" font-size="6.9" text-anchor="end" fill="#333" stroke="#333" stroke-width="0.2" transform="rotate(-45 87.65 535.2)" dominant-baseline="hanging">PLK1+ Macro</text>
<line x1="101.15" y1="531.6" x2="101.15" y2="533.8" stroke="#333" stroke-width="0.5"/>
<text x="100.7" y="535.2" font-size="6.9" text-anchor="end" fill="#333" stroke="#333" stroke-width="0.2" transform="rotate(-45 100.7 535.2)" dominant-baseline="hanging">SPP1+ Macro</text>
<line x1="114.2" y1="531.6" x2="114.2" y2="533.8" stroke="#333" stroke-width="0.5"/>
<text x="113.75" y="535.2" font-size="6.9" text-anchor="end" fill="#333" stroke="#333" stroke-width="0.2" transform="rotate(-45 113.75 535.2)" dominant-baseline="hanging">TRPM2+ Macro</text>
<rect x="140.2" y="452.3" width="94.1" height="8.9" fill="#d9d9d9" stroke="#333" stroke-width="0.6"/>
<text x="187.25" y="458.9" font-size="6.9" font-weight="bold" text-anchor="middle" fill="#1a1a1a" stroke="#1a1a1a" stroke-width="0.2">M2</text>
<rect x="140.2" y="461.2" width="94.1" height="70.4" fill="none" stroke="#b3b3b3" stroke-width="0.6"/>
<line x1="140.2" y1="461.2" x2="140.2" y2="531.9" stroke="#2e2e2e" stroke-width="0.75"/>
<line x1="139.9" y1="531.6" x2="234.3" y2="531.6" stroke="#2e2e2e" stroke-width="0.75"/>
<line x1="137.9" y1="522.2" x2="140.2" y2="522.2" stroke="#2e2e2e" stroke-width="0.6"/>
<text x="135" y="524.65" font-size="6.9" text-anchor="end" fill="#4d4d4d" stroke="#4d4d4d" stroke-width="0.2">0.0</text>
<line x1="137.9" y1="509.7" x2="140.2" y2="509.7" stroke="#2e2e2e" stroke-width="0.6"/>
<text x="135" y="512.15" font-size="6.9" text-anchor="end" fill="#4d4d4d" stroke="#4d4d4d" stroke-width="0.2">0.1</text>
<line x1="137.9" y1="497.2" x2="140.2" y2="497.2" stroke="#2e2e2e" stroke-width="0.6"/>
<text x="135" y="499.65" font-size="6.9" text-anchor="end" fill="#4d4d4d" stroke="#4d4d4d" stroke-width="0.2">0.2</text>
<line x1="137.9" y1="484.7" x2="140.2" y2="484.7" stroke="#2e2e2e" stroke-width="0.6"/>
<text x="135" y="487.15" font-size="6.9" text-anchor="end" fill="#4d4d4d" stroke="#4d4d4d" stroke-width="0.2">0.3</text>
<line x1="137.9" y1="472.2" x2="140.2" y2="472.2" stroke="#2e2e2e" stroke-width="0.6"/>
<text x="135" y="474.65" font-size="6.9" text-anchor="end" fill="#4d4d4d" stroke="#4d4d4d" stroke-width="0.2">0.4</text>
<path d="M147.6,520.95 C147.89,520.95 148.16,519.76 148.58,518.45 C149,517.14 149.83,514.08 150.4,512.2 C150.97,510.33 151.94,507.45 152.36,505.95 C152.78,504.45 153.33,503.51 153.2,502.2 C153.07,500.89 152.15,498.7 151.52,497.2 C150.89,495.7 149.55,493.51 149,492.2 C148.45,490.89 148.04,489.58 147.83,488.45 C147.62,487.33 147.67,484.7 147.6,484.7 C147.53,484.7 147.58,487.33 147.37,488.45 C147.16,489.58 146.75,490.89 146.2,492.2 C145.65,493.51 144.31,495.7 143.68,497.2 C143.05,498.7 142.13,500.89 142,502.2 C141.87,503.51 142.42,504.45 142.84,505.95 C143.26,507.45 144.23,510.33 144.8,512.2 C145.37,514.08 146.2,517.14 146.62,518.45 C147.04,519.76 147.31,520.95 147.6,520.95Z" fill="#619CFF" fill-opacity="0.8" stroke="#2b2b2b" stroke-width="0.5"/>
<line x1="147.6" y1="520.65" x2="147.6" y2="485" stroke="#333" stroke-width="0.35"/>
<rect x="146.15" y="499.08" width="2.9" height="6.25" fill="#619CFF" stroke="#1a1a1a" stroke-width="0.6"/>
<line x1="146.15" y1="502.2" x2="149.05" y2="502.2" stroke="#111" stroke-width="0.8"/>
<rect x="146.6" y="484.1" width="2" height="6.1" fill="url(#fadeup)"/>
<path d="M160.65,518.95 C160.84,518.95 160.97,518.4 161.27,517.2 C161.56,516 162.07,512.83 162.61,510.95 C163.15,509.08 164.3,506.48 164.85,504.7 C165.4,502.92 166.29,500.76 166.25,499.08 C166.21,497.39 165.16,495.04 164.57,493.45 C163.98,491.86 162.87,489.95 162.33,488.45 C161.79,486.95 161.23,485.7 160.97,483.45 C160.72,481.2 160.75,473.45 160.65,473.45 C160.55,473.45 160.58,481.2 160.33,483.45 C160.07,485.7 159.51,486.95 158.97,488.45 C158.43,489.95 157.32,491.86 156.73,493.45 C156.14,495.04 155.09,497.39 155.05,499.08 C155.01,500.76 155.9,502.92 156.45,504.7 C157,506.48 158.15,509.08 158.69,510.95 C159.23,512.83 159.74,516 160.03,517.2 C160.33,518.4 160.46,518.95 160.65,518.95Z" fill="#619CFF" fill-opacity="0.8" stroke="#2b2b2b" stroke-width="0.5"/>
<line x1="160.65" y1="518.65" x2="160.65" y2="473.75" stroke="#333" stroke-width="0.35"/>
<rect x="159.2" y="495.95" width="2.9" height="6.88" fill="#619CFF" stroke="#1a1a1a" stroke-width="0.6"/>
<line x1="159.2" y1="499.7" x2="162.1" y2="499.7" stroke="#111" stroke-width="0.8"/>
<rect x="159.65" y="472.85" width="2" height="13.6" fill="url(#fadeup)"/>
<rect x="159.65" y="512.95" width="2" height="6.6" fill="url(#fadedn)"/>
<path d="M173.7,523.83 C173.89,523.83 174.07,523.38 174.32,522.2 C174.57,521.02 174.88,518.01 175.38,515.95 C175.88,513.89 177.03,510.85 177.62,508.45 C178.21,506.05 179.26,502.2 179.3,499.95 C179.34,497.7 178.49,495.36 177.9,493.45 C177.31,491.54 175.96,488.89 175.38,487.2 C174.8,485.51 174.28,484.26 174.02,482.2 C173.77,480.14 173.8,473.45 173.7,473.45 C173.6,473.45 173.63,480.14 173.38,482.2 C173.12,484.26 172.6,485.51 172.02,487.2 C171.44,488.89 170.09,491.54 169.5,493.45 C168.91,495.36 168.06,497.7 168.1,499.95 C168.14,502.2 169.19,506.05 169.78,508.45 C170.37,510.85 171.52,513.89 172.02,515.95 C172.52,518.01 172.83,521.02 173.08,522.2 C173.33,523.38 173.51,523.83 173.7,523.83Z" fill="#619CFF" fill-opacity="0.8" stroke="#2b2b2b" stroke-width="0.5"/>
<line x1="173.7" y1="523.53" x2="173.7" y2="473.75" stroke="#333" stroke-width="0.35"/>
<rect x="172.25" y="495.95" width="2.9" height="10" fill="#619CFF" stroke="#1a1a1a" stroke-width="0.6"/>
<line x1="172.25" y1="500.95" x2="175.15" y2="500.95" stroke="#111" stroke-width="0.8"/>
<rect x="172.7" y="472.85" width="2" height="12.35" fill="url(#fadeup)"/>
<rect x="172.7" y="517.95" width="2" height="6.48" fill="url(#fadedn)"/>
<path d="M186.75,524.7 C186.85,524.7 186.78,524.39 187.07,523.45 C187.37,522.51 188.09,520.14 188.71,518.45 C189.33,516.76 190.68,513.83 191.23,512.2 C191.78,510.57 192.43,508.89 192.35,507.58 C192.27,506.26 191.26,504.82 190.67,503.45 C190.08,502.08 188.98,499.76 188.43,498.45 C187.88,497.14 187.23,496.2 186.98,494.7 C186.72,493.2 186.82,488.45 186.75,488.45 C186.68,488.45 186.78,493.2 186.52,494.7 C186.27,496.2 185.62,497.14 185.07,498.45 C184.52,499.76 183.42,502.08 182.83,503.45 C182.24,504.82 181.23,506.26 181.15,507.58 C181.07,508.89 181.72,510.57 182.27,512.2 C182.82,513.83 184.17,516.76 184.79,518.45 C185.41,520.14 186.13,522.51 186.43,523.45 C186.72,524.39 186.65,524.7 186.75,524.7Z" fill="#619CFF" fill-opacity="0.8" stroke="#2b2b2b" stroke-width="0.5"/>
<line x1="186.75" y1="524.4" x2="186.75" y2="488.75" stroke="#333" stroke-width="0.35"/>
<rect x="185.3" y="503.83" width="2.9" height="7.62" fill="#619CFF" stroke="#1a1a1a" stroke-width="0.6"/>
<line x1="185.3" y1="507.58" x2="188.2" y2="507.58" stroke="#111" stroke-width="0.8"/>
<rect x="185.75" y="487.85" width="2" height="8.6" fill="url(#fadeup)"/>
<rect x="185.75" y="520.45" width="2" height="4.85" fill="url(#fadedn)"/>
<path d="M199.8,528.45 C199.9,528.45 199.83,527.45 200.12,525.95 C200.42,524.45 201.14,520.89 201.76,518.45 C202.38,516.01 203.73,512.14 204.28,509.7 C204.83,507.26 205.48,504.26 205.4,502.2 C205.32,500.14 204.31,497.83 203.72,495.95 C203.13,494.08 202.03,491.39 201.48,489.7 C200.93,488.01 200.28,486.71 200.03,484.7 C199.77,482.69 199.87,476.33 199.8,476.33 C199.73,476.33 199.83,482.69 199.57,484.7 C199.32,486.71 198.67,488.01 198.12,489.7 C197.57,491.39 196.47,494.08 195.88,495.95 C195.29,497.83 194.28,500.14 194.2,502.2 C194.12,504.26 194.77,507.26 195.32,509.7 C195.87,512.14 197.22,516.01 197.84,518.45 C198.46,520.89 199.18,524.45 199.48,525.95 C199.77,527.45 199.7,528.45 199.8,528.45Z" fill="#619CFF" fill-opacity="0.8" stroke="#2b2b2b" stroke-width="0.5"/>
<line x1="199.8" y1="528.15" x2="199.8" y2="476.63" stroke="#333" stroke-width="0.35"/>
<rect x="198.35" y="497.2" width="2.9" height="10.38" fill="#619CFF" stroke="#1a1a1a" stroke-width="0.6"/>
<line x1="198.35" y1="502.2" x2="201.25" y2="502.2" stroke="#111" stroke-width="0.8"/>
<rect x="198.8" y="475.73" width="2" height="11.98" fill="url(#fadeup)"/>
<rect x="198.8" y="520.45" width="2" height="8.6" fill="url(#fadedn)"/>
<path d="M212.85,515.2 C213.04,515.2 213.09,513.78 213.47,512.2 C213.85,510.63 214.75,506.76 215.37,504.7 C215.99,502.64 217.15,499.86 217.61,498.45 C218.07,497.04 218.58,496.45 218.45,495.33 C218.32,494.2 217.36,492.36 216.77,490.95 C216.18,489.54 215.08,487.45 214.53,485.95 C213.98,484.45 213.33,483.01 213.08,480.95 C212.82,478.89 212.92,472.2 212.85,472.2 C212.78,472.2 212.88,478.89 212.62,480.95 C212.37,483.01 211.72,484.45 211.17,485.95 C210.62,487.45 209.52,489.54 208.93,490.95 C208.34,492.36 207.38,494.2 207.25,495.33 C207.12,496.45 207.63,497.04 208.09,498.45 C208.55,499.86 209.71,502.64 210.33,504.7 C210.95,506.76 211.85,510.63 212.23,512.2 C212.61,513.78 212.66,515.2 212.85,515.2Z" fill="#619CFF" fill-opacity="0.8" stroke="#2b2b2b" stroke-width="0.5"/>
<line x1="212.85" y1="514.9" x2="212.85" y2="472.5" stroke="#333" stroke-width="0.35"/>
<rect x="211.4" y="492.2" width="2.9" height="7.5" fill="#619CFF" stroke="#1a1a1a" stroke-width="0.6"/>
<line x1="211.4" y1="495.95" x2="214.3" y2="495.95" stroke="#111" stroke-width="0.8"/>
<rect x="211.85" y="471.6" width="2" height="12.35" fill="url(#fadeup)"/>
<rect x="211.85" y="506.7" width="2" height="9.1" fill="url(#fadedn)"/>
<path d="M225.9,526.58 C226,526.58 225.85,525.92 226.22,524.7 C226.6,523.48 227.8,520.33 228.42,518.45 C229.04,516.58 229.92,513.96 230.38,512.2 C230.84,510.44 231.63,508.39 231.5,506.7 C231.37,505.01 230.17,502.56 229.54,500.95 C228.91,499.34 227.81,497.45 227.3,495.95 C226.79,494.45 226.34,492.83 226.13,490.95 C225.92,489.08 225.97,483.45 225.9,483.45 C225.83,483.45 225.88,489.08 225.67,490.95 C225.46,492.83 225.01,494.45 224.5,495.95 C223.99,497.45 222.89,499.34 222.26,500.95 C221.63,502.56 220.43,505.01 220.3,506.7 C220.17,508.39 220.96,510.44 221.42,512.2 C221.88,513.96 222.76,516.58 223.38,518.45 C224,520.33 225.2,523.48 225.58,524.7 C225.95,525.92 225.8,526.58 225.9,526.58Z" fill="#619CFF" fill-opacity="0.8" stroke="#2b2b2b" stroke-width="0.5"/>
<line x1="225.9" y1="526.28" x2="225.9" y2="483.75" stroke="#333" stroke-width="0.35"/>
<rect x="224.45" y="502.2" width="2.9" height="9.12" fill="#619CFF" stroke="#1a1a1a" stroke-width="0.6"/>
<line x1="224.45" y1="506.58" x2="227.35" y2="506.58" stroke="#111" stroke-width="0.8"/>
<rect x="224.9" y="482.85" width="2" height="11.1" fill="url(#fadeup)"/>
<rect x="224.9" y="520.45" width="2" height="6.73" fill="url(#fadedn)"/>
<line x1="147.6" y1="531.6" x2="147.6" y2="533.8" stroke="#333" stroke-width="0.5"/>
<text x="147.15" y="535.2" font-size="6.9" text-anchor="end" fill="#333" stroke="#333" stroke-width="0.2" transform="rotate(-45 147.15 535.2)" dominant-baseline="hanging">C3+ Macro</text>
<line x1="160.65" y1="531.6" x2="160.65" y2="533.8" stroke="#333" stroke-width="0.5"/>
<text x="160.2" y="535.2" font-size="6.9" text-anchor="end" fill="#333" stroke="#333" stroke-width="0.2" transform="rotate(-45 160.2 535.2)" dominant-baseline="hanging">CD163L1+ Macro</text>
<line x1="173.7" y1="531.6" x2="173.7" y2="533.8" stroke="#333" stroke-width="0.5"/>
<text x="173.25" y="535.2" font-size="6.9" text-anchor="end" fill="#333" stroke="#333" stroke-width="0.2" transform="rotate(-45 173.25 535.2)" dominant-baseline="hanging">CXCL5+ Macro</text>
<line x1="186.75" y1="531.6" x2="186.75" y2="533.8" stroke="#333" stroke-width="0.5"/>
<text x="186.3" y="535.2" font-size="6.9" text-anchor="end" fill="#333" stroke="#333" stroke-width="0.2" transform="rotate(-45 186.3 535.2)" dominant-baseline="hanging">FCN1+ Mono</text>
<line x1="199.8" y1="531.6" x2="199.8" y2="533.8" stroke="#333" stroke-width="0.5"/>
<text x="199.35" y="535.2" font-size="6.9" text-anchor="end" fill="#333" stroke="#333" stroke-width="0.2" transform="rotate(-45 199.35 535.2)" dominant-baseline="hanging">PLK1+ Macro</text>
<line x1="212.85" y1="531.6" x2="212.85" y2="533.8" stroke="#333" stroke-width="0.5"/>
<text x="212.4" y="535.2" font-size="6.9" text-anchor="end" fill="#333" stroke="#333" stroke-width="0.2" transform="rotate(-45 212.4 535.2)" dominant-baseline="hanging">SPP1+ Macro</text>
<line x1="225.9" y1="531.6" x2="225.9" y2="533.8" stroke="#333" stroke-width="0.5"/>
<text x="225.45" y="535.2" font-size="6.9" text-anchor="end" fill="#333" stroke="#333" stroke-width="0.2" transform="rotate(-45 225.45 535.2)" dominant-baseline="hanging">TRPM2+ Macro</text>
<rect x="252.3" y="452.3" width="93.9" height="8.9" fill="#d9d9d9" stroke="#333" stroke-width="0.6"/>
<text x="299.25" y="458.9" font-size="6.9" font-weight="bold" text-anchor="middle" fill="#1a1a1a" stroke="#1a1a1a" stroke-width="0.2">Phagocytosis</text>
<rect x="252.3" y="461.2" width="93.9" height="70.4" fill="none" stroke="#b3b3b3" stroke-width="0.6"/>
<line x1="252.3" y1="461.2" x2="252.3" y2="531.9" stroke="#2e2e2e" stroke-width="0.75"/>
<line x1="252" y1="531.6" x2="346.2" y2="531.6" stroke="#2e2e2e" stroke-width="0.75"/>
<line x1="250" y1="521.8" x2="252.3" y2="521.8" stroke="#2e2e2e" stroke-width="0.6"/>
<text x="247.1" y="524.25" font-size="6.9" text-anchor="end" fill="#4d4d4d" stroke="#4d4d4d" stroke-width="0.2">0.0</text>
<line x1="250" y1="503.5" x2="252.3" y2="503.5" stroke="#2e2e2e" stroke-width="0.6"/>
<text x="247.1" y="505.95" font-size="6.9" text-anchor="end" fill="#4d4d4d" stroke="#4d4d4d" stroke-width="0.2">0.4</text>
<line x1="250" y1="485.2" x2="252.3" y2="485.2" stroke="#2e2e2e" stroke-width="0.6"/>
<text x="247.1" y="487.65" font-size="6.9" text-anchor="end" fill="#4d4d4d" stroke="#4d4d4d" stroke-width="0.2">0.8</text>
<line x1="250" y1="466.9" x2="252.3" y2="466.9" stroke="#2e2e2e" stroke-width="0.6"/>
<text x="247.1" y="469.35" font-size="6.9" text-anchor="end" fill="#4d4d4d" stroke="#4d4d4d" stroke-width="0.2">1.2</text>
<path d="M259.7,525.69 C259.83,525.69 259.99,525.36 260.13,524.09 C260.28,522.82 260.24,518.8 260.68,517.22 C261.12,515.65 262.37,514.59 263.06,513.56 C263.75,512.54 265.34,511.32 265.3,510.36 C265.26,509.4 263.37,508.12 262.78,507.16 C262.19,506.2 261.52,504.85 261.38,503.96 C261.24,503.07 261.76,501.97 261.83,501.21 C261.9,500.46 261.98,499.82 261.83,498.92 C261.68,498.03 261.07,496.64 260.84,495.26 C260.61,493.89 260.46,491.28 260.32,489.77 C260.18,488.27 260.02,487.05 259.93,485.2 C259.83,483.35 259.77,477.42 259.7,477.42 C259.63,477.42 259.57,483.35 259.47,485.2 C259.38,487.05 259.22,488.27 259.08,489.77 C258.94,491.28 258.79,493.89 258.56,495.26 C258.33,496.64 257.72,498.03 257.57,498.92 C257.42,499.82 257.5,500.46 257.57,501.21 C257.64,501.97 258.16,503.07 258.02,503.96 C257.88,504.85 257.21,506.2 256.62,507.16 C256.03,508.12 254.14,509.4 254.1,510.36 C254.06,511.32 255.65,512.54 256.34,513.56 C257.03,514.59 258.28,515.65 258.72,517.22 C259.16,518.8 259.12,522.82 259.27,524.09 C259.41,525.36 259.57,525.69 259.7,525.69Z" fill="#F564E3" fill-opacity="0.8" stroke="#2b2b2b" stroke-width="0.5"/>
<line x1="259.7" y1="525.39" x2="259.7" y2="477.72" stroke="#333" stroke-width="0.35"/>
<rect x="258.25" y="502.13" width="2.9" height="7.32" fill="#F564E3" stroke="#1a1a1a" stroke-width="0.6"/>
<line x1="258.25" y1="508.07" x2="261.15" y2="508.07" stroke="#111" stroke-width="0.8"/>
<rect x="258.7" y="476.82" width="2" height="16.44" fill="url(#fadeup)"/>
<rect x="258.7" y="519.22" width="2" height="7.06" fill="url(#fadedn)"/>
<path d="M272.75,517.68 C272.82,517.68 272.88,514.43 272.98,512.65 C273.07,510.87 273.15,507.5 273.37,505.79 C273.59,504.07 274.29,502.24 274.43,501.21 C274.57,500.18 274.36,499.75 274.32,498.92 C274.28,498.1 273.88,496.68 274.15,495.72 C274.42,494.76 275.48,493.48 276.11,492.52 C276.74,491.56 278.35,490.28 278.35,489.32 C278.35,488.36 276.7,487.08 276.11,486.11 C275.52,485.15 274.84,484.08 274.43,482.91 C274.02,481.75 273.62,479.81 273.37,478.34 C273.12,476.86 272.94,473.08 272.75,473.08 C272.56,473.08 272.38,476.86 272.13,478.34 C271.88,479.81 271.48,481.75 271.07,482.91 C270.66,484.08 269.98,485.15 269.39,486.11 C268.8,487.08 267.15,488.36 267.15,489.32 C267.15,490.28 268.76,491.56 269.39,492.52 C270.02,493.48 271.08,494.76 271.35,495.72 C271.62,496.68 271.22,498.1 271.18,498.92 C271.14,499.75 270.93,500.18 271.07,501.21 C271.21,502.24 271.91,504.07 272.13,505.79 C272.35,507.5 272.43,510.87 272.52,512.65 C272.62,514.43 272.68,517.68 272.75,517.68Z" fill="#F564E3" fill-opacity="0.8" stroke="#2b2b2b" stroke-width="0.5"/>
<line x1="272.75" y1="517.38" x2="272.75" y2="473.38" stroke="#333" stroke-width="0.35"/>
<rect x="271.3" y="488.4" width="2.9" height="7.32" fill="#F564E3" stroke="#1a1a1a" stroke-width="0.6"/>
<line x1="271.3" y1="489.77" x2="274.2" y2="489.77" stroke="#111" stroke-width="0.8"/>
<rect x="271.75" y="472.48" width="2" height="8.44" fill="url(#fadeup)"/>
<rect x="271.75" y="503.21" width="2" height="15.07" fill="url(#fadedn)"/>
<path d="M285.8,527.29 C286.47,527.29 287.2,525.44 288.04,524.54 C288.88,523.65 291.27,522.23 291.4,521.34 C291.53,520.45 289.47,519.56 288.88,518.6 C288.29,517.64 287.82,516.17 287.48,514.94 C287.14,513.7 286.83,512.08 286.63,510.36 C286.42,508.65 286.23,505.9 286.12,503.5 C286.02,501.1 285.98,497.09 285.94,494.35 C285.91,491.6 285.9,488.29 285.87,485.2 C285.85,482.11 285.82,473.76 285.8,473.76 C285.78,473.76 285.75,482.11 285.73,485.2 C285.7,488.29 285.69,491.6 285.66,494.35 C285.62,497.09 285.58,501.1 285.48,503.5 C285.37,505.9 285.18,508.65 284.97,510.36 C284.77,512.08 284.46,513.7 284.12,514.94 C283.78,516.17 283.31,517.64 282.72,518.6 C282.13,519.56 280.07,520.45 280.2,521.34 C280.33,522.23 282.72,523.65 283.56,524.54 C284.4,525.44 285.13,527.29 285.8,527.29Z" fill="#F564E3" fill-opacity="0.8" stroke="#2b2b2b" stroke-width="0.5"/>
<line x1="285.8" y1="526.99" x2="285.8" y2="474.06" stroke="#333" stroke-width="0.35"/>
<rect x="284.35" y="511.28" width="2.9" height="10.06" fill="#F564E3" stroke="#1a1a1a" stroke-width="0.6"/>
<line x1="284.35" y1="520.88" x2="287.25" y2="520.88" stroke="#111" stroke-width="0.8"/>
<rect x="284.8" y="473.16" width="2" height="36.12" fill="url(#fadeup)"/>
<path d="M298.85,523.63 C299.86,523.63 301.37,522.76 302.21,522.49 C303.05,522.21 304.45,522.01 304.45,521.8 C304.45,521.59 302.84,521.39 302.21,521.11 C301.58,520.84 300.63,520.42 300.25,519.97 C299.87,519.52 299.82,518.69 299.68,518.14 C299.53,517.59 299.39,517.48 299.28,516.31 C299.17,515.14 299.02,514.65 298.96,510.36 C298.89,506.07 298.88,487.72 298.85,487.72 C298.82,487.72 298.81,506.07 298.74,510.36 C298.68,514.65 298.53,515.14 298.42,516.31 C298.31,517.48 298.17,517.59 298.02,518.14 C297.88,518.69 297.83,519.52 297.45,519.97 C297.07,520.42 296.12,520.84 295.49,521.11 C294.86,521.39 293.25,521.59 293.25,521.8 C293.25,522.01 294.65,522.21 295.49,522.49 C296.33,522.76 297.84,523.63 298.85,523.63Z" fill="#F564E3" fill-opacity="0.8" stroke="#2b2b2b" stroke-width="0.5"/>
<line x1="298.85" y1="523.33" x2="298.85" y2="488.02" stroke="#333" stroke-width="0.35"/>
<rect x="297.4" y="516.31" width="2.9" height="5.49" fill="#F564E3" stroke="#1a1a1a" stroke-width="0.6"/>
<line x1="297.4" y1="521.8" x2="300.3" y2="521.8" stroke="#111" stroke-width="0.8"/>
<rect x="297.85" y="487.12" width="2" height="27.19" fill="url(#fadeup)"/>
<path d="M311.9,527.75 C312,527.75 312.13,525.32 312.22,524.09 C312.32,522.85 312.36,520.61 312.52,519.51 C312.68,518.41 312.89,517.66 313.3,516.77 C313.71,515.88 314.63,514.53 315.26,513.56 C315.89,512.6 317.46,511.39 317.5,510.36 C317.54,509.33 316,507.73 315.54,506.7 C315.08,505.67 314.59,504.39 314.42,503.5 C314.25,502.61 314.59,501.78 314.42,500.75 C314.25,499.73 313.61,497.94 313.3,496.64 C312.99,495.33 312.51,493.78 312.33,492.06 C312.16,490.35 312.19,487.94 312.13,485.2 C312.06,482.45 311.97,473.76 311.9,473.76 C311.83,473.76 311.74,482.45 311.67,485.2 C311.61,487.94 311.64,490.35 311.47,492.06 C311.29,493.78 310.81,495.33 310.5,496.64 C310.19,497.94 309.55,499.73 309.38,500.75 C309.21,501.78 309.55,502.61 309.38,503.5 C309.21,504.39 308.72,505.67 308.26,506.7 C307.8,507.73 306.26,509.33 306.3,510.36 C306.34,511.39 307.91,512.6 308.54,513.56 C309.17,514.53 310.09,515.88 310.5,516.77 C310.91,517.66 311.12,518.41 311.28,519.51 C311.44,520.61 311.48,522.85 311.58,524.09 C311.67,525.32 311.8,527.75 311.9,527.75Z" fill="#F564E3" fill-opacity="0.8" stroke="#2b2b2b" stroke-width="0.5"/>
<line x1="311.9" y1="527.45" x2="311.9" y2="474.06" stroke="#333" stroke-width="0.35"/>
<rect x="310.45" y="500.3" width="2.9" height="10.06" fill="#F564E3" stroke="#1a1a1a" stroke-width="0.6"/>
<line x1="310.45" y1="506.7" x2="313.35" y2="506.7" stroke="#111" stroke-width="0.8"/>
<rect x="310.9" y="473.16" width="2" height="21.48" fill="url(#fadeup)"/>
<rect x="310.9" y="518.77" width="2" height="9.58" fill="url(#fadedn)"/>
<path d="M324.95,527.29 C325.08,527.29 325.24,523.17 325.38,521.8 C325.53,520.43 325.62,519.24 325.93,518.14 C326.24,517.04 327.11,515.65 327.47,514.48 C327.83,513.31 328.06,511.73 328.31,510.36 C328.56,508.99 328.94,506.63 329.15,505.33 C329.36,504.03 329.58,502.56 329.71,501.67 C329.84,500.78 330.07,500.14 329.99,499.38 C329.91,498.63 329.3,497.53 329.15,496.64 C329,495.75 328.87,494.46 328.98,493.43 C329.09,492.41 329.73,490.63 329.88,489.77 C330.03,488.92 330.23,488.54 329.99,487.72 C329.75,486.89 328.77,485.38 328.31,484.28 C327.85,483.19 327.35,481.49 326.91,480.4 C326.47,479.3 325.68,478.17 325.38,476.96 C325.09,475.76 325.08,472.39 324.95,472.39 C324.82,472.39 324.81,475.76 324.52,476.96 C324.22,478.17 323.43,479.3 322.99,480.4 C322.55,481.49 322.05,483.19 321.59,484.28 C321.13,485.38 320.15,486.89 319.91,487.72 C319.67,488.54 319.87,488.92 320.02,489.77 C320.17,490.63 320.81,492.41 320.92,493.43 C321.03,494.46 320.9,495.75 320.75,496.64 C320.6,497.53 319.99,498.63 319.91,499.38 C319.83,500.14 320.06,500.78 320.19,501.67 C320.32,502.56 320.54,504.03 320.75,505.33 C320.96,506.63 321.34,508.99 321.59,510.36 C321.84,511.73 322.07,513.31 322.43,514.48 C322.79,515.65 323.66,517.04 323.97,518.14 C324.28,519.24 324.37,520.43 324.52,521.8 C324.66,523.17 324.82,527.29 324.95,527.29Z" fill="#F564E3" fill-opacity="0.8" stroke="#2b2b2b" stroke-width="0.5"/>
<line x1="324.95" y1="526.99" x2="324.95" y2="472.69" stroke="#333" stroke-width="0.35"/>
<rect x="323.5" y="491.38" width="2.9" height="13.95" fill="#F564E3" stroke="#1a1a1a" stroke-width="0.6"/>
<line x1="323.5" y1="498.92" x2="326.4" y2="498.92" stroke="#111" stroke-width="0.8"/>
<rect x="323.95" y="471.79" width="2" height="6.61" fill="url(#fadeup)"/>
<rect x="323.95" y="520.14" width="2" height="7.75" fill="url(#fadedn)"/>
<path d="M338,526.38 C338.29,526.38 338.64,524.32 338.98,523.63 C339.32,522.94 340.24,522.35 340.24,521.8 C340.24,521.25 339.22,520.7 338.98,519.97 C338.74,519.24 338.35,517.8 338.62,516.9 C338.89,516.01 340.05,514.89 340.8,514.02 C341.55,513.15 343.6,511.92 343.6,511.09 C343.6,510.27 341.4,509.4 340.8,508.53 C340.2,507.67 339.57,506.08 339.57,505.33 C339.57,504.58 340.53,504.05 340.8,503.5 C341.07,502.95 341.44,502.36 341.36,501.67 C341.28,500.98 340.6,499.89 340.24,498.92 C339.88,497.96 339.27,496.64 338.98,495.26 C338.69,493.89 338.45,491.63 338.32,489.77 C338.2,487.92 338.19,485.42 338.14,482.91 C338.09,480.41 338.04,473.08 338,473.08 C337.96,473.08 337.91,480.41 337.86,482.91 C337.81,485.42 337.8,487.92 337.68,489.77 C337.55,491.63 337.31,493.89 337.02,495.26 C336.73,496.64 336.12,497.96 335.76,498.92 C335.4,499.89 334.72,500.98 334.64,501.67 C334.56,502.36 334.93,502.95 335.2,503.5 C335.47,504.05 336.43,504.58 336.43,505.33 C336.43,506.08 335.8,507.67 335.2,508.53 C334.6,509.4 332.4,510.27 332.4,511.09 C332.4,511.92 334.45,513.15 335.2,514.02 C335.95,514.89 337.11,516.01 337.38,516.9 C337.65,517.8 337.26,519.24 337.02,519.97 C336.78,520.7 335.76,521.25 335.76,521.8 C335.76,522.35 336.68,522.94 337.02,523.63 C337.36,524.32 337.71,526.38 338,526.38Z" fill="#F564E3" fill-opacity="0.8" stroke="#2b2b2b" stroke-width="0.5"/>
<line x1="338" y1="526.08" x2="338" y2="473.38" stroke="#333" stroke-width="0.35"/>
<rect x="336.55" y="501.67" width="2.9" height="8.69" fill="#F564E3" stroke="#1a1a1a" stroke-width="0.6"/>
<line x1="336.55" y1="510.36" x2="339.45" y2="510.36" stroke="#111" stroke-width="0.8"/>
<rect x="337" y="472.48" width="2" height="20.79" fill="url(#fadeup)"/>
<line x1="259.7" y1="531.6" x2="259.7" y2="533.8" stroke="#333" stroke-width="0.5"/>
<text x="259.25" y="535.2" font-size="6.9" text-anchor="end" fill="#333" stroke="#333" stroke-width="0.2" transform="rotate(-45 259.25 535.2)" dominant-baseline="hanging">C3+ Macro</text>
<line x1="272.75" y1="531.6" x2="272.75" y2="533.8" stroke="#333" stroke-width="0.5"/>
<text x="272.3" y="535.2" font-size="6.9" text-anchor="end" fill="#333" stroke="#333" stroke-width="0.2" transform="rotate(-45 272.3 535.2)" dominant-baseline="hanging">CD163L1+ Macro</text>
<line x1="285.8" y1="531.6" x2="285.8" y2="533.8" stroke="#333" stroke-width="0.5"/>
<text x="285.35" y="535.2" font-size="6.9" text-anchor="end" fill="#333" stroke="#333" stroke-width="0.2" transform="rotate(-45 285.35 535.2)" dominant-baseline="hanging">CXCL5+ Macro</text>
<line x1="298.85" y1="531.6" x2="298.85" y2="533.8" stroke="#333" stroke-width="0.5"/>
<text x="298.4" y="535.2" font-size="6.9" text-anchor="end" fill="#333" stroke="#333" stroke-width="0.2" transform="rotate(-45 298.4 535.2)" dominant-baseline="hanging">FCN1+ Mono</text>
<line x1="311.9" y1="531.6" x2="311.9" y2="533.8" stroke="#333" stroke-width="0.5"/>
<text x="311.45" y="535.2" font-size="6.9" text-anchor="end" fill="#333" stroke="#333" stroke-width="0.2" transform="rotate(-45 311.45 535.2)" dominant-baseline="hanging">PLK1+ Macro</text>
<line x1="324.95" y1="531.6" x2="324.95" y2="533.8" stroke="#333" stroke-width="0.5"/>
<text x="324.5" y="535.2" font-size="6.9" text-anchor="end" fill="#333" stroke="#333" stroke-width="0.2" transform="rotate(-45 324.5 535.2)" dominant-baseline="hanging">SPP1+ Macro</text>
<line x1="338" y1="531.6" x2="338" y2="533.8" stroke="#333" stroke-width="0.5"/>
<text x="337.55" y="535.2" font-size="6.9" text-anchor="end" fill="#333" stroke="#333" stroke-width="0.2" transform="rotate(-45 337.55 535.2)" dominant-baseline="hanging">TRPM2+ Macro</text>
<text x="351.8" y="368.5" font-size="13" font-weight="bold" stroke="#000" stroke-width="0.2">h</text>
<text x="358.3" y="457.5" font-size="6.9" text-anchor="middle" fill="#1a1a1a" stroke="#1a1a1a" stroke-width="0.2" transform="rotate(-90 358.3 457.5)">UCell Score</text>
<rect x="381.3" y="369.6" width="73.9" height="8.7" fill="#d9d9d9" stroke="#333" stroke-width="0.6"/>
<text x="418.25" y="376" font-size="6.9" font-weight="bold" text-anchor="middle" fill="#1a1a1a" stroke="#1a1a1a" stroke-width="0.2">Angiogenesis</text>
<rect x="381.3" y="378.3" width="73.9" height="70.7" fill="none" stroke="#b3b3b3" stroke-width="0.6"/>
<line x1="381.3" y1="378.3" x2="381.3" y2="449.3" stroke="#2e2e2e" stroke-width="0.75"/>
<line x1="381" y1="449" x2="455.2" y2="449" stroke="#2e2e2e" stroke-width="0.75"/>
<line x1="379" y1="446.4" x2="381.3" y2="446.4" stroke="#2e2e2e" stroke-width="0.6"/>
<text x="376.1" y="448.85" font-size="6.9" text-anchor="end" fill="#4d4d4d" stroke="#4d4d4d" stroke-width="0.2">0.00</text>
<line x1="379" y1="430.17" x2="381.3" y2="430.17" stroke="#2e2e2e" stroke-width="0.6"/>
<text x="376.1" y="432.62" font-size="6.9" text-anchor="end" fill="#4d4d4d" stroke="#4d4d4d" stroke-width="0.2">0.25</text>
<line x1="379" y1="413.95" x2="381.3" y2="413.95" stroke="#2e2e2e" stroke-width="0.6"/>
<text x="376.1" y="416.4" font-size="6.9" text-anchor="end" fill="#4d4d4d" stroke="#4d4d4d" stroke-width="0.2">0.50</text>
<line x1="379" y1="397.72" x2="381.3" y2="397.72" stroke="#2e2e2e" stroke-width="0.6"/>
<text x="376.1" y="400.17" font-size="6.9" text-anchor="end" fill="#4d4d4d" stroke="#4d4d4d" stroke-width="0.2">0.75</text>
<line x1="379" y1="381.5" x2="381.3" y2="381.5" stroke="#2e2e2e" stroke-width="0.6"/>
<text x="376.1" y="383.95" font-size="6.9" text-anchor="end" fill="#4d4d4d" stroke="#4d4d4d" stroke-width="0.2">1.00</text>
<path d="M387.3,447.7 C387.3,447.21 387.3,445.98 387.3,445.1 C387.3,444.23 387.3,442.83 387.3,441.86 C387.3,440.88 387.3,439.59 387.3,438.61 C387.3,437.64 387.3,436.15 387.3,435.37 C387.3,434.59 387.3,434.3 387.3,433.42 C387.3,432.54 387.3,430.69 387.3,429.53 C387.3,428.36 387.31,425.63 387.3,425.63 C387.29,425.63 387.28,428.36 387.24,429.53 C387.21,430.69 387.22,432.54 387.07,433.42 C386.92,434.3 386.58,434.59 386.25,435.37 C385.92,436.15 385.19,437.64 384.9,438.61 C384.61,439.59 384.25,440.88 384.3,441.86 C384.35,442.83 384.86,444.23 385.2,445.1 C385.54,445.98 386.24,447.21 386.55,447.7 C386.87,448.18 387.19,448.35 387.3,448.35 C387.41,448.35 387.3,448.18 387.3,447.7Z" fill="#84a9ec" stroke="#151515" stroke-width="0.36"/>
<path d="M387.3,448.35 C387.41,448.35 387.74,448.18 388.05,447.7 C388.37,447.21 389.06,445.98 389.4,445.1 C389.74,444.23 390.25,442.83 390.3,441.86 C390.35,440.88 389.99,439.59 389.7,438.61 C389.41,437.64 388.68,436.15 388.35,435.37 C388.02,434.59 387.68,434.3 387.53,433.42 C387.38,432.54 387.39,430.69 387.36,429.53 C387.32,428.36 387.31,425.63 387.3,425.63 C387.29,425.63 387.3,428.36 387.3,429.53 C387.3,430.69 387.3,432.54 387.3,433.42 C387.3,434.3 387.3,434.59 387.3,435.37 C387.3,436.15 387.3,437.64 387.3,438.61 C387.3,439.59 387.3,440.88 387.3,441.86 C387.3,442.83 387.3,444.23 387.3,445.1 C387.3,445.98 387.3,447.21 387.3,447.7 C387.3,448.18 387.19,448.35 387.3,448.35Z" fill="#f0938d" stroke="#151515" stroke-width="0.36"/>
<line x1="385.7" y1="441.21" x2="386.9" y2="441.21" stroke="#111" stroke-width="0.5"/>
<line x1="387.7" y1="441.21" x2="388.9" y2="441.21" stroke="#111" stroke-width="0.5"/>
<circle cx="388.3" cy="441.21" r="0.45" fill="#000"/>
<text x="387.3" y="387.5" font-size="6.9" text-anchor="middle" fill="#111" stroke="#111" stroke-width="0.2">-</text>
<path d="M397.62,447.05 C397.62,446.7 397.62,445.64 397.62,445.1 C397.62,444.57 397.62,444.16 397.62,443.48 C397.62,442.8 397.62,441.44 397.62,440.56 C397.62,439.68 397.62,438.32 397.62,437.64 C397.62,436.96 397.62,436.7 397.62,436.02 C397.62,435.33 397.65,433.1 397.62,433.1 C397.59,433.1 397.58,435.33 397.45,436.02 C397.31,436.7 397.01,436.96 396.72,437.64 C396.43,438.32 395.81,439.68 395.52,440.56 C395.23,441.44 394.79,442.8 394.77,443.48 C394.75,444.16 395.06,444.57 395.37,445.1 C395.69,445.64 396.53,446.7 396.87,447.05 C397.21,447.4 397.51,447.44 397.62,447.44 C397.73,447.44 397.62,447.4 397.62,447.05Z" fill="#84a9ec" stroke="#151515" stroke-width="0.36"/>
<path d="M397.62,447.44 C397.73,447.44 398.03,447.4 398.37,447.05 C398.71,446.7 399.56,445.64 399.87,445.1 C400.19,444.57 400.49,444.16 400.47,443.48 C400.45,442.8 400.01,441.44 399.72,440.56 C399.43,439.68 398.81,438.32 398.52,437.64 C398.23,436.96 397.93,436.7 397.79,436.02 C397.66,435.33 397.65,433.1 397.62,433.1 C397.59,433.1 397.62,435.33 397.62,436.02 C397.62,436.7 397.62,436.96 397.62,437.64 C397.62,438.32 397.62,439.68 397.62,440.56 C397.62,441.44 397.62,442.8 397.62,443.48 C397.62,444.16 397.62,444.57 397.62,445.1 C397.62,445.64 397.62,446.7 397.62,447.05 C397.62,447.4 397.51,447.44 397.62,447.44Z" fill="#f0938d" stroke="#151515" stroke-width="0.36"/>
<line x1="396.02" y1="442.64" x2="397.22" y2="442.64" stroke="#111" stroke-width="0.5"/>
<line x1="398.02" y1="442.64" x2="399.22" y2="442.64" stroke="#111" stroke-width="0.5"/>
<circle cx="398.62" cy="442.64" r="0.45" fill="#000"/>
<text x="397.62" y="387.5" font-size="6.9" text-anchor="middle" fill="#111" stroke="#111" stroke-width="0.2">*</text>
<path d="M407.94,446.4 C407.94,445.68 407.94,443.35 407.94,442.38 C407.94,441.4 407.94,440.77 407.94,439.91 C407.94,439.05 407.94,437.54 407.94,436.66 C407.94,435.79 407.94,434.95 407.94,434.07 C407.94,433.19 407.94,431.78 407.94,430.82 C407.94,429.87 407.94,428.49 407.94,427.71 C407.94,426.93 407.94,426.33 407.94,425.63 C407.94,424.93 407.94,423.78 407.94,423.04 C407.94,422.3 407.95,420.7 407.94,420.7 C407.93,420.7 407.92,422.3 407.88,423.04 C407.85,423.78 407.86,424.93 407.71,425.63 C407.56,426.33 407.22,426.93 406.89,427.71 C406.56,428.49 405.83,429.87 405.54,430.82 C405.25,431.78 404.96,433.19 404.94,434.07 C404.92,434.95 405.16,435.79 405.39,436.66 C405.62,437.54 406.11,439.05 406.44,439.91 C406.77,440.77 407.39,441.4 407.61,442.38 C407.83,443.35 407.83,445.68 407.88,446.4 C407.93,447.12 407.93,447.18 407.94,447.18 C407.95,447.18 407.94,447.12 407.94,446.4Z" fill="#84a9ec" stroke="#151515" stroke-width="0.36"/>
<path d="M407.94,447.18 C407.95,447.18 407.95,447.12 408,446.4 C408.05,445.68 408.05,443.35 408.27,442.38 C408.49,441.4 409.11,440.77 409.44,439.91 C409.77,439.05 410.26,437.54 410.49,436.66 C410.72,435.79 410.96,434.95 410.94,434.07 C410.92,433.19 410.63,431.78 410.34,430.82 C410.05,429.87 409.32,428.49 408.99,427.71 C408.66,426.93 408.32,426.33 408.17,425.63 C408.02,424.93 408.03,423.78 408,423.04 C407.96,422.3 407.95,420.7 407.94,420.7 C407.93,420.7 407.94,422.3 407.94,423.04 C407.94,423.78 407.94,424.93 407.94,425.63 C407.94,426.33 407.94,426.93 407.94,427.71 C407.94,428.49 407.94,429.87 407.94,430.82 C407.94,431.78 407.94,433.19 407.94,434.07 C407.94,434.95 407.94,435.79 407.94,436.66 C407.94,437.54 407.94,439.05 407.94,439.91 C407.94,440.77 407.94,441.4 407.94,442.38 C407.94,443.35 407.94,445.68 407.94,446.4 C407.94,447.12 407.93,447.18 407.94,447.18Z" fill="#f0938d" stroke="#151515" stroke-width="0.36"/>
<line x1="406.34" y1="434.2" x2="407.54" y2="434.2" stroke="#111" stroke-width="0.5"/>
<line x1="408.34" y1="434.2" x2="409.54" y2="434.2" stroke="#111" stroke-width="0.5"/>
<circle cx="408.94" cy="434.2" r="0.45" fill="#000"/>
<text x="407.94" y="387.5" font-size="6.9" text-anchor="middle" fill="#111" stroke="#111" stroke-width="0.2">***</text>
<path d="M418.26,447.05 C418.26,446.46 418.26,444.78 418.26,443.8 C418.26,442.83 418.26,441.44 418.26,440.56 C418.26,439.68 418.26,438.74 418.26,437.96 C418.26,437.18 418.26,436.15 418.26,435.37 C418.26,434.59 418.26,433.45 418.26,432.77 C418.26,432.09 418.26,431.6 418.26,430.82 C418.26,430.05 418.29,427.58 418.26,427.58 C418.23,427.58 418.19,430.05 418.03,430.82 C417.87,431.6 417.49,432.09 417.21,432.77 C416.93,433.45 416.43,434.59 416.16,435.37 C415.89,436.15 415.48,437.18 415.41,437.96 C415.34,438.74 415.51,439.68 415.71,440.56 C415.91,441.44 416.46,442.83 416.76,443.8 C417.06,444.78 417.51,446.46 417.74,447.05 C417.96,447.63 418.18,447.7 418.26,447.7 C418.34,447.7 418.26,447.63 418.26,447.05Z" fill="#84a9ec" stroke="#151515" stroke-width="0.36"/>
<path d="M418.26,447.7 C418.34,447.7 418.56,447.63 418.78,447.05 C419.01,446.46 419.46,444.78 419.76,443.8 C420.06,442.83 420.61,441.44 420.81,440.56 C421.01,439.68 421.18,438.74 421.11,437.96 C421.04,437.18 420.63,436.15 420.36,435.37 C420.09,434.59 419.59,433.45 419.31,432.77 C419.03,432.09 418.65,431.6 418.49,430.82 C418.33,430.05 418.29,427.58 418.26,427.58 C418.23,427.58 418.26,430.05 418.26,430.82 C418.26,431.6 418.26,432.09 418.26,432.77 C418.26,433.45 418.26,434.59 418.26,435.37 C418.26,436.15 418.26,437.18 418.26,437.96 C418.26,438.74 418.26,439.68 418.26,440.56 C418.26,441.44 418.26,442.83 418.26,443.8 C418.26,444.78 418.26,446.46 418.26,447.05 C418.26,447.63 418.18,447.7 418.26,447.7Z" fill="#f0938d" stroke="#151515" stroke-width="0.36"/>
<line x1="416.66" y1="437.96" x2="417.86" y2="437.96" stroke="#111" stroke-width="0.5"/>
<line x1="418.66" y1="437.96" x2="419.86" y2="437.96" stroke="#111" stroke-width="0.5"/>
<circle cx="419.26" cy="437.96" r="0.45" fill="#000"/>
<text x="418.26" y="387.5" font-size="6.9" text-anchor="middle" fill="#111" stroke="#111" stroke-width="0.2">-</text>
<path d="M428.58,447.7 C428.58,447.21 428.58,445.88 428.58,445.1 C428.58,444.32 428.58,443.17 428.58,442.51 C428.58,441.84 428.58,441.27 428.58,440.69 C428.58,440.1 428.58,439.31 428.58,438.61 C428.58,437.91 428.58,436.7 428.58,436.02 C428.58,435.33 428.58,434.85 428.58,434.07 C428.58,433.29 428.61,430.82 428.58,430.82 C428.55,430.82 428.51,433.29 428.35,434.07 C428.19,434.85 427.81,435.33 427.53,436.02 C427.25,436.7 426.75,437.91 426.48,438.61 C426.21,439.31 425.82,440.1 425.73,440.69 C425.64,441.27 425.72,441.84 425.88,442.51 C426.04,443.17 426.45,444.32 426.78,445.1 C427.11,445.88 427.79,447.21 428.06,447.7 C428.33,448.18 428.5,448.35 428.58,448.35 C428.66,448.35 428.58,448.18 428.58,447.7Z" fill="#84a9ec" stroke="#151515" stroke-width="0.36"/>
<path d="M428.58,448.35 C428.66,448.35 428.83,448.18 429.1,447.7 C429.37,447.21 430.05,445.88 430.38,445.1 C430.71,444.32 431.12,443.17 431.28,442.51 C431.44,441.84 431.52,441.27 431.43,440.69 C431.34,440.1 430.95,439.31 430.68,438.61 C430.41,437.91 429.91,436.7 429.63,436.02 C429.35,435.33 428.97,434.85 428.81,434.07 C428.65,433.29 428.61,430.82 428.58,430.82 C428.55,430.82 428.58,433.29 428.58,434.07 C428.58,434.85 428.58,435.33 428.58,436.02 C428.58,436.7 428.58,437.91 428.58,438.61 C428.58,439.31 428.58,440.1 428.58,440.69 C428.58,441.27 428.58,441.84 428.58,442.51 C428.58,443.17 428.58,444.32 428.58,445.1 C428.58,445.88 428.58,447.21 428.58,447.7 C428.58,448.18 428.5,448.35 428.58,448.35Z" fill="#f0938d" stroke="#151515" stroke-width="0.36"/>
<line x1="426.98" y1="441.53" x2="428.18" y2="441.53" stroke="#111" stroke-width="0.5"/>
<line x1="428.98" y1="441.53" x2="430.18" y2="441.53" stroke="#111" stroke-width="0.5"/>
<circle cx="429.58" cy="441.53" r="0.45" fill="#000"/>
<text x="428.58" y="387.5" font-size="6.9" text-anchor="middle" fill="#111" stroke="#111" stroke-width="0.2">-</text>
<path d="M438.9,447.7 C438.9,447.15 438.9,445.33 438.9,444.45 C438.9,443.58 438.9,442.54 438.9,441.86 C438.9,441.18 438.9,440.59 438.9,439.91 C438.9,439.23 438.9,438.09 438.9,437.31 C438.9,436.54 438.9,435.5 438.9,434.72 C438.9,433.94 438.9,433.1 438.9,432.12 C438.9,431.15 438.9,429.59 438.9,428.23 C438.9,426.87 438.91,423.04 438.9,423.04 C438.89,423.04 438.88,426.87 438.84,428.23 C438.81,429.59 438.82,431.15 438.67,432.12 C438.52,433.1 438.13,433.94 437.85,434.72 C437.57,435.5 437.05,436.54 436.8,437.31 C436.55,438.09 436.27,439.23 436.2,439.91 C436.13,440.59 436.17,441.18 436.35,441.86 C436.53,442.54 437.1,443.58 437.4,444.45 C437.7,445.33 438.15,447.15 438.38,447.7 C438.6,448.24 438.82,448.09 438.9,448.09 C438.98,448.09 438.9,448.24 438.9,447.7Z" fill="#84a9ec" stroke="#151515" stroke-width="0.36"/>
<path d="M438.9,448.09 C438.98,448.09 439.2,448.24 439.42,447.7 C439.65,447.15 440.1,445.33 440.4,444.45 C440.7,443.58 441.27,442.54 441.45,441.86 C441.63,441.18 441.67,440.59 441.6,439.91 C441.53,439.23 441.25,438.09 441,437.31 C440.75,436.54 440.23,435.5 439.95,434.72 C439.67,433.94 439.28,433.1 439.13,432.12 C438.98,431.15 438.99,429.59 438.96,428.23 C438.92,426.87 438.91,423.04 438.9,423.04 C438.89,423.04 438.9,426.87 438.9,428.23 C438.9,429.59 438.9,431.15 438.9,432.12 C438.9,433.1 438.9,433.94 438.9,434.72 C438.9,435.5 438.9,436.54 438.9,437.31 C438.9,438.09 438.9,439.23 438.9,439.91 C438.9,440.59 438.9,441.18 438.9,441.86 C438.9,442.54 438.9,443.58 438.9,444.45 C438.9,445.33 438.9,447.15 438.9,447.7 C438.9,448.24 438.82,448.09 438.9,448.09Z" fill="#f0938d" stroke="#151515" stroke-width="0.36"/>
<line x1="437.3" y1="439.91" x2="438.5" y2="439.91" stroke="#111" stroke-width="0.5"/>
<line x1="439.3" y1="439.91" x2="440.5" y2="439.91" stroke="#111" stroke-width="0.5"/>
<circle cx="439.9" cy="439.91" r="0.45" fill="#000"/>
<text x="438.9" y="387.5" font-size="6.9" text-anchor="middle" fill="#111" stroke="#111" stroke-width="0.2">-</text>
<path d="M449.22,447.05 C449.22,446.9 449.22,446.59 449.22,446.4 C449.22,446.21 449.22,445.99 449.22,445.75 C449.22,445.51 449.22,445.03 449.22,444.78 C449.22,444.52 449.22,444.31 449.22,444.06 C449.22,443.82 449.22,443.44 449.22,443.15 C449.22,442.87 449.22,442.47 449.22,442.18 C449.22,441.89 449.22,441.55 449.22,441.21 C449.22,440.87 449.22,440.4 449.22,439.91 C449.22,439.42 449.22,438.55 449.22,437.96 C449.22,437.38 449.22,437.18 449.22,436.02 C449.22,434.85 449.24,430.17 449.22,430.17 C449.2,430.17 449.18,434.85 449.1,436.02 C449.02,437.18 448.81,437.38 448.7,437.96 C448.58,438.55 448.51,439.42 448.32,439.91 C448.13,440.4 447.47,440.87 447.42,441.21 C447.38,441.55 448.16,441.89 448.02,442.18 C447.89,442.47 446.57,442.87 446.52,443.15 C446.48,443.44 447.7,443.82 447.72,444.06 C447.74,444.31 446.62,444.52 446.67,444.78 C446.72,445.03 447.95,445.51 448.02,445.75 C448.09,445.99 447.07,446.21 447.12,446.4 C447.17,446.59 448.01,446.9 448.32,447.05 C448.64,447.2 449.09,447.37 449.22,447.37 C449.36,447.37 449.22,447.2 449.22,447.05Z" fill="#84a9ec" stroke="#151515" stroke-width="0.36"/>
<path d="M449.22,447.37 C449.36,447.37 449.81,447.2 450.12,447.05 C450.44,446.9 451.28,446.59 451.32,446.4 C451.37,446.21 450.35,445.99 450.42,445.75 C450.49,445.51 451.73,445.03 451.77,444.78 C451.82,444.52 450.7,444.31 450.72,444.06 C450.74,443.82 451.97,443.44 451.92,443.15 C451.88,442.87 450.56,442.47 450.42,442.18 C450.29,441.89 451.07,441.55 451.02,441.21 C450.98,440.87 450.31,440.4 450.12,439.91 C449.93,439.42 449.86,438.55 449.74,437.96 C449.63,437.38 449.42,437.18 449.34,436.02 C449.26,434.85 449.24,430.17 449.22,430.17 C449.2,430.17 449.22,434.85 449.22,436.02 C449.22,437.18 449.22,437.38 449.22,437.96 C449.22,438.55 449.22,439.42 449.22,439.91 C449.22,440.4 449.22,440.87 449.22,441.21 C449.22,441.55 449.22,441.89 449.22,442.18 C449.22,442.47 449.22,442.87 449.22,443.15 C449.22,443.44 449.22,443.82 449.22,444.06 C449.22,444.31 449.22,444.52 449.22,444.78 C449.22,445.03 449.22,445.51 449.22,445.75 C449.22,445.99 449.22,446.21 449.22,446.4 C449.22,446.59 449.22,446.9 449.22,447.05 C449.22,447.2 449.09,447.37 449.22,447.37Z" fill="#f0938d" stroke="#151515" stroke-width="0.36"/>
<line x1="447.62" y1="443.15" x2="448.82" y2="443.15" stroke="#111" stroke-width="0.5"/>
<line x1="449.62" y1="443.15" x2="450.82" y2="443.15" stroke="#111" stroke-width="0.5"/>
<circle cx="450.22" cy="443.15" r="0.45" fill="#000"/>
<text x="449.22" y="387.5" font-size="6.9" text-anchor="middle" fill="#111" stroke="#111" stroke-width="0.2">*</text>
<rect x="476.6" y="369.6" width="73.8" height="8.7" fill="#d9d9d9" stroke="#333" stroke-width="0.6"/>
<text x="513.5" y="376" font-size="6.9" font-weight="bold" text-anchor="middle" fill="#1a1a1a" stroke="#1a1a1a" stroke-width="0.2">Antigen_presentation</text>
<rect x="476.6" y="378.3" width="73.8" height="70.7" fill="none" stroke="#b3b3b3" stroke-width="0.6"/>
<line x1="476.6" y1="378.3" x2="476.6" y2="449.3" stroke="#2e2e2e" stroke-width="0.75"/>
<line x1="476.3" y1="449" x2="550.4" y2="449" stroke="#2e2e2e" stroke-width="0.75"/>
<line x1="474.3" y1="446.4" x2="476.6" y2="446.4" stroke="#2e2e2e" stroke-width="0.6"/>
<text x="471.4" y="448.85" font-size="6.9" text-anchor="end" fill="#4d4d4d" stroke="#4d4d4d" stroke-width="0.2">0.00</text>
<line x1="474.3" y1="430.17" x2="476.6" y2="430.17" stroke="#2e2e2e" stroke-width="0.6"/>
<text x="471.4" y="432.62" font-size="6.9" text-anchor="end" fill="#4d4d4d" stroke="#4d4d4d" stroke-width="0.2">0.25</text>
<line x1="474.3" y1="413.95" x2="476.6" y2="413.95" stroke="#2e2e2e" stroke-width="0.6"/>
<text x="471.4" y="416.4" font-size="6.9" text-anchor="end" fill="#4d4d4d" stroke="#4d4d4d" stroke-width="0.2">0.50</text>
<line x1="474.3" y1="397.72" x2="476.6" y2="397.72" stroke="#2e2e2e" stroke-width="0.6"/>
<text x="471.4" y="400.17" font-size="6.9" text-anchor="end" fill="#4d4d4d" stroke="#4d4d4d" stroke-width="0.2">0.75</text>
<line x1="474.3" y1="381.5" x2="476.6" y2="381.5" stroke="#2e2e2e" stroke-width="0.6"/>
<text x="471.4" y="383.95" font-size="6.9" text-anchor="end" fill="#4d4d4d" stroke="#4d4d4d" stroke-width="0.2">1.00</text>
<path d="M482.6,423.69 C482.6,422.03 482.6,419.14 482.6,417.19 C482.6,415.25 482.6,412.36 482.6,410.7 C482.6,409.05 482.6,407.33 482.6,406.16 C482.6,404.99 482.6,403.99 482.6,402.92 C482.6,401.85 482.6,400.19 482.6,399.02 C482.6,397.85 482.6,396.2 482.6,395.13 C482.6,394.06 482.6,393.15 482.6,391.88 C482.6,390.62 482.62,386.69 482.6,386.69 C482.58,386.69 482.61,390.62 482.48,391.88 C482.34,393.15 482.04,394.06 481.7,395.13 C481.36,396.2 480.52,397.85 480.2,399.02 C479.89,400.19 479.65,401.85 479.6,402.92 C479.56,403.99 479.68,404.99 479.9,406.16 C480.13,407.33 480.74,409.05 481.1,410.7 C481.46,412.36 482.06,415.25 482.27,417.19 C482.48,419.14 482.47,422.03 482.52,423.69 C482.57,425.34 482.59,428.23 482.6,428.23 C482.61,428.23 482.6,425.34 482.6,423.69Z" fill="#84a9ec" stroke="#151515" stroke-width="0.36"/>
<path d="M482.6,428.23 C482.61,428.23 482.63,425.34 482.68,423.69 C482.73,422.03 482.72,419.14 482.93,417.19 C483.14,415.25 483.74,412.36 484.1,410.7 C484.46,409.05 485.07,407.33 485.3,406.16 C485.53,404.99 485.65,403.99 485.6,402.92 C485.56,401.85 485.31,400.19 485,399.02 C484.69,397.85 483.84,396.2 483.5,395.13 C483.16,394.06 482.86,393.15 482.72,391.88 C482.59,390.62 482.62,386.69 482.6,386.69 C482.58,386.69 482.6,390.62 482.6,391.88 C482.6,393.15 482.6,394.06 482.6,395.13 C482.6,396.2 482.6,397.85 482.6,399.02 C482.6,400.19 482.6,401.85 482.6,402.92 C482.6,403.99 482.6,404.99 482.6,406.16 C482.6,407.33 482.6,409.05 482.6,410.7 C482.6,412.36 482.6,415.25 482.6,417.19 C482.6,419.14 482.6,422.03 482.6,423.69 C482.6,425.34 482.59,428.23 482.6,428.23Z" fill="#f0938d" stroke="#151515" stroke-width="0.36"/>
<line x1="481" y1="403.57" x2="482.2" y2="403.57" stroke="#111" stroke-width="0.5"/>
<line x1="483" y1="403.57" x2="484.2" y2="403.57" stroke="#111" stroke-width="0.5"/>
<circle cx="483.6" cy="403.57" r="0.45" fill="#000"/>
<text x="482.6" y="387.5" font-size="6.9" text-anchor="middle" fill="#111" stroke="#111" stroke-width="0.2">-</text>
<path d="M492.92,423.69 C492.92,422.03 492.92,419.14 492.92,417.19 C492.92,415.25 492.92,412.46 492.92,410.7 C492.92,408.95 492.92,406.88 492.92,405.51 C492.92,404.15 492.92,402.79 492.92,401.62 C492.92,400.45 492.92,398.8 492.92,397.72 C492.92,396.65 492.92,395.45 492.92,394.48 C492.92,393.51 492.92,392.31 492.92,391.23 C492.92,390.16 492.94,387.34 492.92,387.34 C492.9,387.34 492.93,390.16 492.8,391.23 C492.66,392.31 492.34,393.51 492.02,394.48 C491.7,395.45 490.99,396.65 490.67,397.72 C490.36,398.8 489.99,400.45 489.92,401.62 C489.85,402.79 490.02,404.15 490.22,405.51 C490.42,406.88 490.91,408.95 491.27,410.7 C491.63,412.46 492.35,415.25 492.59,417.19 C492.82,419.14 492.79,422.03 492.84,423.69 C492.89,425.34 492.91,428.23 492.92,428.23 C492.93,428.23 492.92,425.34 492.92,423.69Z" fill="#84a9ec" stroke="#151515" stroke-width="0.36"/>
<path d="M492.92,428.23 C492.93,428.23 492.95,425.34 493,423.69 C493.05,422.03 493.02,419.14 493.25,417.19 C493.49,415.25 494.21,412.46 494.57,410.7 C494.93,408.95 495.42,406.88 495.62,405.51 C495.82,404.15 495.99,402.79 495.92,401.62 C495.85,400.45 495.49,398.8 495.17,397.72 C494.86,396.65 494.14,395.45 493.82,394.48 C493.5,393.51 493.18,392.31 493.04,391.23 C492.91,390.16 492.94,387.34 492.92,387.34 C492.9,387.34 492.92,390.16 492.92,391.23 C492.92,392.31 492.92,393.51 492.92,394.48 C492.92,395.45 492.92,396.65 492.92,397.72 C492.92,398.8 492.92,400.45 492.92,401.62 C492.92,402.79 492.92,404.15 492.92,405.51 C492.92,406.88 492.92,408.95 492.92,410.7 C492.92,412.46 492.92,415.25 492.92,417.19 C492.92,419.14 492.92,422.03 492.92,423.69 C492.92,425.34 492.91,428.23 492.92,428.23Z" fill="#f0938d" stroke="#151515" stroke-width="0.36"/>
<line x1="491.32" y1="402.92" x2="492.52" y2="402.92" stroke="#111" stroke-width="0.5"/>
<line x1="493.32" y1="402.92" x2="494.52" y2="402.92" stroke="#111" stroke-width="0.5"/>
<circle cx="493.92" cy="402.92" r="0.45" fill="#000"/>
<text x="492.92" y="387.5" font-size="6.9" text-anchor="middle" fill="#111" stroke="#111" stroke-width="0.2">***</text>
<path d="M503.24,443.15 C503.24,441.5 503.24,438.61 503.24,436.66 C503.24,434.72 503.24,431.93 503.24,430.17 C503.24,428.42 503.24,426.35 503.24,424.98 C503.24,423.62 503.24,422.55 503.24,421.09 C503.24,419.63 503.24,417.1 503.24,415.25 C503.24,413.4 503.24,410.61 503.24,408.76 C503.24,406.91 503.24,404.47 503.24,402.92 C503.24,401.36 503.24,399.83 503.24,398.37 C503.24,396.91 503.25,393.18 503.24,393.18 C503.23,393.18 503.21,396.91 503.16,398.37 C503.11,399.83 503.1,401.36 502.91,402.92 C502.72,404.47 502.2,406.91 501.89,408.76 C501.58,410.61 501.09,413.4 500.84,415.25 C500.59,417.1 500.29,419.63 500.24,421.09 C500.19,422.55 500.36,423.62 500.54,424.98 C500.72,426.35 501.08,428.42 501.44,430.17 C501.8,431.93 502.65,434.72 502.91,436.66 C503.17,438.61 503.13,441.5 503.18,443.15 C503.23,444.81 503.23,447.7 503.24,447.7 C503.25,447.7 503.24,444.81 503.24,443.15Z" fill="#84a9ec" stroke="#151515" stroke-width="0.36"/>
<path d="M503.24,447.7 C503.25,447.7 503.25,444.81 503.3,443.15 C503.35,441.5 503.31,438.61 503.57,436.66 C503.83,434.72 504.68,431.93 505.04,430.17 C505.4,428.42 505.76,426.35 505.94,424.98 C506.12,423.62 506.29,422.55 506.24,421.09 C506.19,419.63 505.89,417.1 505.64,415.25 C505.39,413.4 504.9,410.61 504.59,408.76 C504.28,406.91 503.76,404.47 503.57,402.92 C503.38,401.36 503.37,399.83 503.32,398.37 C503.27,396.91 503.25,393.18 503.24,393.18 C503.23,393.18 503.24,396.91 503.24,398.37 C503.24,399.83 503.24,401.36 503.24,402.92 C503.24,404.47 503.24,406.91 503.24,408.76 C503.24,410.61 503.24,413.4 503.24,415.25 C503.24,417.1 503.24,419.63 503.24,421.09 C503.24,422.55 503.24,423.62 503.24,424.98 C503.24,426.35 503.24,428.42 503.24,430.17 C503.24,431.93 503.24,434.72 503.24,436.66 C503.24,438.61 503.24,441.5 503.24,443.15 C503.24,444.81 503.23,447.7 503.24,447.7Z" fill="#f0938d" stroke="#151515" stroke-width="0.36"/>
<line x1="501.64" y1="421.09" x2="502.84" y2="421.09" stroke="#111" stroke-width="0.5"/>
<line x1="503.64" y1="421.09" x2="504.84" y2="421.09" stroke="#111" stroke-width="0.5"/>
<circle cx="504.24" cy="421.09" r="0.45" fill="#000"/>
<text x="503.24" y="387.5" font-size="6.9" text-anchor="middle" fill="#111" stroke="#111" stroke-width="0.2">***</text>
<path d="M513.56,443.15 C513.56,441.34 513.56,438.61 513.56,436.66 C513.56,434.72 513.56,432.12 513.56,430.17 C513.56,428.23 513.56,426.02 513.56,423.69 C513.56,421.35 513.56,417.03 513.56,414.6 C513.56,412.17 513.56,409.31 513.56,407.46 C513.56,405.61 513.56,403.63 513.56,402.27 C513.56,400.91 513.56,399.54 513.56,398.37 C513.56,397.21 513.56,395.79 513.56,394.48 C513.56,393.17 513.57,389.61 513.56,389.61 C513.55,389.61 513.53,393.17 513.48,394.48 C513.43,395.79 513.44,397.21 513.23,398.37 C513.02,399.54 512.39,400.91 512.06,402.27 C511.73,403.63 511.24,405.61 511.01,407.46 C510.79,409.31 510.58,412.17 510.56,414.6 C510.54,417.03 510.66,421.35 510.86,423.69 C511.06,426.02 511.55,428.23 511.91,430.17 C512.27,432.12 512.99,434.72 513.23,436.66 C513.47,438.61 513.45,441.34 513.5,443.15 C513.55,444.97 513.55,448.74 513.56,448.74 C513.57,448.74 513.56,444.97 513.56,443.15Z" fill="#84a9ec" stroke="#151515" stroke-width="0.36"/>
<path d="M513.56,448.74 C513.57,448.74 513.57,444.97 513.62,443.15 C513.67,441.34 513.65,438.61 513.89,436.66 C514.13,434.72 514.85,432.12 515.21,430.17 C515.57,428.23 516.06,426.02 516.26,423.69 C516.46,421.35 516.58,417.03 516.56,414.6 C516.54,412.17 516.34,409.31 516.11,407.46 C515.88,405.61 515.39,403.63 515.06,402.27 C514.73,400.91 514.1,399.54 513.89,398.37 C513.68,397.21 513.69,395.79 513.64,394.48 C513.59,393.17 513.57,389.61 513.56,389.61 C513.55,389.61 513.56,393.17 513.56,394.48 C513.56,395.79 513.56,397.21 513.56,398.37 C513.56,399.54 513.56,400.91 513.56,402.27 C513.56,403.63 513.56,405.61 513.56,407.46 C513.56,409.31 513.56,412.17 513.56,414.6 C513.56,417.03 513.56,421.35 513.56,423.69 C513.56,426.02 513.56,428.23 513.56,430.17 C513.56,432.12 513.56,434.72 513.56,436.66 C513.56,438.61 513.56,441.34 513.56,443.15 C513.56,444.97 513.55,448.74 513.56,448.74Z" fill="#f0938d" stroke="#151515" stroke-width="0.36"/>
<line x1="511.96" y1="415.25" x2="513.16" y2="415.25" stroke="#111" stroke-width="0.5"/>
<line x1="513.96" y1="415.25" x2="515.16" y2="415.25" stroke="#111" stroke-width="0.5"/>
<circle cx="514.56" cy="415.25" r="0.45" fill="#000"/>
<text x="513.56" y="387.5" font-size="6.9" text-anchor="middle" fill="#111" stroke="#111" stroke-width="0.2">***</text>
<path d="M523.88,426.93 C523.88,425.57 523.88,423.2 523.88,421.74 C523.88,420.28 523.88,418.66 523.88,417.19 C523.88,415.73 523.88,413.51 523.88,412 C523.88,410.49 523.88,408.6 523.88,407.14 C523.88,405.68 523.88,403.58 523.88,402.27 C523.88,400.95 523.88,399.54 523.88,398.37 C523.88,397.21 523.88,395.89 523.88,394.48 C523.88,393.07 523.91,388.96 523.88,388.96 C523.85,388.96 523.86,393.07 523.71,394.48 C523.55,395.89 523.14,397.21 522.83,398.37 C522.52,399.54 521.92,400.95 521.63,402.27 C521.34,403.58 520.92,405.68 520.88,407.14 C520.84,408.6 521.11,410.49 521.33,412 C521.56,413.51 522.08,415.73 522.38,417.19 C522.68,418.66 523.15,420.28 523.36,421.74 C523.56,423.2 523.68,425.57 523.76,426.93 C523.84,428.29 523.86,430.82 523.88,430.82 C523.9,430.82 523.88,428.29 523.88,426.93Z" fill="#84a9ec" stroke="#151515" stroke-width="0.36"/>
<path d="M523.88,430.82 C523.9,430.82 523.92,428.29 524,426.93 C524.08,425.57 524.2,423.2 524.4,421.74 C524.61,420.28 525.08,418.66 525.38,417.19 C525.68,415.73 526.2,413.51 526.43,412 C526.65,410.49 526.92,408.6 526.88,407.14 C526.84,405.68 526.42,403.58 526.13,402.27 C525.84,400.95 525.24,399.54 524.93,398.37 C524.62,397.21 524.21,395.89 524.05,394.48 C523.9,393.07 523.91,388.96 523.88,388.96 C523.85,388.96 523.88,393.07 523.88,394.48 C523.88,395.89 523.88,397.21 523.88,398.37 C523.88,399.54 523.88,400.95 523.88,402.27 C523.88,403.58 523.88,405.68 523.88,407.14 C523.88,408.6 523.88,410.49 523.88,412 C523.88,413.51 523.88,415.73 523.88,417.19 C523.88,418.66 523.88,420.28 523.88,421.74 C523.88,423.2 523.88,425.57 523.88,426.93 C523.88,428.29 523.86,430.82 523.88,430.82Z" fill="#f0938d" stroke="#151515" stroke-width="0.36"/>
<line x1="522.28" y1="407.46" x2="523.48" y2="407.46" stroke="#111" stroke-width="0.5"/>
<line x1="524.28" y1="407.46" x2="525.48" y2="407.46" stroke="#111" stroke-width="0.5"/>
<circle cx="524.88" cy="407.46" r="0.45" fill="#000"/>
<text x="523.88" y="387.5" font-size="6.9" text-anchor="middle" fill="#111" stroke="#111" stroke-width="0.2">***</text>
<path d="M534.2,428.23 C534.2,426.38 534.2,422.58 534.2,420.44 C534.2,418.3 534.2,415.7 534.2,413.95 C534.2,412.2 534.2,410.41 534.2,408.76 C534.2,407.1 534.2,404.38 534.2,402.92 C534.2,401.46 534.2,400.19 534.2,399.02 C534.2,397.85 534.2,396.3 534.2,395.13 C534.2,393.96 534.2,392.65 534.2,391.23 C534.2,389.82 534.23,385.72 534.2,385.72 C534.17,385.72 534.16,389.82 534.03,391.23 C533.89,392.65 533.61,393.96 533.3,395.13 C532.99,396.3 532.27,397.85 531.95,399.02 C531.63,400.19 531.25,401.46 531.2,402.92 C531.16,404.38 531.4,407.1 531.65,408.76 C531.9,410.41 532.52,412.2 532.85,413.95 C533.18,415.7 533.68,418.3 533.87,420.44 C534.06,422.58 534.07,426.38 534.12,428.23 C534.17,430.08 534.19,432.77 534.2,432.77 C534.21,432.77 534.2,430.08 534.2,428.23Z" fill="#84a9ec" stroke="#151515" stroke-width="0.36"/>
<path d="M534.2,432.77 C534.21,432.77 534.23,430.08 534.28,428.23 C534.33,426.38 534.34,422.58 534.53,420.44 C534.72,418.3 535.22,415.7 535.55,413.95 C535.88,412.2 536.5,410.41 536.75,408.76 C537,407.1 537.25,404.38 537.2,402.92 C537.16,401.46 536.77,400.19 536.45,399.02 C536.13,397.85 535.41,396.3 535.1,395.13 C534.79,393.96 534.51,392.65 534.37,391.23 C534.24,389.82 534.23,385.72 534.2,385.72 C534.17,385.72 534.2,389.82 534.2,391.23 C534.2,392.65 534.2,393.96 534.2,395.13 C534.2,396.3 534.2,397.85 534.2,399.02 C534.2,400.19 534.2,401.46 534.2,402.92 C534.2,404.38 534.2,407.1 534.2,408.76 C534.2,410.41 534.2,412.2 534.2,413.95 C534.2,415.7 534.2,418.3 534.2,420.44 C534.2,422.58 534.2,426.38 534.2,428.23 C534.2,430.08 534.19,432.77 534.2,432.77Z" fill="#f0938d" stroke="#151515" stroke-width="0.36"/>
<line x1="532.6" y1="404.21" x2="533.8" y2="404.21" stroke="#111" stroke-width="0.5"/>
<line x1="534.6" y1="404.21" x2="535.8" y2="404.21" stroke="#111" stroke-width="0.5"/>
<circle cx="535.2" cy="404.21" r="0.45" fill="#000"/>
<text x="534.2" y="387.5" font-size="6.9" text-anchor="middle" fill="#111" stroke="#111" stroke-width="0.2">***</text>
<path d="M544.52,442.51 C544.52,441.14 544.52,438.87 544.52,437.31 C544.52,435.76 544.52,433.87 544.52,432.12 C544.52,430.37 544.52,427.97 544.52,425.63 C544.52,423.3 544.52,419.08 544.52,416.55 C544.52,414.01 544.52,410.7 544.52,408.76 C544.52,406.81 544.52,404.93 544.52,403.57 C544.52,402.2 544.52,400.94 544.52,399.67 C544.52,398.41 544.52,396.49 544.52,395.13 C544.52,393.77 544.53,390.59 544.52,390.59 C544.51,390.59 544.49,393.77 544.44,395.13 C544.39,396.49 544.4,398.41 544.19,399.67 C543.98,400.94 543.35,402.2 543.02,403.57 C542.69,404.93 542.2,406.81 541.97,408.76 C541.75,410.7 541.52,414.01 541.52,416.55 C541.52,419.08 541.75,423.3 541.97,425.63 C542.2,427.97 542.69,430.37 543.02,432.12 C543.35,433.87 543.97,435.76 544.19,437.31 C544.41,438.87 544.41,441.14 544.46,442.51 C544.51,443.87 544.51,446.4 544.52,446.4 C544.53,446.4 544.52,443.87 544.52,442.51Z" fill="#84a9ec" stroke="#151515" stroke-width="0.36"/>
<path d="M544.52,446.4 C544.53,446.4 544.53,443.87 544.58,442.51 C544.63,441.14 544.63,438.87 544.85,437.31 C545.07,435.76 545.69,433.87 546.02,432.12 C546.35,430.37 546.84,427.97 547.07,425.63 C547.29,423.3 547.52,419.08 547.52,416.55 C547.52,414.01 547.29,410.7 547.07,408.76 C546.84,406.81 546.35,404.93 546.02,403.57 C545.69,402.2 545.06,400.94 544.85,399.67 C544.64,398.41 544.65,396.49 544.6,395.13 C544.55,393.77 544.53,390.59 544.52,390.59 C544.51,390.59 544.52,393.77 544.52,395.13 C544.52,396.49 544.52,398.41 544.52,399.67 C544.52,400.94 544.52,402.2 544.52,403.57 C544.52,404.93 544.52,406.81 544.52,408.76 C544.52,410.7 544.52,414.01 544.52,416.55 C544.52,419.08 544.52,423.3 544.52,425.63 C544.52,427.97 544.52,430.37 544.52,432.12 C544.52,433.87 544.52,435.76 544.52,437.31 C544.52,438.87 544.52,441.14 544.52,442.51 C544.52,443.87 544.51,446.4 544.52,446.4Z" fill="#f0938d" stroke="#151515" stroke-width="0.36"/>
<line x1="542.92" y1="417.19" x2="544.12" y2="417.19" stroke="#111" stroke-width="0.5"/>
<line x1="544.92" y1="417.19" x2="546.12" y2="417.19" stroke="#111" stroke-width="0.5"/>
<circle cx="545.52" cy="417.19" r="0.45" fill="#000"/>
<text x="544.52" y="387.5" font-size="6.9" text-anchor="middle" fill="#111" stroke="#111" stroke-width="0.2">***</text>
<rect x="571.4" y="369.6" width="74.3" height="8.7" fill="#d9d9d9" stroke="#333" stroke-width="0.6"/>
<text x="608.55" y="376" font-size="6.9" font-weight="bold" text-anchor="middle" fill="#1a1a1a" stroke="#1a1a1a" stroke-width="0.2">Complement_Function</text>
<rect x="571.4" y="378.3" width="74.3" height="70.7" fill="none" stroke="#b3b3b3" stroke-width="0.6"/>
<line x1="571.4" y1="378.3" x2="571.4" y2="449.3" stroke="#2e2e2e" stroke-width="0.75"/>
<line x1="571.1" y1="449" x2="645.7" y2="449" stroke="#2e2e2e" stroke-width="0.75"/>
<line x1="569.1" y1="446.4" x2="571.4" y2="446.4" stroke="#2e2e2e" stroke-width="0.6"/>
<text x="566.2" y="448.85" font-size="6.9" text-anchor="end" fill="#4d4d4d" stroke="#4d4d4d" stroke-width="0.2">0.00</text>
<line x1="569.1" y1="430.17" x2="571.4" y2="430.17" stroke="#2e2e2e" stroke-width="0.6"/>
<text x="566.2" y="432.62" font-size="6.9" text-anchor="end" fill="#4d4d4d" stroke="#4d4d4d" stroke-width="0.2">0.25</text>
<line x1="569.1" y1="413.95" x2="571.4" y2="413.95" stroke="#2e2e2e" stroke-width="0.6"/>
<text x="566.2" y="416.4" font-size="6.9" text-anchor="end" fill="#4d4d4d" stroke="#4d4d4d" stroke-width="0.2">0.50</text>
<line x1="569.1" y1="397.72" x2="571.4" y2="397.72" stroke="#2e2e2e" stroke-width="0.6"/>
<text x="566.2" y="400.17" font-size="6.9" text-anchor="end" fill="#4d4d4d" stroke="#4d4d4d" stroke-width="0.2">0.75</text>
<line x1="569.1" y1="381.5" x2="571.4" y2="381.5" stroke="#2e2e2e" stroke-width="0.6"/>
<text x="566.2" y="383.95" font-size="6.9" text-anchor="end" fill="#4d4d4d" stroke="#4d4d4d" stroke-width="0.2">1.00</text>
<path d="M577.4,447.7 C577.4,447.41 577.4,446.98 577.4,446.4 C577.4,445.82 577.4,444.49 577.4,443.8 C577.4,443.12 577.4,442.44 577.4,441.86 C577.4,441.27 577.4,440.59 577.4,439.91 C577.4,439.23 577.4,438.09 577.4,437.31 C577.4,436.54 577.4,435.3 577.4,434.72 C577.4,434.13 577.4,434 577.4,433.42 C577.4,432.84 577.4,431.66 577.4,430.82 C577.4,429.99 577.43,427.84 577.4,427.84 C577.37,427.84 577.38,429.99 577.23,430.82 C577.07,431.66 576.66,432.84 576.35,433.42 C576.04,434 575.44,434.13 575.15,434.72 C574.86,435.3 574.42,436.54 574.4,437.31 C574.38,438.09 574.77,439.23 575,439.91 C575.23,440.59 575.72,441.27 575.9,441.86 C576.08,442.44 576.05,443.12 576.2,443.8 C576.35,444.49 576.72,445.82 576.88,446.4 C577.03,446.98 577.15,447.41 577.23,447.7 C577.31,447.99 577.37,448.35 577.4,448.35 C577.43,448.35 577.4,447.99 577.4,447.7Z" fill="#84a9ec" stroke="#151515" stroke-width="0.36"/>
<path d="M577.4,448.35 C577.43,448.35 577.49,447.99 577.57,447.7 C577.65,447.41 577.77,446.98 577.92,446.4 C578.08,445.82 578.45,444.49 578.6,443.8 C578.75,443.12 578.72,442.44 578.9,441.86 C579.08,441.27 579.57,440.59 579.8,439.91 C580.02,439.23 580.42,438.09 580.4,437.31 C580.38,436.54 579.94,435.3 579.65,434.72 C579.36,434.13 578.76,434 578.45,433.42 C578.14,432.84 577.73,431.66 577.57,430.82 C577.42,429.99 577.43,427.84 577.4,427.84 C577.37,427.84 577.4,429.99 577.4,430.82 C577.4,431.66 577.4,432.84 577.4,433.42 C577.4,434 577.4,434.13 577.4,434.72 C577.4,435.3 577.4,436.54 577.4,437.31 C577.4,438.09 577.4,439.23 577.4,439.91 C577.4,440.59 577.4,441.27 577.4,441.86 C577.4,442.44 577.4,443.12 577.4,443.8 C577.4,444.49 577.4,445.82 577.4,446.4 C577.4,446.98 577.4,447.41 577.4,447.7 C577.4,447.99 577.37,448.35 577.4,448.35Z" fill="#f0938d" stroke="#151515" stroke-width="0.36"/>
<line x1="575.8" y1="437.96" x2="577" y2="437.96" stroke="#111" stroke-width="0.5"/>
<line x1="577.8" y1="437.96" x2="579" y2="437.96" stroke="#111" stroke-width="0.5"/>
<circle cx="578.4" cy="437.96" r="0.45" fill="#000"/>
<text x="577.4" y="387.5" font-size="6.9" text-anchor="middle" fill="#111" stroke="#111" stroke-width="0.2">-</text>
<path d="M587.72,442.51 C587.72,441.95 587.72,440.74 587.72,440.1 C587.72,439.47 587.72,438.85 587.72,438.29 C587.72,437.72 587.72,436.92 587.72,436.34 C587.72,435.76 587.72,434.98 587.72,434.39 C587.72,433.81 587.72,433.08 587.72,432.45 C587.72,431.81 587.72,431.1 587.72,430.17 C587.72,429.25 587.75,426.28 587.72,426.28 C587.69,426.28 587.68,429.25 587.55,430.17 C587.41,431.1 587.11,431.81 586.82,432.45 C586.53,433.08 585.94,433.81 585.62,434.39 C585.3,434.98 584.79,435.76 584.72,436.34 C584.65,436.92 584.95,437.72 585.17,438.29 C585.4,438.85 585.89,439.47 586.22,440.1 C586.55,440.74 587.16,441.95 587.39,442.51 C587.61,443.06 587.67,443.8 587.72,443.8 C587.77,443.8 587.72,443.06 587.72,442.51Z" fill="#84a9ec" stroke="#151515" stroke-width="0.36"/>
<path d="M587.72,443.8 C587.77,443.8 587.83,443.06 588.05,442.51 C588.28,441.95 588.89,440.74 589.22,440.1 C589.55,439.47 590.04,438.85 590.27,438.29 C590.5,437.72 590.79,436.92 590.72,436.34 C590.65,435.76 590.14,434.98 589.82,434.39 C589.5,433.81 588.91,433.08 588.62,432.45 C588.33,431.81 588.03,431.1 587.89,430.17 C587.76,429.25 587.75,426.28 587.72,426.28 C587.69,426.28 587.72,429.25 587.72,430.17 C587.72,431.1 587.72,431.81 587.72,432.45 C587.72,433.08 587.72,433.81 587.72,434.39 C587.72,434.98 587.72,435.76 587.72,436.34 C587.72,436.92 587.72,437.72 587.72,438.29 C587.72,438.85 587.72,439.47 587.72,440.1 C587.72,440.74 587.72,441.95 587.72,442.51 C587.72,443.06 587.67,443.8 587.72,443.8Z" fill="#f0938d" stroke="#151515" stroke-width="0.36"/>
<line x1="586.12" y1="436.34" x2="587.32" y2="436.34" stroke="#111" stroke-width="0.5"/>
<line x1="588.12" y1="436.34" x2="589.32" y2="436.34" stroke="#111" stroke-width="0.5"/>
<circle cx="588.72" cy="436.34" r="0.45" fill="#000"/>
<text x="587.72" y="387.5" font-size="6.9" text-anchor="middle" fill="#111" stroke="#111" stroke-width="0.2">-</text>
<path d="M598.04,447.7 C598.04,447.37 598.04,446.98 598.04,446.4 C598.04,445.82 598.04,444.49 598.04,443.8 C598.04,443.12 598.04,442.54 598.04,441.86 C598.04,441.18 598.04,440.04 598.04,439.26 C598.04,438.48 598.04,437.3 598.04,436.66 C598.04,436.03 598.04,435.63 598.04,435.04 C598.04,434.46 598.04,433.79 598.04,432.77 C598.04,431.75 598.06,428.23 598.04,428.23 C598.02,428.23 598,431.75 597.92,432.77 C597.84,433.79 597.7,434.46 597.52,435.04 C597.33,435.63 596.97,436.03 596.69,436.66 C596.41,437.3 595.89,438.48 595.64,439.26 C595.39,440.04 595.11,441.18 595.04,441.86 C594.97,442.54 595.05,443.12 595.19,443.8 C595.32,444.49 595.65,445.82 595.94,446.4 C596.23,446.98 596.82,447.37 597.14,447.7 C597.46,448.03 597.9,448.61 598.04,448.61 C598.17,448.61 598.04,448.03 598.04,447.7Z" fill="#84a9ec" stroke="#151515" stroke-width="0.36"/>
<path d="M598.04,448.61 C598.17,448.61 598.62,448.03 598.94,447.7 C599.25,447.37 599.85,446.98 600.14,446.4 C600.43,445.82 600.75,444.49 600.89,443.8 C601.02,443.12 601.11,442.54 601.04,441.86 C600.97,441.18 600.69,440.04 600.44,439.26 C600.19,438.48 599.67,437.3 599.39,436.66 C599.11,436.03 598.75,435.63 598.56,435.04 C598.38,434.46 598.24,433.79 598.16,432.77 C598.08,431.75 598.06,428.23 598.04,428.23 C598.02,428.23 598.04,431.75 598.04,432.77 C598.04,433.79 598.04,434.46 598.04,435.04 C598.04,435.63 598.04,436.03 598.04,436.66 C598.04,437.3 598.04,438.48 598.04,439.26 C598.04,440.04 598.04,441.18 598.04,441.86 C598.04,442.54 598.04,443.12 598.04,443.8 C598.04,444.49 598.04,445.82 598.04,446.4 C598.04,446.98 598.04,447.37 598.04,447.7 C598.04,448.03 597.9,448.61 598.04,448.61Z" fill="#f0938d" stroke="#151515" stroke-width="0.36"/>
<line x1="596.44" y1="441.86" x2="597.64" y2="441.86" stroke="#111" stroke-width="0.5"/>
<line x1="598.44" y1="441.86" x2="599.64" y2="441.86" stroke="#111" stroke-width="0.5"/>
<circle cx="599.04" cy="441.86" r="0.45" fill="#000"/>
<text x="598.04" y="387.5" font-size="6.9" text-anchor="middle" fill="#111" stroke="#111" stroke-width="0.2">***</text>
<path d="M608.36,447.05 C608.36,446.82 608.36,446.09 608.36,445.75 C608.36,445.41 608.36,445.12 608.36,444.78 C608.36,444.44 608.36,443.87 608.36,443.48 C608.36,443.09 608.36,442.57 608.36,442.18 C608.36,441.79 608.36,441.25 608.36,440.88 C608.36,440.51 608.36,440.25 608.36,439.72 C608.36,439.18 608.36,438.72 608.36,437.31 C608.36,435.91 608.38,430.37 608.36,430.37 C608.34,430.37 608.32,435.91 608.24,437.31 C608.16,438.72 608.02,439.18 607.84,439.72 C607.65,440.25 607.25,440.51 607.01,440.88 C606.77,441.25 606.51,441.79 606.26,442.18 C606.01,442.57 605.4,443.09 605.36,443.48 C605.32,443.87 605.78,444.44 605.96,444.78 C606.14,445.12 606.34,445.41 606.56,445.75 C606.79,446.09 607.19,446.82 607.46,447.05 C607.73,447.28 608.23,447.31 608.36,447.31 C608.5,447.31 608.36,447.28 608.36,447.05Z" fill="#84a9ec" stroke="#151515" stroke-width="0.36"/>
<path d="M608.36,447.31 C608.5,447.31 608.99,447.28 609.26,447.05 C609.53,446.82 609.93,446.09 610.16,445.75 C610.38,445.41 610.58,445.12 610.76,444.78 C610.94,444.44 611.4,443.87 611.36,443.48 C611.32,443.09 610.71,442.57 610.46,442.18 C610.21,441.79 609.95,441.25 609.71,440.88 C609.47,440.51 609.07,440.25 608.88,439.72 C608.7,439.18 608.56,438.72 608.48,437.31 C608.4,435.91 608.38,430.37 608.36,430.37 C608.34,430.37 608.36,435.91 608.36,437.31 C608.36,438.72 608.36,439.18 608.36,439.72 C608.36,440.25 608.36,440.51 608.36,440.88 C608.36,441.25 608.36,441.79 608.36,442.18 C608.36,442.57 608.36,443.09 608.36,443.48 C608.36,443.87 608.36,444.44 608.36,444.78 C608.36,445.12 608.36,445.41 608.36,445.75 C608.36,446.09 608.36,446.82 608.36,447.05 C608.36,447.28 608.23,447.31 608.36,447.31Z" fill="#f0938d" stroke="#151515" stroke-width="0.36"/>
<line x1="606.76" y1="443.15" x2="607.96" y2="443.15" stroke="#111" stroke-width="0.5"/>
<line x1="608.76" y1="443.15" x2="609.96" y2="443.15" stroke="#111" stroke-width="0.5"/>
<circle cx="609.36" cy="443.15" r="0.45" fill="#000"/>
<text x="608.36" y="387.5" font-size="6.9" text-anchor="middle" fill="#111" stroke="#111" stroke-width="0.2">***</text>
<path d="M618.68,447.7 C618.68,447.02 618.68,444.87 618.68,443.8 C618.68,442.73 618.68,441.24 618.68,440.56 C618.68,439.88 618.68,439.69 618.68,439.26 C618.68,438.83 618.68,438.19 618.68,437.7 C618.68,437.22 618.68,436.56 618.68,436.02 C618.68,435.47 618.68,434.65 618.68,434.07 C618.68,433.48 618.68,432.9 618.68,432.12 C618.68,431.34 618.71,428.88 618.68,428.88 C618.65,428.88 618.64,431.34 618.51,432.12 C618.37,432.9 618.07,433.48 617.78,434.07 C617.49,434.65 616.89,435.47 616.58,436.02 C616.26,436.56 615.7,437.22 615.68,437.7 C615.66,438.19 616.16,438.83 616.43,439.26 C616.7,439.69 617.18,439.88 617.48,440.56 C617.78,441.24 618.29,442.73 618.45,443.8 C618.61,444.87 618.52,447.02 618.56,447.7 C618.59,448.38 618.66,448.35 618.68,448.35 C618.7,448.35 618.68,448.38 618.68,447.7Z" fill="#84a9ec" stroke="#151515" stroke-width="0.36"/>
<path d="M618.68,448.35 C618.7,448.35 618.77,448.38 618.8,447.7 C618.84,447.02 618.75,444.87 618.91,443.8 C619.07,442.73 619.58,441.24 619.88,440.56 C620.18,439.88 620.66,439.69 620.93,439.26 C621.2,438.83 621.7,438.19 621.68,437.7 C621.66,437.22 621.1,436.56 620.78,436.02 C620.46,435.47 619.87,434.65 619.58,434.07 C619.29,433.48 618.99,432.9 618.85,432.12 C618.72,431.34 618.71,428.88 618.68,428.88 C618.65,428.88 618.68,431.34 618.68,432.12 C618.68,432.9 618.68,433.48 618.68,434.07 C618.68,434.65 618.68,435.47 618.68,436.02 C618.68,436.56 618.68,437.22 618.68,437.7 C618.68,438.19 618.68,438.83 618.68,439.26 C618.68,439.69 618.68,439.88 618.68,440.56 C618.68,441.24 618.68,442.73 618.68,443.8 C618.68,444.87 618.68,447.02 618.68,447.7 C618.68,448.38 618.66,448.35 618.68,448.35Z" fill="#f0938d" stroke="#151515" stroke-width="0.36"/>
<line x1="617.08" y1="437.96" x2="618.28" y2="437.96" stroke="#111" stroke-width="0.5"/>
<line x1="619.08" y1="437.96" x2="620.28" y2="437.96" stroke="#111" stroke-width="0.5"/>
<circle cx="619.68" cy="437.96" r="0.45" fill="#000"/>
<text x="618.68" y="387.5" font-size="6.9" text-anchor="middle" fill="#111" stroke="#111" stroke-width="0.2">*</text>
<path d="M629,447.7 C629,447.02 629,444.82 629,443.8 C629,442.79 629,441.73 629,440.95 C629,440.17 629,439.3 629,438.61 C629,437.92 629,437.02 629,436.34 C629,435.66 629,434.78 629,434.07 C629,433.36 629,432.38 629,431.6 C629,430.82 629,430.02 629,428.88 C629,427.74 629.02,424.01 629,424.01 C628.98,424.01 629.01,427.74 628.88,428.88 C628.74,430.02 628.4,430.82 628.1,431.6 C627.8,432.38 627.22,433.36 626.9,434.07 C626.58,434.78 626.04,435.66 626,436.34 C625.96,437.02 626.31,437.92 626.6,438.61 C626.89,439.3 627.62,440.17 627.95,440.95 C628.28,441.73 628.63,442.79 628.77,443.8 C628.91,444.82 628.84,447.02 628.88,447.7 C628.91,448.38 628.98,448.35 629,448.35 C629.02,448.35 629,448.38 629,447.7Z" fill="#84a9ec" stroke="#151515" stroke-width="0.36"/>
<path d="M629,448.35 C629.02,448.35 629.09,448.38 629.12,447.7 C629.16,447.02 629.09,444.82 629.23,443.8 C629.37,442.79 629.72,441.73 630.05,440.95 C630.38,440.17 631.11,439.3 631.4,438.61 C631.69,437.92 632.04,437.02 632,436.34 C631.96,435.66 631.42,434.78 631.1,434.07 C630.78,433.36 630.2,432.38 629.9,431.6 C629.6,430.82 629.26,430.02 629.12,428.88 C628.99,427.74 629.02,424.01 629,424.01 C628.98,424.01 629,427.74 629,428.88 C629,430.02 629,430.82 629,431.6 C629,432.38 629,433.36 629,434.07 C629,434.78 629,435.66 629,436.34 C629,437.02 629,437.92 629,438.61 C629,439.3 629,440.17 629,440.95 C629,441.73 629,442.79 629,443.8 C629,444.82 629,447.02 629,447.7 C629,448.38 628.98,448.35 629,448.35Z" fill="#f0938d" stroke="#151515" stroke-width="0.36"/>
<line x1="627.4" y1="436.34" x2="628.6" y2="436.34" stroke="#111" stroke-width="0.5"/>
<line x1="629.4" y1="436.34" x2="630.6" y2="436.34" stroke="#111" stroke-width="0.5"/>
<circle cx="630" cy="436.34" r="0.45" fill="#000"/>
<text x="629" y="387.5" font-size="6.9" text-anchor="middle" fill="#111" stroke="#111" stroke-width="0.2">-</text>
<path d="M639.32,447.7 C639.32,447.21 639.32,445.69 639.32,445.1 C639.32,444.52 639.32,444.19 639.32,443.8 C639.32,443.41 639.32,442.9 639.32,442.51 C639.32,442.12 639.32,441.6 639.32,441.21 C639.32,440.82 639.32,440.33 639.32,439.91 C639.32,439.49 639.32,438.86 639.32,438.42 C639.32,437.98 639.32,437.4 639.32,436.99 C639.32,436.58 639.32,436.13 639.32,435.69 C639.32,435.25 639.32,434.6 639.32,434.07 C639.32,433.53 639.32,433.06 639.32,432.12 C639.32,431.19 639.37,427.84 639.32,427.84 C639.27,427.84 639.17,431.19 638.99,432.12 C638.81,433.06 638.45,433.53 638.12,434.07 C637.79,434.6 636.9,435.25 636.77,435.69 C636.63,436.13 637.29,436.58 637.22,436.99 C637.15,437.4 636.27,437.98 636.32,438.42 C636.36,438.86 637.43,439.49 637.52,439.91 C637.61,440.33 636.83,440.82 636.92,441.21 C637.01,441.6 638.03,442.12 638.12,442.51 C638.21,442.9 637.5,443.41 637.52,443.8 C637.54,444.19 638.08,444.52 638.27,445.1 C638.46,445.69 638.64,447.21 638.8,447.7 C638.95,448.18 639.24,448.35 639.32,448.35 C639.4,448.35 639.32,448.18 639.32,447.7Z" fill="#84a9ec" stroke="#151515" stroke-width="0.36"/>
<path d="M639.32,448.35 C639.4,448.35 639.69,448.18 639.84,447.7 C640,447.21 640.18,445.69 640.37,445.1 C640.56,444.52 641.1,444.19 641.12,443.8 C641.14,443.41 640.43,442.9 640.52,442.51 C640.61,442.12 641.63,441.6 641.72,441.21 C641.81,440.82 641.03,440.33 641.12,439.91 C641.21,439.49 642.27,438.86 642.32,438.42 C642.36,437.98 641.49,437.4 641.42,436.99 C641.35,436.58 642,436.13 641.87,435.69 C641.73,435.25 640.85,434.6 640.52,434.07 C640.19,433.53 639.83,433.06 639.65,432.12 C639.47,431.19 639.37,427.84 639.32,427.84 C639.27,427.84 639.32,431.19 639.32,432.12 C639.32,433.06 639.32,433.53 639.32,434.07 C639.32,434.6 639.32,435.25 639.32,435.69 C639.32,436.13 639.32,436.58 639.32,436.99 C639.32,437.4 639.32,437.98 639.32,438.42 C639.32,438.86 639.32,439.49 639.32,439.91 C639.32,440.33 639.32,440.82 639.32,441.21 C639.32,441.6 639.32,442.12 639.32,442.51 C639.32,442.9 639.32,443.41 639.32,443.8 C639.32,444.19 639.32,444.52 639.32,445.1 C639.32,445.69 639.32,447.21 639.32,447.7 C639.32,448.18 639.24,448.35 639.32,448.35Z" fill="#f0938d" stroke="#151515" stroke-width="0.36"/>
<line x1="637.72" y1="438.29" x2="638.92" y2="438.29" stroke="#111" stroke-width="0.5"/>
<line x1="639.72" y1="438.29" x2="640.92" y2="438.29" stroke="#111" stroke-width="0.5"/>
<circle cx="640.32" cy="438.29" r="0.45" fill="#000"/>
<text x="639.32" y="387.5" font-size="6.9" text-anchor="middle" fill="#111" stroke="#111" stroke-width="0.2">***</text>
<rect x="381.3" y="452.5" width="73.9" height="8.8" fill="#d9d9d9" stroke="#333" stroke-width="0.6"/>
<text x="418.25" y="459" font-size="6.9" font-weight="bold" text-anchor="middle" fill="#1a1a1a" stroke="#1a1a1a" stroke-width="0.2">M1</text>
<rect x="381.3" y="461.3" width="73.9" height="70.7" fill="none" stroke="#b3b3b3" stroke-width="0.6"/>
<line x1="381.3" y1="461.3" x2="381.3" y2="532.3" stroke="#2e2e2e" stroke-width="0.75"/>
<line x1="381" y1="532" x2="455.2" y2="532" stroke="#2e2e2e" stroke-width="0.75"/>
<line x1="379" y1="529.1" x2="381.3" y2="529.1" stroke="#2e2e2e" stroke-width="0.6"/>
<text x="376.1" y="531.55" font-size="6.9" text-anchor="end" fill="#4d4d4d" stroke="#4d4d4d" stroke-width="0.2">0.00</text>
<line x1="379" y1="512.88" x2="381.3" y2="512.88" stroke="#2e2e2e" stroke-width="0.6"/>
<text x="376.1" y="515.33" font-size="6.9" text-anchor="end" fill="#4d4d4d" stroke="#4d4d4d" stroke-width="0.2">0.25</text>
<line x1="379" y1="496.65" x2="381.3" y2="496.65" stroke="#2e2e2e" stroke-width="0.6"/>
<text x="376.1" y="499.1" font-size="6.9" text-anchor="end" fill="#4d4d4d" stroke="#4d4d4d" stroke-width="0.2">0.50</text>
<line x1="379" y1="480.43" x2="381.3" y2="480.43" stroke="#2e2e2e" stroke-width="0.6"/>
<text x="376.1" y="482.88" font-size="6.9" text-anchor="end" fill="#4d4d4d" stroke="#4d4d4d" stroke-width="0.2">0.75</text>
<line x1="379" y1="464.2" x2="381.3" y2="464.2" stroke="#2e2e2e" stroke-width="0.6"/>
<text x="376.1" y="466.65" font-size="6.9" text-anchor="end" fill="#4d4d4d" stroke="#4d4d4d" stroke-width="0.2">1.00</text>
<path d="M387.3,531.7 C387.3,530.82 387.3,528.68 387.3,527.15 C387.3,525.62 387.3,523.16 387.3,521.51 C387.3,519.85 387.3,517.61 387.3,516.12 C387.3,514.63 387.3,512.75 387.3,511.58 C387.3,510.41 387.3,509.6 387.3,508.33 C387.3,507.07 387.3,505.96 387.3,503.14 C387.3,500.32 387.31,489.51 387.3,489.51 C387.29,489.51 387.29,500.32 387.24,503.14 C387.19,505.96 387.12,507.07 386.97,508.33 C386.82,509.6 386.54,510.41 386.25,511.58 C385.96,512.75 385.34,514.63 385.05,516.12 C384.76,517.61 384.28,519.85 384.3,521.51 C384.32,523.16 384.86,525.62 385.2,527.15 C385.54,528.68 386.24,530.82 386.55,531.7 C386.87,532.57 387.19,532.99 387.3,532.99 C387.41,532.99 387.3,532.57 387.3,531.7Z" fill="#84a9ec" stroke="#151515" stroke-width="0.36"/>
<path d="M387.3,532.99 C387.41,532.99 387.74,532.57 388.05,531.7 C388.37,530.82 389.06,528.68 389.4,527.15 C389.74,525.62 390.28,523.16 390.3,521.51 C390.32,519.85 389.84,517.61 389.55,516.12 C389.26,514.63 388.64,512.75 388.35,511.58 C388.06,510.41 387.78,509.6 387.63,508.33 C387.48,507.07 387.41,505.96 387.36,503.14 C387.31,500.32 387.31,489.51 387.3,489.51 C387.29,489.51 387.3,500.32 387.3,503.14 C387.3,505.96 387.3,507.07 387.3,508.33 C387.3,509.6 387.3,510.41 387.3,511.58 C387.3,512.75 387.3,514.63 387.3,516.12 C387.3,517.61 387.3,519.85 387.3,521.51 C387.3,523.16 387.3,525.62 387.3,527.15 C387.3,528.68 387.3,530.82 387.3,531.7 C387.3,532.57 387.19,532.99 387.3,532.99Z" fill="#f0938d" stroke="#151515" stroke-width="0.36"/>
<line x1="385.7" y1="520.01" x2="386.9" y2="520.01" stroke="#111" stroke-width="0.5"/>
<line x1="387.7" y1="520.01" x2="388.9" y2="520.01" stroke="#111" stroke-width="0.5"/>
<circle cx="388.3" cy="520.01" r="0.45" fill="#000"/>
<text x="387.3" y="470.2" font-size="6.9" text-anchor="middle" fill="#111" stroke="#111" stroke-width="0.2">-</text>
<path d="M397.62,531.05 C397.62,530.46 397.62,528.79 397.62,527.8 C397.62,526.81 397.62,525.6 397.62,524.43 C397.62,523.26 397.62,521.26 397.62,520.01 C397.62,518.77 397.62,517.29 397.62,516.12 C397.62,514.95 397.62,513.69 397.62,512.23 C397.62,510.77 397.62,509.35 397.62,506.39 C397.62,503.42 397.63,492.43 397.62,492.43 C397.61,492.43 397.6,503.42 397.56,506.39 C397.53,509.35 397.54,510.77 397.39,512.23 C397.24,513.69 396.87,514.95 396.57,516.12 C396.27,517.29 395.66,518.77 395.37,520.01 C395.08,521.26 394.6,523.26 394.62,524.43 C394.64,525.6 395.18,526.81 395.52,527.8 C395.86,528.79 396.56,530.46 396.87,531.05 C397.19,531.63 397.51,531.7 397.62,531.7 C397.73,531.7 397.62,531.63 397.62,531.05Z" fill="#84a9ec" stroke="#151515" stroke-width="0.36"/>
<path d="M397.62,531.7 C397.73,531.7 398.06,531.63 398.37,531.05 C398.69,530.46 399.38,528.79 399.72,527.8 C400.06,526.81 400.6,525.6 400.62,524.43 C400.64,523.26 400.16,521.26 399.87,520.01 C399.58,518.77 398.97,517.29 398.67,516.12 C398.37,514.95 398,513.69 397.85,512.23 C397.7,510.77 397.71,509.35 397.68,506.39 C397.64,503.42 397.63,492.43 397.62,492.43 C397.61,492.43 397.62,503.42 397.62,506.39 C397.62,509.35 397.62,510.77 397.62,512.23 C397.62,513.69 397.62,514.95 397.62,516.12 C397.62,517.29 397.62,518.77 397.62,520.01 C397.62,521.26 397.62,523.26 397.62,524.43 C397.62,525.6 397.62,526.81 397.62,527.8 C397.62,528.79 397.62,530.46 397.62,531.05 C397.62,531.63 397.51,531.7 397.62,531.7Z" fill="#f0938d" stroke="#151515" stroke-width="0.36"/>
<line x1="396.02" y1="523.26" x2="397.22" y2="523.26" stroke="#111" stroke-width="0.5"/>
<line x1="398.02" y1="523.26" x2="399.22" y2="523.26" stroke="#111" stroke-width="0.5"/>
<circle cx="398.62" cy="523.26" r="0.45" fill="#000"/>
<text x="397.62" y="470.2" font-size="6.9" text-anchor="middle" fill="#111" stroke="#111" stroke-width="0.2">**</text>
<path d="M407.94,527.8 C407.94,526.96 407.94,524.72 407.94,523.45 C407.94,522.19 407.94,520.95 407.94,519.37 C407.94,517.78 407.94,514.63 407.94,512.88 C407.94,511.12 407.94,509.14 407.94,507.68 C407.94,506.22 407.94,504.41 407.94,503.14 C407.94,501.87 407.94,500.41 407.94,499.25 C407.94,498.08 407.94,496.62 407.94,495.35 C407.94,494.09 407.95,490.81 407.94,490.81 C407.93,490.81 407.92,494.09 407.88,495.35 C407.85,496.62 407.86,498.08 407.71,499.25 C407.56,500.41 407.17,501.87 406.89,503.14 C406.61,504.41 406.13,506.22 405.84,507.68 C405.55,509.14 404.89,511.12 404.94,512.88 C404.99,514.63 405.77,517.78 406.14,519.37 C406.51,520.95 407.15,522.19 407.42,523.45 C407.68,524.72 407.8,526.96 407.88,527.8 C407.96,528.65 407.93,529.1 407.94,529.1 C407.95,529.1 407.94,528.65 407.94,527.8Z" fill="#84a9ec" stroke="#151515" stroke-width="0.36"/>
<path d="M407.94,529.1 C407.95,529.1 407.92,528.65 408,527.8 C408.08,526.96 408.2,524.72 408.46,523.45 C408.73,522.19 409.37,520.95 409.74,519.37 C410.11,517.78 410.89,514.63 410.94,512.88 C410.99,511.12 410.33,509.14 410.04,507.68 C409.75,506.22 409.27,504.41 408.99,503.14 C408.71,501.87 408.32,500.41 408.17,499.25 C408.02,498.08 408.03,496.62 408,495.35 C407.96,494.09 407.95,490.81 407.94,490.81 C407.93,490.81 407.94,494.09 407.94,495.35 C407.94,496.62 407.94,498.08 407.94,499.25 C407.94,500.41 407.94,501.87 407.94,503.14 C407.94,504.41 407.94,506.22 407.94,507.68 C407.94,509.14 407.94,511.12 407.94,512.88 C407.94,514.63 407.94,517.78 407.94,519.37 C407.94,520.95 407.94,522.19 407.94,523.45 C407.94,524.72 407.94,526.96 407.94,527.8 C407.94,528.65 407.93,529.1 407.94,529.1Z" fill="#f0938d" stroke="#151515" stroke-width="0.36"/>
<line x1="406.34" y1="513.52" x2="407.54" y2="513.52" stroke="#111" stroke-width="0.5"/>
<line x1="408.34" y1="513.52" x2="409.54" y2="513.52" stroke="#111" stroke-width="0.5"/>
<circle cx="408.94" cy="513.52" r="0.45" fill="#000"/>
<text x="407.94" y="470.2" font-size="6.9" text-anchor="middle" fill="#111" stroke="#111" stroke-width="0.2">-</text>
<path d="M418.26,531.05 C418.26,530.37 418.26,528.42 418.26,527.15 C418.26,525.89 418.26,523.88 418.26,522.61 C418.26,521.34 418.26,519.88 418.26,518.72 C418.26,517.55 418.26,516.09 418.26,514.82 C418.26,513.56 418.26,511.64 418.26,510.28 C418.26,508.92 418.26,508.95 418.26,505.74 C418.26,502.52 418.28,488.86 418.26,488.86 C418.24,488.86 418.25,502.52 418.14,505.74 C418.03,508.95 417.81,508.92 417.51,510.28 C417.21,511.64 416.47,513.56 416.16,514.82 C415.84,516.09 415.48,517.55 415.41,518.72 C415.34,519.88 415.51,521.34 415.71,522.61 C415.91,523.88 416.46,525.89 416.76,527.15 C417.06,528.42 417.51,530.37 417.74,531.05 C417.96,531.73 418.18,531.7 418.26,531.7 C418.34,531.7 418.26,531.73 418.26,531.05Z" fill="#84a9ec" stroke="#151515" stroke-width="0.36"/>
<path d="M418.26,531.7 C418.34,531.7 418.56,531.73 418.78,531.05 C419.01,530.37 419.46,528.42 419.76,527.15 C420.06,525.89 420.61,523.88 420.81,522.61 C421.01,521.34 421.18,519.88 421.11,518.72 C421.04,517.55 420.68,516.09 420.36,514.82 C420.05,513.56 419.31,511.64 419.01,510.28 C418.71,508.92 418.49,508.95 418.38,505.74 C418.27,502.52 418.28,488.86 418.26,488.86 C418.24,488.86 418.26,502.52 418.26,505.74 C418.26,508.95 418.26,508.92 418.26,510.28 C418.26,511.64 418.26,513.56 418.26,514.82 C418.26,516.09 418.26,517.55 418.26,518.72 C418.26,519.88 418.26,521.34 418.26,522.61 C418.26,523.88 418.26,525.89 418.26,527.15 C418.26,528.42 418.26,530.37 418.26,531.05 C418.26,531.73 418.18,531.7 418.26,531.7Z" fill="#f0938d" stroke="#151515" stroke-width="0.36"/>
<line x1="416.66" y1="519.37" x2="417.86" y2="519.37" stroke="#111" stroke-width="0.5"/>
<line x1="418.66" y1="519.37" x2="419.86" y2="519.37" stroke="#111" stroke-width="0.5"/>
<circle cx="419.26" cy="519.37" r="0.45" fill="#000"/>
<text x="418.26" y="470.2" font-size="6.9" text-anchor="middle" fill="#111" stroke="#111" stroke-width="0.2">-</text>
<path d="M428.58,532.35 C428.58,531.53 428.58,529.14 428.58,527.8 C428.58,526.47 428.58,524.72 428.58,523.45 C428.58,522.19 428.58,520.66 428.58,519.37 C428.58,518.07 428.58,516.18 428.58,514.82 C428.58,513.46 428.58,511.84 428.58,510.28 C428.58,508.72 428.58,507.55 428.58,504.44 C428.58,501.32 428.59,489.51 428.58,489.51 C428.57,489.51 428.57,501.32 428.52,504.44 C428.47,507.55 428.44,508.72 428.25,510.28 C428.05,511.84 427.54,513.46 427.23,514.82 C426.92,516.18 426.41,518.07 426.18,519.37 C425.96,520.66 425.69,522.19 425.73,523.45 C425.78,524.72 426.17,526.47 426.48,527.8 C426.8,529.14 427.52,531.53 427.83,532.35 C428.15,533.16 428.47,533.25 428.58,533.25 C428.69,533.25 428.58,533.16 428.58,532.35Z" fill="#84a9ec" stroke="#151515" stroke-width="0.36"/>
<path d="M428.58,533.25 C428.69,533.25 429.02,533.16 429.33,532.35 C429.65,531.53 430.37,529.14 430.68,527.8 C431,526.47 431.39,524.72 431.43,523.45 C431.48,522.19 431.21,520.66 430.98,519.37 C430.75,518.07 430.24,516.18 429.93,514.82 C429.62,513.46 429.11,511.84 428.91,510.28 C428.72,508.72 428.69,507.55 428.64,504.44 C428.59,501.32 428.59,489.51 428.58,489.51 C428.57,489.51 428.58,501.32 428.58,504.44 C428.58,507.55 428.58,508.72 428.58,510.28 C428.58,511.84 428.58,513.46 428.58,514.82 C428.58,516.18 428.58,518.07 428.58,519.37 C428.58,520.66 428.58,522.19 428.58,523.45 C428.58,524.72 428.58,526.47 428.58,527.8 C428.58,529.14 428.58,531.53 428.58,532.35 C428.58,533.16 428.47,533.25 428.58,533.25Z" fill="#f0938d" stroke="#151515" stroke-width="0.36"/>
<line x1="426.98" y1="521.96" x2="428.18" y2="521.96" stroke="#111" stroke-width="0.5"/>
<line x1="428.98" y1="521.96" x2="430.18" y2="521.96" stroke="#111" stroke-width="0.5"/>
<circle cx="429.58" cy="521.96" r="0.45" fill="#000"/>
<text x="428.58" y="470.2" font-size="6.9" text-anchor="middle" fill="#111" stroke="#111" stroke-width="0.2">-</text>
<path d="M438.9,532.35 C438.9,531.57 438.9,529.26 438.9,527.8 C438.9,526.34 438.9,524.17 438.9,522.61 C438.9,521.05 438.9,518.98 438.9,517.42 C438.9,515.86 438.9,513.88 438.9,512.23 C438.9,510.57 438.9,507.94 438.9,506.39 C438.9,504.83 438.9,504.37 438.9,501.84 C438.9,499.31 438.91,489.51 438.9,489.51 C438.89,489.51 438.89,499.31 438.84,501.84 C438.79,504.37 438.76,504.83 438.57,506.39 C438.37,507.94 437.86,510.57 437.55,512.23 C437.24,513.88 436.75,515.86 436.5,517.42 C436.25,518.98 435.86,521.05 435.9,522.61 C435.95,524.17 436.46,526.34 436.8,527.8 C437.14,529.26 437.84,531.57 438.15,532.35 C438.47,533.12 438.79,532.99 438.9,532.99 C439.01,532.99 438.9,533.12 438.9,532.35Z" fill="#84a9ec" stroke="#151515" stroke-width="0.36"/>
<path d="M438.9,532.99 C439.01,532.99 439.34,533.12 439.65,532.35 C439.97,531.57 440.66,529.26 441,527.8 C441.34,526.34 441.86,524.17 441.9,522.61 C441.95,521.05 441.55,518.98 441.3,517.42 C441.05,515.86 440.56,513.88 440.25,512.23 C439.94,510.57 439.43,507.94 439.23,506.39 C439.04,504.83 439.01,504.37 438.96,501.84 C438.91,499.31 438.91,489.51 438.9,489.51 C438.89,489.51 438.9,499.31 438.9,501.84 C438.9,504.37 438.9,504.83 438.9,506.39 C438.9,507.94 438.9,510.57 438.9,512.23 C438.9,513.88 438.9,515.86 438.9,517.42 C438.9,518.98 438.9,521.05 438.9,522.61 C438.9,524.17 438.9,526.34 438.9,527.8 C438.9,529.26 438.9,531.57 438.9,532.35 C438.9,533.12 438.79,532.99 438.9,532.99Z" fill="#f0938d" stroke="#151515" stroke-width="0.36"/>
<line x1="437.3" y1="520.99" x2="438.5" y2="520.99" stroke="#111" stroke-width="0.5"/>
<line x1="439.3" y1="520.99" x2="440.5" y2="520.99" stroke="#111" stroke-width="0.5"/>
<circle cx="439.9" cy="520.99" r="0.45" fill="#000"/>
<text x="438.9" y="470.2" font-size="6.9" text-anchor="middle" fill="#111" stroke="#111" stroke-width="0.2">***</text>
<path d="M449.22,531.05 C449.22,530.75 449.22,530.04 449.22,529.75 C449.22,529.46 449.22,529.34 449.22,529.1 C449.22,528.86 449.22,528.42 449.22,528.13 C449.22,527.83 449.22,527.45 449.22,527.15 C449.22,526.86 449.22,526.47 449.22,526.18 C449.22,525.89 449.22,525.55 449.22,525.21 C449.22,524.87 449.22,524.3 449.22,523.91 C449.22,523.52 449.22,523.29 449.22,522.61 C449.22,521.93 449.22,520.53 449.22,519.37 C449.22,518.2 449.22,517.65 449.22,514.82 C449.22,512 449.23,500.54 449.22,500.54 C449.21,500.54 449.2,512 449.16,514.82 C449.13,517.65 449.09,518.2 448.99,519.37 C448.88,520.53 448.66,521.93 448.47,522.61 C448.28,523.29 447.79,523.52 447.72,523.91 C447.65,524.3 448.13,524.87 448.02,525.21 C447.91,525.55 447.04,525.89 446.97,526.18 C446.9,526.47 447.59,526.86 447.57,527.15 C447.55,527.45 446.75,527.83 446.82,528.13 C446.89,528.42 447.98,528.86 448.02,529.1 C448.07,529.34 447.1,529.46 447.12,529.75 C447.14,530.04 447.86,530.75 448.17,531.05 C448.49,531.34 449.06,531.7 449.22,531.7 C449.38,531.7 449.22,531.34 449.22,531.05Z" fill="#84a9ec" stroke="#151515" stroke-width="0.36"/>
<path d="M449.22,531.7 C449.38,531.7 449.96,531.34 450.27,531.05 C450.59,530.75 451.3,530.04 451.32,529.75 C451.34,529.46 450.38,529.34 450.42,529.1 C450.47,528.86 451.55,528.42 451.62,528.13 C451.69,527.83 450.89,527.45 450.87,527.15 C450.85,526.86 451.54,526.47 451.47,526.18 C451.4,525.89 450.53,525.55 450.42,525.21 C450.31,524.87 450.79,524.3 450.72,523.91 C450.65,523.52 450.16,523.29 449.97,522.61 C449.78,521.93 449.56,520.53 449.45,519.37 C449.35,518.2 449.31,517.65 449.28,514.82 C449.24,512 449.23,500.54 449.22,500.54 C449.21,500.54 449.22,512 449.22,514.82 C449.22,517.65 449.22,518.2 449.22,519.37 C449.22,520.53 449.22,521.93 449.22,522.61 C449.22,523.29 449.22,523.52 449.22,523.91 C449.22,524.3 449.22,524.87 449.22,525.21 C449.22,525.55 449.22,525.89 449.22,526.18 C449.22,526.47 449.22,526.86 449.22,527.15 C449.22,527.45 449.22,527.83 449.22,528.13 C449.22,528.42 449.22,528.86 449.22,529.1 C449.22,529.34 449.22,529.46 449.22,529.75 C449.22,530.04 449.22,530.75 449.22,531.05 C449.22,531.34 449.06,531.7 449.22,531.7Z" fill="#f0938d" stroke="#151515" stroke-width="0.36"/>
<line x1="447.62" y1="525.86" x2="448.82" y2="525.86" stroke="#111" stroke-width="0.5"/>
<line x1="449.62" y1="525.86" x2="450.82" y2="525.86" stroke="#111" stroke-width="0.5"/>
<circle cx="450.22" cy="525.86" r="0.45" fill="#000"/>
<text x="449.22" y="470.2" font-size="6.9" text-anchor="middle" fill="#111" stroke="#111" stroke-width="0.2">***</text>
<line x1="387.3" y1="532" x2="387.3" y2="534.2" stroke="#333" stroke-width="0.5"/>
<text x="386.85" y="535.6" font-size="6.9" text-anchor="end" fill="#333" stroke="#333" stroke-width="0.2" transform="rotate(-45 386.85 535.6)" dominant-baseline="hanging">C3+ Macro</text>
<line x1="397.62" y1="532" x2="397.62" y2="534.2" stroke="#333" stroke-width="0.5"/>
<text x="397.17" y="535.6" font-size="6.9" text-anchor="end" fill="#333" stroke="#333" stroke-width="0.2" transform="rotate(-45 397.17 535.6)" dominant-baseline="hanging">CD163L1+ Macro</text>
<line x1="407.94" y1="532" x2="407.94" y2="534.2" stroke="#333" stroke-width="0.5"/>
<text x="407.49" y="535.6" font-size="6.9" text-anchor="end" fill="#333" stroke="#333" stroke-width="0.2" transform="rotate(-45 407.49 535.6)" dominant-baseline="hanging">CXCL5+ Macro</text>
<line x1="418.26" y1="532" x2="418.26" y2="534.2" stroke="#333" stroke-width="0.5"/>
<text x="417.81" y="535.6" font-size="6.9" text-anchor="end" fill="#333" stroke="#333" stroke-width="0.2" transform="rotate(-45 417.81 535.6)" dominant-baseline="hanging">FCN1+ Mono</text>
<line x1="428.58" y1="532" x2="428.58" y2="534.2" stroke="#333" stroke-width="0.5"/>
<text x="428.13" y="535.6" font-size="6.9" text-anchor="end" fill="#333" stroke="#333" stroke-width="0.2" transform="rotate(-45 428.13 535.6)" dominant-baseline="hanging">PLK1+ Macro</text>
<line x1="438.9" y1="532" x2="438.9" y2="534.2" stroke="#333" stroke-width="0.5"/>
<text x="438.45" y="535.6" font-size="6.9" text-anchor="end" fill="#333" stroke="#333" stroke-width="0.2" transform="rotate(-45 438.45 535.6)" dominant-baseline="hanging">SPP1+ Macro</text>
<line x1="449.22" y1="532" x2="449.22" y2="534.2" stroke="#333" stroke-width="0.5"/>
<text x="448.77" y="535.6" font-size="6.9" text-anchor="end" fill="#333" stroke="#333" stroke-width="0.2" transform="rotate(-45 448.77 535.6)" dominant-baseline="hanging">TRPM2+ Macro</text>
<rect x="476.6" y="452.5" width="73.8" height="8.8" fill="#d9d9d9" stroke="#333" stroke-width="0.6"/>
<text x="513.5" y="459" font-size="6.9" font-weight="bold" text-anchor="middle" fill="#1a1a1a" stroke="#1a1a1a" stroke-width="0.2">M2</text>
<rect x="476.6" y="461.3" width="73.8" height="70.7" fill="none" stroke="#b3b3b3" stroke-width="0.6"/>
<line x1="476.6" y1="461.3" x2="476.6" y2="532.3" stroke="#2e2e2e" stroke-width="0.75"/>
<line x1="476.3" y1="532" x2="550.4" y2="532" stroke="#2e2e2e" stroke-width="0.75"/>
<line x1="474.3" y1="529.1" x2="476.6" y2="529.1" stroke="#2e2e2e" stroke-width="0.6"/>
<text x="471.4" y="531.55" font-size="6.9" text-anchor="end" fill="#4d4d4d" stroke="#4d4d4d" stroke-width="0.2">0.00</text>
<line x1="474.3" y1="512.88" x2="476.6" y2="512.88" stroke="#2e2e2e" stroke-width="0.6"/>
<text x="471.4" y="515.33" font-size="6.9" text-anchor="end" fill="#4d4d4d" stroke="#4d4d4d" stroke-width="0.2">0.25</text>
<line x1="474.3" y1="496.65" x2="476.6" y2="496.65" stroke="#2e2e2e" stroke-width="0.6"/>
<text x="471.4" y="499.1" font-size="6.9" text-anchor="end" fill="#4d4d4d" stroke="#4d4d4d" stroke-width="0.2">0.50</text>
<line x1="474.3" y1="480.43" x2="476.6" y2="480.43" stroke="#2e2e2e" stroke-width="0.6"/>
<text x="471.4" y="482.88" font-size="6.9" text-anchor="end" fill="#4d4d4d" stroke="#4d4d4d" stroke-width="0.2">0.75</text>
<line x1="474.3" y1="464.2" x2="476.6" y2="464.2" stroke="#2e2e2e" stroke-width="0.6"/>
<text x="471.4" y="466.65" font-size="6.9" text-anchor="end" fill="#4d4d4d" stroke="#4d4d4d" stroke-width="0.2">1.00</text>
<path d="M482.6,527.15 C482.6,526.47 482.6,524.88 482.6,523.91 C482.6,522.93 482.6,521.44 482.6,520.66 C482.6,519.88 482.6,519.4 482.6,518.72 C482.6,518.03 482.6,516.9 482.6,516.12 C482.6,515.34 482.6,514.21 482.6,513.52 C482.6,512.84 482.6,512.16 482.6,511.58 C482.6,510.99 482.62,509.63 482.6,509.63 C482.58,509.63 482.59,510.99 482.48,511.58 C482.37,512.16 482.15,512.84 481.85,513.52 C481.55,514.21 480.84,515.34 480.5,516.12 C480.16,516.9 479.67,518.03 479.6,518.72 C479.53,519.4 479.82,519.88 480.05,520.66 C480.28,521.44 480.8,522.93 481.1,523.91 C481.4,524.88 481.85,526.47 482.08,527.15 C482.3,527.83 482.52,528.45 482.6,528.45 C482.68,528.45 482.6,527.83 482.6,527.15Z" fill="#84a9ec" stroke="#151515" stroke-width="0.36"/>
<path d="M482.6,528.45 C482.68,528.45 482.9,527.83 483.12,527.15 C483.35,526.47 483.8,524.88 484.1,523.91 C484.4,522.93 484.93,521.44 485.15,520.66 C485.38,519.88 485.67,519.4 485.6,518.72 C485.53,518.03 485.04,516.9 484.7,516.12 C484.36,515.34 483.65,514.21 483.35,513.52 C483.05,512.84 482.83,512.16 482.72,511.58 C482.61,510.99 482.62,509.63 482.6,509.63 C482.58,509.63 482.6,510.99 482.6,511.58 C482.6,512.16 482.6,512.84 482.6,513.52 C482.6,514.21 482.6,515.34 482.6,516.12 C482.6,516.9 482.6,518.03 482.6,518.72 C482.6,519.4 482.6,519.88 482.6,520.66 C482.6,521.44 482.6,522.93 482.6,523.91 C482.6,524.88 482.6,526.47 482.6,527.15 C482.6,527.83 482.52,528.45 482.6,528.45Z" fill="#f0938d" stroke="#151515" stroke-width="0.36"/>
<line x1="481" y1="518.72" x2="482.2" y2="518.72" stroke="#111" stroke-width="0.5"/>
<line x1="483" y1="518.72" x2="484.2" y2="518.72" stroke="#111" stroke-width="0.5"/>
<circle cx="483.6" cy="518.72" r="0.45" fill="#000"/>
<text x="482.6" y="470.2" font-size="6.9" text-anchor="middle" fill="#111" stroke="#111" stroke-width="0.2">**</text>
<path d="M492.92,526.5 C492.92,525.88 492.92,524.23 492.92,523.26 C492.92,522.29 492.92,520.94 492.92,520.01 C492.92,519.09 492.92,517.97 492.92,517.09 C492.92,516.22 492.92,515 492.92,514.17 C492.92,513.35 492.92,512.36 492.92,511.58 C492.92,510.8 492.92,510.15 492.92,508.98 C492.92,507.81 492.95,503.79 492.92,503.79 C492.89,503.79 492.88,507.81 492.75,508.98 C492.61,510.15 492.31,510.8 492.02,511.58 C491.73,512.36 491.13,513.35 490.82,514.17 C490.5,515 489.94,516.22 489.92,517.09 C489.9,517.97 490.38,519.09 490.67,520.01 C490.96,520.94 491.58,522.29 491.87,523.26 C492.16,524.23 492.43,525.88 492.59,526.5 C492.75,527.13 492.87,527.41 492.92,527.41 C492.97,527.41 492.92,527.13 492.92,526.5Z" fill="#84a9ec" stroke="#151515" stroke-width="0.36"/>
<path d="M492.92,527.41 C492.97,527.41 493.09,527.13 493.25,526.5 C493.41,525.88 493.68,524.23 493.97,523.26 C494.26,522.29 494.88,520.94 495.17,520.01 C495.46,519.09 495.94,517.97 495.92,517.09 C495.9,516.22 495.34,515 495.02,514.17 C494.71,513.35 494.11,512.36 493.82,511.58 C493.53,510.8 493.23,510.15 493.09,508.98 C492.96,507.81 492.95,503.79 492.92,503.79 C492.89,503.79 492.92,507.81 492.92,508.98 C492.92,510.15 492.92,510.8 492.92,511.58 C492.92,512.36 492.92,513.35 492.92,514.17 C492.92,515 492.92,516.22 492.92,517.09 C492.92,517.97 492.92,519.09 492.92,520.01 C492.92,520.94 492.92,522.29 492.92,523.26 C492.92,524.23 492.92,525.88 492.92,526.5 C492.92,527.13 492.87,527.41 492.92,527.41Z" fill="#f0938d" stroke="#151515" stroke-width="0.36"/>
<line x1="491.32" y1="517.42" x2="492.52" y2="517.42" stroke="#111" stroke-width="0.5"/>
<line x1="493.32" y1="517.42" x2="494.52" y2="517.42" stroke="#111" stroke-width="0.5"/>
<circle cx="493.92" cy="517.42" r="0.45" fill="#000"/>
<text x="492.92" y="470.2" font-size="6.9" text-anchor="middle" fill="#111" stroke="#111" stroke-width="0.2">*</text>
<path d="M503.24,529.1 C503.24,528.49 503.24,526.93 503.24,525.86 C503.24,524.78 503.24,523.21 503.24,521.96 C503.24,520.71 503.24,518.72 503.24,517.55 C503.24,516.38 503.24,515.17 503.24,514.17 C503.24,513.18 503.24,511.8 503.24,510.93 C503.24,510.05 503.24,509.4 503.24,508.33 C503.24,507.26 503.27,503.79 503.24,503.79 C503.21,503.79 503.2,507.26 503.07,508.33 C502.93,509.4 502.65,510.05 502.34,510.93 C502.03,511.8 501.31,513.18 500.99,514.17 C500.68,515.17 500.22,516.38 500.24,517.55 C500.26,518.72 500.82,520.71 501.14,521.96 C501.45,523.21 502.07,524.78 502.34,525.86 C502.61,526.93 502.77,528.49 502.91,529.1 C503.04,529.71 503.19,529.94 503.24,529.94 C503.29,529.94 503.24,529.71 503.24,529.1Z" fill="#84a9ec" stroke="#151515" stroke-width="0.36"/>
<path d="M503.24,529.94 C503.29,529.94 503.44,529.71 503.57,529.1 C503.71,528.49 503.87,526.93 504.14,525.86 C504.41,524.78 505.03,523.21 505.34,521.96 C505.66,520.71 506.22,518.72 506.24,517.55 C506.26,516.38 505.81,515.17 505.49,514.17 C505.18,513.18 504.45,511.8 504.14,510.93 C503.83,510.05 503.55,509.4 503.41,508.33 C503.28,507.26 503.27,503.79 503.24,503.79 C503.21,503.79 503.24,507.26 503.24,508.33 C503.24,509.4 503.24,510.05 503.24,510.93 C503.24,511.8 503.24,513.18 503.24,514.17 C503.24,515.17 503.24,516.38 503.24,517.55 C503.24,518.72 503.24,520.71 503.24,521.96 C503.24,523.21 503.24,524.78 503.24,525.86 C503.24,526.93 503.24,528.49 503.24,529.1 C503.24,529.71 503.19,529.94 503.24,529.94Z" fill="#f0938d" stroke="#151515" stroke-width="0.36"/>
<line x1="501.64" y1="518.07" x2="502.84" y2="518.07" stroke="#111" stroke-width="0.5"/>
<line x1="503.64" y1="518.07" x2="504.84" y2="518.07" stroke="#111" stroke-width="0.5"/>
<circle cx="504.24" cy="518.07" r="0.45" fill="#000"/>
<text x="503.24" y="470.2" font-size="6.9" text-anchor="middle" fill="#111" stroke="#111" stroke-width="0.2">***</text>
<path d="M513.56,529.75 C513.56,529.26 513.56,528.03 513.56,527.15 C513.56,526.28 513.56,524.75 513.56,523.91 C513.56,523.06 513.56,522.19 513.56,521.51 C513.56,520.83 513.56,520.08 513.56,519.37 C513.56,518.65 513.56,517.45 513.56,516.77 C513.56,516.09 513.56,515.6 513.56,514.82 C513.56,514.04 513.58,511.58 513.56,511.58 C513.54,511.58 513.57,514.04 513.44,514.82 C513.3,515.6 512.96,516.09 512.66,516.77 C512.36,517.45 511.78,518.65 511.46,519.37 C511.15,520.08 510.61,520.83 510.56,521.51 C510.52,522.19 510.87,523.06 511.16,523.91 C511.45,524.75 512.18,526.28 512.51,527.15 C512.84,528.03 513.23,529.26 513.39,529.75 C513.54,530.24 513.53,530.4 513.56,530.4 C513.59,530.4 513.56,530.24 513.56,529.75Z" fill="#84a9ec" stroke="#151515" stroke-width="0.36"/>
<path d="M513.56,530.4 C513.59,530.4 513.58,530.24 513.73,529.75 C513.89,529.26 514.28,528.03 514.61,527.15 C514.94,526.28 515.67,524.75 515.96,523.91 C516.25,523.06 516.61,522.19 516.56,521.51 C516.52,520.83 515.98,520.08 515.66,519.37 C515.35,518.65 514.76,517.45 514.46,516.77 C514.16,516.09 513.82,515.6 513.68,514.82 C513.55,514.04 513.58,511.58 513.56,511.58 C513.54,511.58 513.56,514.04 513.56,514.82 C513.56,515.6 513.56,516.09 513.56,516.77 C513.56,517.45 513.56,518.65 513.56,519.37 C513.56,520.08 513.56,520.83 513.56,521.51 C513.56,522.19 513.56,523.06 513.56,523.91 C513.56,524.75 513.56,526.28 513.56,527.15 C513.56,528.03 513.56,529.26 513.56,529.75 C513.56,530.24 513.53,530.4 513.56,530.4Z" fill="#f0938d" stroke="#151515" stroke-width="0.36"/>
<line x1="511.96" y1="521.51" x2="513.16" y2="521.51" stroke="#111" stroke-width="0.5"/>
<line x1="513.96" y1="521.51" x2="515.16" y2="521.51" stroke="#111" stroke-width="0.5"/>
<circle cx="514.56" cy="521.51" r="0.45" fill="#000"/>
<text x="513.56" y="470.2" font-size="6.9" text-anchor="middle" fill="#111" stroke="#111" stroke-width="0.2">***</text>
<path d="M523.88,531.05 C523.88,530.27 523.88,528.42 523.88,527.15 C523.88,525.89 523.88,523.88 523.88,522.61 C523.88,521.34 523.88,519.79 523.88,518.72 C523.88,517.65 523.88,516.44 523.88,515.47 C523.88,514.5 523.88,513.1 523.88,512.23 C523.88,511.35 523.88,510.67 523.88,509.63 C523.88,508.59 523.9,505.28 523.88,505.28 C523.86,505.28 523.89,508.59 523.76,509.63 C523.62,510.67 523.28,511.35 522.98,512.23 C522.68,513.1 522.1,514.5 521.78,515.47 C521.46,516.44 520.92,517.65 520.88,518.72 C520.84,519.79 521.19,521.34 521.48,522.61 C521.77,523.88 522.5,525.89 522.83,527.15 C523.16,528.42 523.55,530.27 523.71,531.05 C523.86,531.83 523.85,532.35 523.88,532.35 C523.91,532.35 523.88,531.83 523.88,531.05Z" fill="#84a9ec" stroke="#151515" stroke-width="0.36"/>
<path d="M523.88,532.35 C523.91,532.35 523.9,531.83 524.05,531.05 C524.21,530.27 524.6,528.42 524.93,527.15 C525.26,525.89 525.99,523.88 526.28,522.61 C526.57,521.34 526.92,519.79 526.88,518.72 C526.84,517.65 526.3,516.44 525.98,515.47 C525.66,514.5 525.08,513.1 524.78,512.23 C524.48,511.35 524.14,510.67 524,509.63 C523.87,508.59 523.9,505.28 523.88,505.28 C523.86,505.28 523.88,508.59 523.88,509.63 C523.88,510.67 523.88,511.35 523.88,512.23 C523.88,513.1 523.88,514.5 523.88,515.47 C523.88,516.44 523.88,517.65 523.88,518.72 C523.88,519.79 523.88,521.34 523.88,522.61 C523.88,523.88 523.88,525.89 523.88,527.15 C523.88,528.42 523.88,530.27 523.88,531.05 C523.88,531.83 523.85,532.35 523.88,532.35Z" fill="#f0938d" stroke="#151515" stroke-width="0.36"/>
<line x1="522.28" y1="518.72" x2="523.48" y2="518.72" stroke="#111" stroke-width="0.5"/>
<line x1="524.28" y1="518.72" x2="525.48" y2="518.72" stroke="#111" stroke-width="0.5"/>
<circle cx="524.88" cy="518.72" r="0.45" fill="#000"/>
<text x="523.88" y="470.2" font-size="6.9" text-anchor="middle" fill="#111" stroke="#111" stroke-width="0.2">-</text>
<path d="M534.2,523.91 C534.2,523.09 534.2,521.08 534.2,520.01 C534.2,518.94 534.2,517.5 534.2,516.77 C534.2,516.04 534.2,515.73 534.2,515.15 C534.2,514.56 534.2,513.61 534.2,512.88 C534.2,512.14 534.2,511.06 534.2,510.28 C534.2,509.5 534.2,508.75 534.2,507.68 C534.2,506.61 534.22,503.14 534.2,503.14 C534.18,503.14 534.21,506.61 534.08,507.68 C533.94,508.75 533.6,509.5 533.3,510.28 C533,511.06 532.42,512.14 532.1,512.88 C531.78,513.61 531.27,514.56 531.2,515.15 C531.13,515.73 531.4,516.04 531.65,516.77 C531.9,517.5 532.52,518.94 532.85,520.01 C533.18,521.08 533.67,523.09 533.87,523.91 C534.07,524.73 534.15,525.47 534.2,525.47 C534.25,525.47 534.2,524.73 534.2,523.91Z" fill="#84a9ec" stroke="#151515" stroke-width="0.36"/>
<path d="M534.2,525.47 C534.25,525.47 534.33,524.73 534.53,523.91 C534.73,523.09 535.22,521.08 535.55,520.01 C535.88,518.94 536.5,517.5 536.75,516.77 C537,516.04 537.27,515.73 537.2,515.15 C537.13,514.56 536.62,513.61 536.3,512.88 C535.99,512.14 535.4,511.06 535.1,510.28 C534.8,509.5 534.46,508.75 534.32,507.68 C534.19,506.61 534.22,503.14 534.2,503.14 C534.18,503.14 534.2,506.61 534.2,507.68 C534.2,508.75 534.2,509.5 534.2,510.28 C534.2,511.06 534.2,512.14 534.2,512.88 C534.2,513.61 534.2,514.56 534.2,515.15 C534.2,515.73 534.2,516.04 534.2,516.77 C534.2,517.5 534.2,518.94 534.2,520.01 C534.2,521.08 534.2,523.09 534.2,523.91 C534.2,524.73 534.15,525.47 534.2,525.47Z" fill="#f0938d" stroke="#151515" stroke-width="0.36"/>
<line x1="532.6" y1="515.47" x2="533.8" y2="515.47" stroke="#111" stroke-width="0.5"/>
<line x1="534.6" y1="515.47" x2="535.8" y2="515.47" stroke="#111" stroke-width="0.5"/>
<circle cx="535.2" cy="515.47" r="0.45" fill="#000"/>
<text x="534.2" y="470.2" font-size="6.9" text-anchor="middle" fill="#111" stroke="#111" stroke-width="0.2">-</text>
<path d="M544.52,530.4 C544.52,529.77 544.52,528.13 544.52,527.15 C544.52,526.18 544.52,524.82 544.52,523.91 C544.52,522.99 544.52,521.93 544.52,521.05 C544.52,520.18 544.52,518.9 544.52,518.07 C544.52,517.23 544.52,516.25 544.52,515.47 C544.52,514.69 544.52,513.85 544.52,512.88 C544.52,511.9 544.54,508.98 544.52,508.98 C544.5,508.98 544.51,511.9 544.4,512.88 C544.29,513.85 544.04,514.69 543.77,515.47 C543.5,516.25 542.91,517.23 542.57,518.07 C542.23,518.9 541.59,520.18 541.52,521.05 C541.45,521.93 541.87,522.99 542.12,523.91 C542.37,524.82 542.84,526.18 543.17,527.15 C543.5,528.13 544.14,529.77 544.35,530.4 C544.55,531.03 544.49,531.37 544.52,531.37 C544.55,531.37 544.52,531.03 544.52,530.4Z" fill="#84a9ec" stroke="#151515" stroke-width="0.36"/>
<path d="M544.52,531.37 C544.55,531.37 544.49,531.03 544.69,530.4 C544.9,529.77 545.54,528.13 545.87,527.15 C546.2,526.18 546.67,524.82 546.92,523.91 C547.17,522.99 547.59,521.93 547.52,521.05 C547.45,520.18 546.81,518.9 546.47,518.07 C546.13,517.23 545.54,516.25 545.27,515.47 C545,514.69 544.75,513.85 544.64,512.88 C544.53,511.9 544.54,508.98 544.52,508.98 C544.5,508.98 544.52,511.9 544.52,512.88 C544.52,513.85 544.52,514.69 544.52,515.47 C544.52,516.25 544.52,517.23 544.52,518.07 C544.52,518.9 544.52,520.18 544.52,521.05 C544.52,521.93 544.52,522.99 544.52,523.91 C544.52,524.82 544.52,526.18 544.52,527.15 C544.52,528.13 544.52,529.77 544.52,530.4 C544.52,531.03 544.49,531.37 544.52,531.37Z" fill="#f0938d" stroke="#151515" stroke-width="0.36"/>
<line x1="542.92" y1="520.99" x2="544.12" y2="520.99" stroke="#111" stroke-width="0.5"/>
<line x1="544.92" y1="520.99" x2="546.12" y2="520.99" stroke="#111" stroke-width="0.5"/>
<circle cx="545.52" cy="520.99" r="0.45" fill="#000"/>
<text x="544.52" y="470.2" font-size="6.9" text-anchor="middle" fill="#111" stroke="#111" stroke-width="0.2">*</text>
<line x1="482.6" y1="532" x2="482.6" y2="534.2" stroke="#333" stroke-width="0.5"/>
<text x="482.15" y="535.6" font-size="6.9" text-anchor="end" fill="#333" stroke="#333" stroke-width="0.2" transform="rotate(-45 482.15 535.6)" dominant-baseline="hanging">C3+ Macro</text>
<line x1="492.92" y1="532" x2="492.92" y2="534.2" stroke="#333" stroke-width="0.5"/>
<text x="492.47" y="535.6" font-size="6.9" text-anchor="end" fill="#333" stroke="#333" stroke-width="0.2" transform="rotate(-45 492.47 535.6)" dominant-baseline="hanging">CD163L1+ Macro</text>
<line x1="503.24" y1="532" x2="503.24" y2="534.2" stroke="#333" stroke-width="0.5"/>
<text x="502.79" y="535.6" font-size="6.9" text-anchor="end" fill="#333" stroke="#333" stroke-width="0.2" transform="rotate(-45 502.79 535.6)" dominant-baseline="hanging">CXCL5+ Macro</text>
<line x1="513.56" y1="532" x2="513.56" y2="534.2" stroke="#333" stroke-width="0.5"/>
<text x="513.11" y="535.6" font-size="6.9" text-anchor="end" fill="#333" stroke="#333" stroke-width="0.2" transform="rotate(-45 513.11 535.6)" dominant-baseline="hanging">FCN1+ Mono</text>
<line x1="523.88" y1="532" x2="523.88" y2="534.2" stroke="#333" stroke-width="0.5"/>
<text x="523.43" y="535.6" font-size="6.9" text-anchor="end" fill="#333" stroke="#333" stroke-width="0.2" transform="rotate(-45 523.43 535.6)" dominant-baseline="hanging">PLK1+ Macro</text>
<line x1="534.2" y1="532" x2="534.2" y2="534.2" stroke="#333" stroke-width="0.5"/>
<text x="533.75" y="535.6" font-size="6.9" text-anchor="end" fill="#333" stroke="#333" stroke-width="0.2" transform="rotate(-45 533.75 535.6)" dominant-baseline="hanging">SPP1+ Macro</text>
<line x1="544.52" y1="532" x2="544.52" y2="534.2" stroke="#333" stroke-width="0.5"/>
<text x="544.07" y="535.6" font-size="6.9" text-anchor="end" fill="#333" stroke="#333" stroke-width="0.2" transform="rotate(-45 544.07 535.6)" dominant-baseline="hanging">TRPM2+ Macro</text>
<rect x="571.4" y="452.5" width="74.3" height="8.8" fill="#d9d9d9" stroke="#333" stroke-width="0.6"/>
<text x="608.55" y="459" font-size="6.9" font-weight="bold" text-anchor="middle" fill="#1a1a1a" stroke="#1a1a1a" stroke-width="0.2">Phagocytosis</text>
<rect x="571.4" y="461.3" width="74.3" height="70.7" fill="none" stroke="#b3b3b3" stroke-width="0.6"/>
<line x1="571.4" y1="461.3" x2="571.4" y2="532.3" stroke="#2e2e2e" stroke-width="0.75"/>
<line x1="571.1" y1="532" x2="645.7" y2="532" stroke="#2e2e2e" stroke-width="0.75"/>
<line x1="569.1" y1="529.1" x2="571.4" y2="529.1" stroke="#2e2e2e" stroke-width="0.6"/>
<text x="566.2" y="531.55" font-size="6.9" text-anchor="end" fill="#4d4d4d" stroke="#4d4d4d" stroke-width="0.2">0.00</text>
<line x1="569.1" y1="512.88" x2="571.4" y2="512.88" stroke="#2e2e2e" stroke-width="0.6"/>
<text x="566.2" y="515.33" font-size="6.9" text-anchor="end" fill="#4d4d4d" stroke="#4d4d4d" stroke-width="0.2">0.25</text>
<line x1="569.1" y1="496.65" x2="571.4" y2="496.65" stroke="#2e2e2e" stroke-width="0.6"/>
<text x="566.2" y="499.1" font-size="6.9" text-anchor="end" fill="#4d4d4d" stroke="#4d4d4d" stroke-width="0.2">0.50</text>
<line x1="569.1" y1="480.43" x2="571.4" y2="480.43" stroke="#2e2e2e" stroke-width="0.6"/>
<text x="566.2" y="482.88" font-size="6.9" text-anchor="end" fill="#4d4d4d" stroke="#4d4d4d" stroke-width="0.2">0.75</text>
<line x1="569.1" y1="464.2" x2="571.4" y2="464.2" stroke="#2e2e2e" stroke-width="0.6"/>
<text x="566.2" y="466.65" font-size="6.9" text-anchor="end" fill="#4d4d4d" stroke="#4d4d4d" stroke-width="0.2">1.00</text>
<path d="M577.4,529.1 C577.4,527.35 577.4,522.09 577.4,519.37 C577.4,516.64 577.4,513.36 577.4,510.93 C577.4,508.49 577.4,505.28 577.4,503.14 C577.4,501 577.4,499.08 577.4,496.65 C577.4,494.22 577.4,489.84 577.4,486.92 C577.4,483.99 577.4,480.3 577.4,477.18 C577.4,474.06 577.43,466.15 577.4,466.15 C577.37,466.15 577.31,474.06 577.19,477.18 C577.07,480.3 576.8,483.99 576.59,486.92 C576.38,489.84 575.98,494.22 575.78,496.65 C575.58,499.08 575.36,501 575.24,503.14 C575.12,505.28 574.89,508.49 574.97,510.93 C575.05,513.36 575.54,516.64 575.78,519.37 C576.02,522.09 576.35,527.35 576.59,529.1 C576.83,530.85 577.28,531.05 577.4,531.05 C577.52,531.05 577.4,530.85 577.4,529.1Z" fill="#84a9ec" stroke="#151515" stroke-width="0.36"/>
<path d="M577.4,531.05 C577.52,531.05 577.97,530.85 578.21,529.1 C578.45,527.35 578.78,522.09 579.02,519.37 C579.26,516.64 579.75,513.36 579.83,510.93 C579.91,508.49 579.68,505.28 579.56,503.14 C579.44,501 579.22,499.08 579.02,496.65 C578.82,494.22 578.42,489.84 578.21,486.92 C578,483.99 577.73,480.3 577.61,477.18 C577.49,474.06 577.43,466.15 577.4,466.15 C577.37,466.15 577.4,474.06 577.4,477.18 C577.4,480.3 577.4,483.99 577.4,486.92 C577.4,489.84 577.4,494.22 577.4,496.65 C577.4,499.08 577.4,501 577.4,503.14 C577.4,505.28 577.4,508.49 577.4,510.93 C577.4,513.36 577.4,516.64 577.4,519.37 C577.4,522.09 577.4,527.35 577.4,529.1 C577.4,530.85 577.28,531.05 577.4,531.05Z" fill="#f0938d" stroke="#151515" stroke-width="0.36"/>
<line x1="575.8" y1="510.93" x2="577" y2="510.93" stroke="#111" stroke-width="0.5"/>
<line x1="577.8" y1="510.93" x2="579" y2="510.93" stroke="#111" stroke-width="0.5"/>
<circle cx="578.4" cy="510.93" r="0.45" fill="#000"/>
<path d="M587.72,516.12 C587.72,513.2 587.72,506.55 587.72,503.14 C587.72,499.73 587.72,496.13 587.72,493.41 C587.72,490.68 587.72,487.4 587.72,484.97 C587.72,482.53 587.72,479.32 587.72,477.18 C587.72,475.04 587.72,472.64 587.72,470.69 C587.72,468.74 587.84,464.2 587.72,464.2 C587.6,464.2 587.19,468.74 586.91,470.69 C586.63,472.64 586.11,475.04 585.83,477.18 C585.55,479.32 585.02,482.53 585.02,484.97 C585.02,487.4 585.57,490.68 585.83,493.41 C586.09,496.13 586.54,499.73 586.77,503.14 C587.01,506.55 587.28,513.2 587.42,516.12 C587.56,519.04 587.68,522.61 587.72,522.61 C587.76,522.61 587.72,519.04 587.72,516.12Z" fill="#84a9ec" stroke="#151515" stroke-width="0.36"/>
<path d="M587.72,522.61 C587.76,522.61 587.88,519.04 588.02,516.12 C588.16,513.2 588.43,506.55 588.67,503.14 C588.9,499.73 589.35,496.13 589.61,493.41 C589.87,490.68 590.42,487.4 590.42,484.97 C590.42,482.53 589.89,479.32 589.61,477.18 C589.33,475.04 588.81,472.64 588.53,470.69 C588.25,468.74 587.84,464.2 587.72,464.2 C587.6,464.2 587.72,468.74 587.72,470.69 C587.72,472.64 587.72,475.04 587.72,477.18 C587.72,479.32 587.72,482.53 587.72,484.97 C587.72,487.4 587.72,490.68 587.72,493.41 C587.72,496.13 587.72,499.73 587.72,503.14 C587.72,506.55 587.72,513.2 587.72,516.12 C587.72,519.04 587.68,522.61 587.72,522.61Z" fill="#f0938d" stroke="#151515" stroke-width="0.36"/>
<line x1="586.12" y1="484.97" x2="587.32" y2="484.97" stroke="#111" stroke-width="0.5"/>
<line x1="588.12" y1="484.97" x2="589.32" y2="484.97" stroke="#111" stroke-width="0.5"/>
<circle cx="588.72" cy="484.97" r="0.45" fill="#000"/>
<path d="M598.04,531.05 C598.04,530.07 598.04,527.61 598.04,525.86 C598.04,524.1 598.04,521.8 598.04,519.37 C598.04,516.93 598.04,513.04 598.04,509.63 C598.04,506.22 598.04,501.52 598.04,496.65 C598.04,491.78 598.04,482.05 598.04,477.18 C598.04,472.31 598.05,464.2 598.04,464.2 C598.03,464.2 598.02,472.31 598,477.18 C597.99,482.05 598,491.78 597.93,496.65 C597.87,501.52 597.75,506.22 597.57,509.63 C597.38,513.04 596.92,516.93 596.69,519.37 C596.46,521.8 596.01,524.1 596.01,525.86 C596.01,527.61 596.39,530.07 596.69,531.05 C596.99,532.02 597.84,532.35 598.04,532.35 C598.24,532.35 598.04,532.02 598.04,531.05Z" fill="#84a9ec" stroke="#151515" stroke-width="0.36"/>
<path d="M598.04,532.35 C598.24,532.35 599.09,532.02 599.39,531.05 C599.69,530.07 600.06,527.61 600.06,525.86 C600.06,524.1 599.62,521.8 599.39,519.37 C599.16,516.93 598.7,513.04 598.51,509.63 C598.33,506.22 598.21,501.52 598.15,496.65 C598.08,491.78 598.09,482.05 598.08,477.18 C598.06,472.31 598.05,464.2 598.04,464.2 C598.03,464.2 598.04,472.31 598.04,477.18 C598.04,482.05 598.04,491.78 598.04,496.65 C598.04,501.52 598.04,506.22 598.04,509.63 C598.04,513.04 598.04,516.93 598.04,519.37 C598.04,521.8 598.04,524.1 598.04,525.86 C598.04,527.61 598.04,530.07 598.04,531.05 C598.04,532.02 597.84,532.35 598.04,532.35Z" fill="#f0938d" stroke="#151515" stroke-width="0.36"/>
<line x1="596.44" y1="525.86" x2="597.64" y2="525.86" stroke="#111" stroke-width="0.5"/>
<line x1="598.44" y1="525.86" x2="599.64" y2="525.86" stroke="#111" stroke-width="0.5"/>
<circle cx="599.04" cy="525.86" r="0.45" fill="#000"/>
<text x="598.04" y="470.2" font-size="6.9" text-anchor="middle" fill="#111" stroke="#111" stroke-width="0.2">***</text>
<path d="M608.36,531.7 C608.36,531.01 608.36,529.16 608.36,527.8 C608.36,526.44 608.36,524.17 608.36,522.61 C608.36,521.05 608.36,519.37 608.36,517.42 C608.36,515.47 608.36,512.75 608.36,509.63 C608.36,506.51 608.36,501.03 608.36,496.65 C608.36,492.27 608.37,480.43 608.36,480.43 C608.35,480.43 608.36,492.27 608.29,496.65 C608.22,501.03 608.12,506.51 607.89,509.63 C607.65,512.75 607.11,515.47 606.74,517.42 C606.37,519.37 605.69,521.05 605.39,522.61 C605.09,524.17 604.51,526.44 604.72,527.8 C604.92,529.16 606.19,531.01 606.74,531.7 C607.29,532.38 608.12,532.35 608.36,532.35 C608.6,532.35 608.36,532.38 608.36,531.7Z" fill="#84a9ec" stroke="#151515" stroke-width="0.36"/>
<path d="M608.36,532.35 C608.6,532.35 609.43,532.38 609.98,531.7 C610.53,531.01 611.8,529.16 612,527.8 C612.21,526.44 611.63,524.17 611.33,522.61 C611.03,521.05 610.35,519.37 609.98,517.42 C609.61,515.47 609.07,512.75 608.83,509.63 C608.6,506.51 608.5,501.03 608.43,496.65 C608.36,492.27 608.37,480.43 608.36,480.43 C608.35,480.43 608.36,492.27 608.36,496.65 C608.36,501.03 608.36,506.51 608.36,509.63 C608.36,512.75 608.36,515.47 608.36,517.42 C608.36,519.37 608.36,521.05 608.36,522.61 C608.36,524.17 608.36,526.44 608.36,527.8 C608.36,529.16 608.36,531.01 608.36,531.7 C608.36,532.38 608.12,532.35 608.36,532.35Z" fill="#f0938d" stroke="#151515" stroke-width="0.36"/>
<line x1="606.76" y1="529.1" x2="607.96" y2="529.1" stroke="#111" stroke-width="0.5"/>
<line x1="608.76" y1="529.1" x2="609.96" y2="529.1" stroke="#111" stroke-width="0.5"/>
<circle cx="609.36" cy="529.1" r="0.45" fill="#000"/>
<text x="608.36" y="470.2" font-size="6.9" text-anchor="middle" fill="#111" stroke="#111" stroke-width="0.2">**</text>
<path d="M618.68,529.1 C618.68,527.35 618.68,522.29 618.68,519.37 C618.68,516.44 618.68,512.55 618.68,509.63 C618.68,506.71 618.68,502.82 618.68,499.9 C618.68,496.97 618.68,493.08 618.68,490.16 C618.68,487.24 618.68,483.35 618.68,480.43 C618.68,477.5 618.68,472.93 618.68,470.69 C618.68,468.45 618.7,465.5 618.68,465.5 C618.66,465.5 618.65,468.45 618.52,470.69 C618.4,472.93 618.09,477.5 617.87,480.43 C617.65,483.35 617.28,487.24 617.06,490.16 C616.84,493.08 616.47,496.97 616.38,499.9 C616.3,502.82 616.38,506.71 616.52,509.63 C616.66,512.55 617.08,516.44 617.33,519.37 C617.58,522.29 618.01,527.35 618.21,529.1 C618.41,530.85 618.61,531.05 618.68,531.05 C618.75,531.05 618.68,530.85 618.68,529.1Z" fill="#84a9ec" stroke="#151515" stroke-width="0.36"/>
<path d="M618.68,531.05 C618.75,531.05 618.95,530.85 619.15,529.1 C619.35,527.35 619.78,522.29 620.03,519.37 C620.28,516.44 620.7,512.55 620.84,509.63 C620.98,506.71 621.06,502.82 620.97,499.9 C620.89,496.97 620.52,493.08 620.3,490.16 C620.08,487.24 619.71,483.35 619.49,480.43 C619.27,477.5 618.96,472.93 618.84,470.69 C618.71,468.45 618.7,465.5 618.68,465.5 C618.66,465.5 618.68,468.45 618.68,470.69 C618.68,472.93 618.68,477.5 618.68,480.43 C618.68,483.35 618.68,487.24 618.68,490.16 C618.68,493.08 618.68,496.97 618.68,499.9 C618.68,502.82 618.68,506.71 618.68,509.63 C618.68,512.55 618.68,516.44 618.68,519.37 C618.68,522.29 618.68,527.35 618.68,529.1 C618.68,530.85 618.61,531.05 618.68,531.05Z" fill="#f0938d" stroke="#151515" stroke-width="0.36"/>
<line x1="617.08" y1="507.03" x2="618.28" y2="507.03" stroke="#111" stroke-width="0.5"/>
<line x1="619.08" y1="507.03" x2="620.28" y2="507.03" stroke="#111" stroke-width="0.5"/>
<circle cx="619.68" cy="507.03" r="0.45" fill="#000"/>
<path d="M629,525.86 C629,523.91 629,519.53 629,516.12 C629,512.71 629,506.06 629,503.14 C629,500.22 629,499.08 629,496.65 C629,494.22 629,489.84 629,486.92 C629,483.99 629,479.81 629,477.18 C629,474.55 629,471.34 629,469.39 C629,467.44 629.02,464.2 629,464.2 C628.98,464.2 628.99,467.44 628.84,469.39 C628.7,471.34 628.32,474.55 628.05,477.18 C627.79,479.81 627.33,483.99 627.11,486.92 C626.89,489.84 626.63,494.22 626.57,496.65 C626.51,499.08 626.54,500.22 626.71,503.14 C626.87,506.06 627.38,512.71 627.65,516.12 C627.92,519.53 628.33,523.91 628.53,525.86 C628.73,527.8 628.93,529.1 629,529.1 C629.07,529.1 629,527.8 629,525.86Z" fill="#84a9ec" stroke="#151515" stroke-width="0.36"/>
<path d="M629,529.1 C629.07,529.1 629.27,527.8 629.47,525.86 C629.67,523.91 630.08,519.53 630.35,516.12 C630.62,512.71 631.13,506.06 631.29,503.14 C631.46,500.22 631.49,499.08 631.43,496.65 C631.37,494.22 631.11,489.84 630.89,486.92 C630.67,483.99 630.21,479.81 629.95,477.18 C629.68,474.55 629.3,471.34 629.16,469.39 C629.01,467.44 629.02,464.2 629,464.2 C628.98,464.2 629,467.44 629,469.39 C629,471.34 629,474.55 629,477.18 C629,479.81 629,483.99 629,486.92 C629,489.84 629,494.22 629,496.65 C629,499.08 629,500.22 629,503.14 C629,506.06 629,512.71 629,516.12 C629,519.53 629,523.91 629,525.86 C629,527.8 628.93,529.1 629,529.1Z" fill="#f0938d" stroke="#151515" stroke-width="0.36"/>
<line x1="627.4" y1="497.3" x2="628.6" y2="497.3" stroke="#111" stroke-width="0.5"/>
<line x1="629.4" y1="497.3" x2="630.6" y2="497.3" stroke="#111" stroke-width="0.5"/>
<circle cx="630" cy="497.3" r="0.45" fill="#000"/>
<path d="M639.32,529.1 C639.32,527.35 639.32,522.29 639.32,519.37 C639.32,516.44 639.32,512.26 639.32,509.63 C639.32,507 639.32,504.28 639.32,501.84 C639.32,499.41 639.32,496.13 639.32,493.41 C639.32,490.68 639.32,486.59 639.32,483.67 C639.32,480.75 639.32,476.37 639.32,473.94 C639.32,471.5 639.34,467.45 639.32,467.45 C639.3,467.45 639.28,471.5 639.21,473.94 C639.14,476.37 639.03,480.75 638.85,483.67 C638.66,486.59 638.22,490.68 637.97,493.41 C637.72,496.13 637.32,499.41 637.16,501.84 C637,504.28 636.81,507 636.89,509.63 C636.97,512.26 637.46,516.44 637.7,519.37 C637.94,522.29 638.27,527.35 638.51,529.1 C638.75,530.85 639.2,531.05 639.32,531.05 C639.44,531.05 639.32,530.85 639.32,529.1Z" fill="#84a9ec" stroke="#151515" stroke-width="0.36"/>
<path d="M639.32,531.05 C639.44,531.05 639.89,530.85 640.13,529.1 C640.37,527.35 640.7,522.29 640.94,519.37 C641.18,516.44 641.67,512.26 641.75,509.63 C641.83,507 641.64,504.28 641.48,501.84 C641.32,499.41 640.92,496.13 640.67,493.41 C640.42,490.68 639.98,486.59 639.79,483.67 C639.61,480.75 639.5,476.37 639.43,473.94 C639.36,471.5 639.34,467.45 639.32,467.45 C639.3,467.45 639.32,471.5 639.32,473.94 C639.32,476.37 639.32,480.75 639.32,483.67 C639.32,486.59 639.32,490.68 639.32,493.41 C639.32,496.13 639.32,499.41 639.32,501.84 C639.32,504.28 639.32,507 639.32,509.63 C639.32,512.26 639.32,516.44 639.32,519.37 C639.32,522.29 639.32,527.35 639.32,529.1 C639.32,530.85 639.2,531.05 639.32,531.05Z" fill="#f0938d" stroke="#151515" stroke-width="0.36"/>
<line x1="637.72" y1="505.74" x2="638.92" y2="505.74" stroke="#111" stroke-width="0.5"/>
<line x1="639.72" y1="505.74" x2="640.92" y2="505.74" stroke="#111" stroke-width="0.5"/>
<circle cx="640.32" cy="505.74" r="0.45" fill="#000"/>
<text x="639.32" y="470.2" font-size="6.9" text-anchor="middle" fill="#111" stroke="#111" stroke-width="0.2">**</text>
<line x1="577.4" y1="532" x2="577.4" y2="534.2" stroke="#333" stroke-width="0.5"/>
<text x="576.95" y="535.6" font-size="6.9" text-anchor="end" fill="#333" stroke="#333" stroke-width="0.2" transform="rotate(-45 576.95 535.6)" dominant-baseline="hanging">C3+ Macro</text>
<line x1="587.72" y1="532" x2="587.72" y2="534.2" stroke="#333" stroke-width="0.5"/>
<text x="587.27" y="535.6" font-size="6.9" text-anchor="end" fill="#333" stroke="#333" stroke-width="0.2" transform="rotate(-45 587.27 535.6)" dominant-baseline="hanging">CD163L1+ Macro</text>
<line x1="598.04" y1="532" x2="598.04" y2="534.2" stroke="#333" stroke-width="0.5"/>
<text x="597.59" y="535.6" font-size="6.9" text-anchor="end" fill="#333" stroke="#333" stroke-width="0.2" transform="rotate(-45 597.59 535.6)" dominant-baseline="hanging">CXCL5+ Macro</text>
<line x1="608.36" y1="532" x2="608.36" y2="534.2" stroke="#333" stroke-width="0.5"/>
<text x="607.91" y="535.6" font-size="6.9" text-anchor="end" fill="#333" stroke="#333" stroke-width="0.2" transform="rotate(-45 607.91 535.6)" dominant-baseline="hanging">FCN1+ Mono</text>
<line x1="618.68" y1="532" x2="618.68" y2="534.2" stroke="#333" stroke-width="0.5"/>
<text x="618.23" y="535.6" font-size="6.9" text-anchor="end" fill="#333" stroke="#333" stroke-width="0.2" transform="rotate(-45 618.23 535.6)" dominant-baseline="hanging">PLK1+ Macro</text>
<line x1="629" y1="532" x2="629" y2="534.2" stroke="#333" stroke-width="0.5"/>
<text x="628.55" y="535.6" font-size="6.9" text-anchor="end" fill="#333" stroke="#333" stroke-width="0.2" transform="rotate(-45 628.55 535.6)" dominant-baseline="hanging">SPP1+ Macro</text>
<line x1="639.32" y1="532" x2="639.32" y2="534.2" stroke="#333" stroke-width="0.5"/>
<text x="638.87" y="535.6" font-size="6.9" text-anchor="end" fill="#333" stroke="#333" stroke-width="0.2" transform="rotate(-45 638.87 535.6)" dominant-baseline="hanging">TRPM2+ Macro</text>
<text x="647.8" y="444.6" font-size="6.9" fill="#1a1a1a" stroke="#1a1a1a" stroke-width="0.2">VSIR_group</text>
<rect x="650.4" y="451.4" width="6.9" height="7.7" fill="#8fb6f4" stroke="#9a9a9a" stroke-width="0.5"/>
<rect x="650.4" y="459.1" width="6.9" height="7.9" fill="#f5a4a0" stroke="#9a9a9a" stroke-width="0.5"/>
<circle cx="653.85" cy="455.2" r="0.45" fill="#000"/>
<circle cx="653.85" cy="463" r="0.45" fill="#000"/>
<text x="660.4" y="457.3" font-size="6.9" fill="#1a1a1a" stroke="#1a1a1a" stroke-width="0.2">VSIR−</text>
<text x="660.4" y="465.3" font-size="6.9" fill="#1a1a1a" stroke="#1a1a1a" stroke-width="0.2">VSIR+</text>
</svg>
</body></html>
